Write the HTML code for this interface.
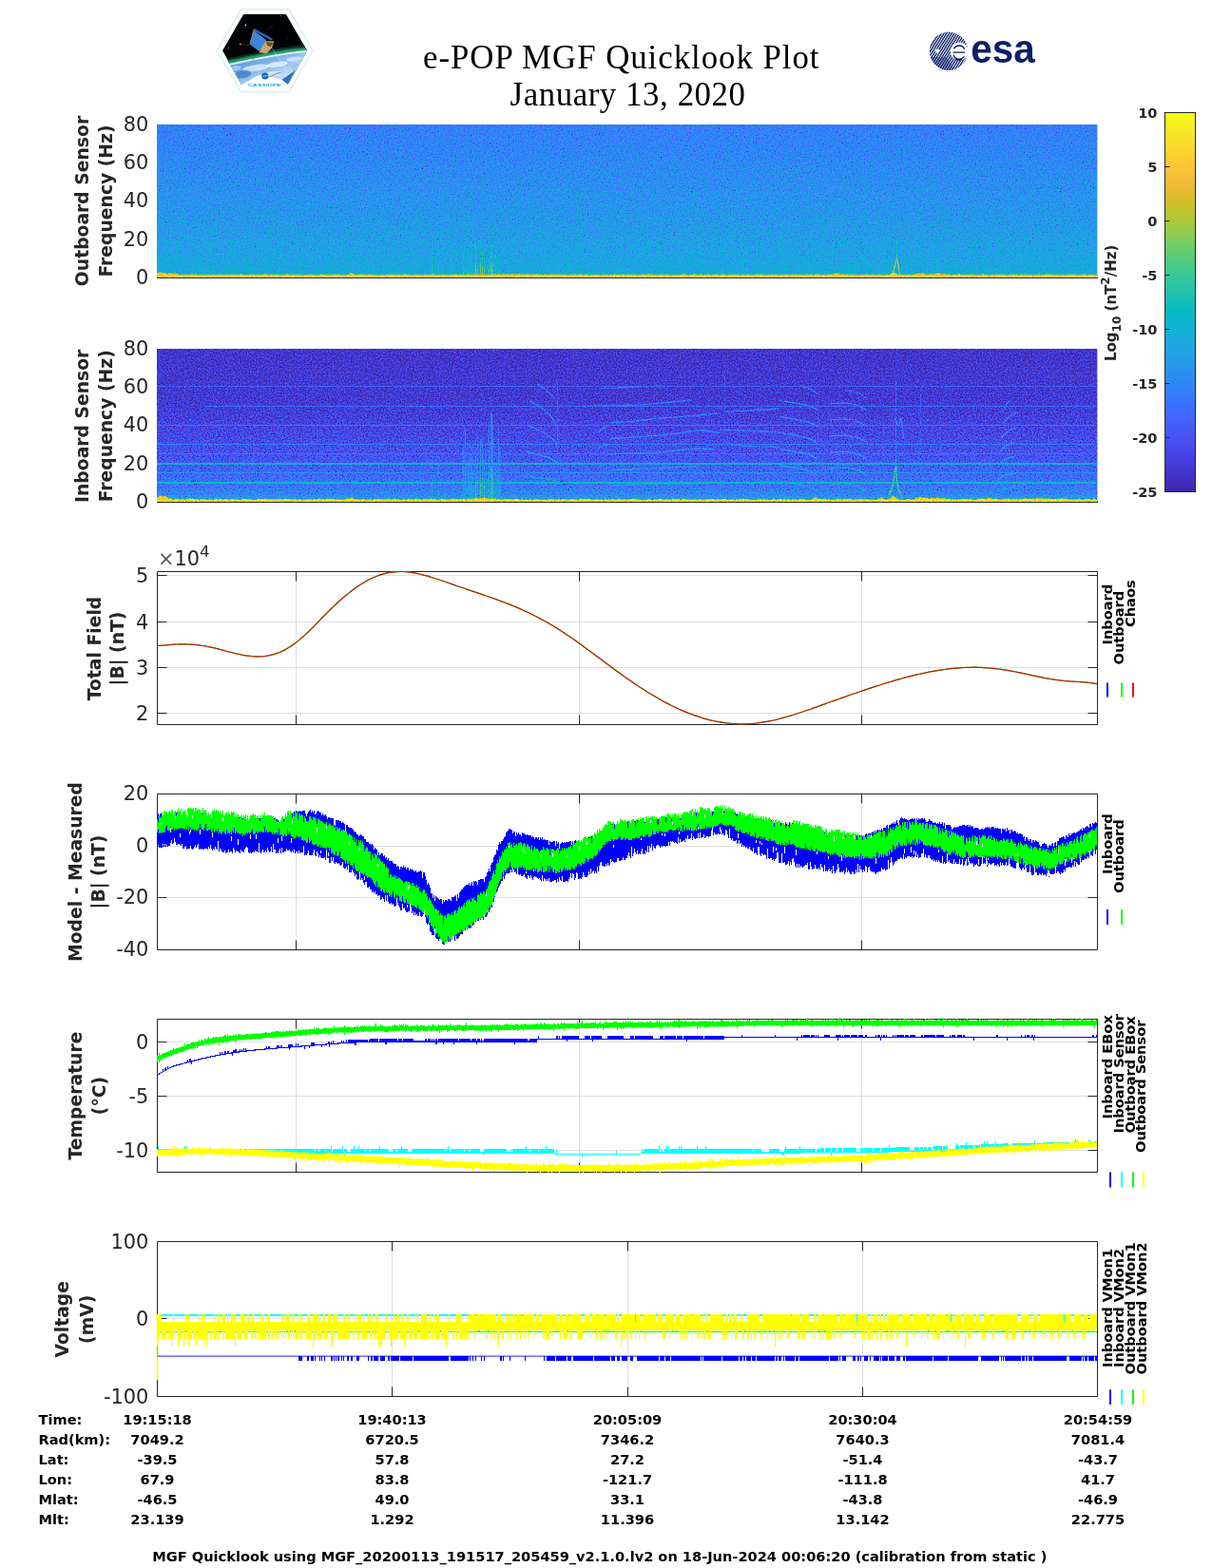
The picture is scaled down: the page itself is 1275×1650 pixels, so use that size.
<!DOCTYPE html>
<html lang="en"><head><meta charset="utf-8"><title>e-POP MGF Quicklook Plot</title>
<style>
html,body{margin:0;padding:0;background:#fff}
svg{display:block}
text{font-family:"DejaVu Sans","Liberation Sans",sans-serif;fill:#262626}
.tk{font-size:20.83px}
.yl{font-size:18.75px;font-weight:bold;text-anchor:middle}
.lg{font-size:14.58px;font-weight:bold;fill:#000}
.tb{font-size:14.58px;font-weight:bold;fill:#000}
.cb{font-size:14.58px;font-weight:bold;text-anchor:end}
.ttl{font-family:"Liberation Serif","DejaVu Serif",serif;font-size:34.8px;fill:#000}
</style></head><body>
<svg width="1275" height="1650" viewBox="0 0 1275 1650">
<defs>
<filter id="cm1" filterUnits="userSpaceOnUse" x="0" y="0" width="1275" height="1650" color-interpolation-filters="sRGB">
<feTurbulence type="fractalNoise" baseFrequency="0.66" numOctaves="3" seed="3" result="n"/>
<feColorMatrix in="n" type="matrix" values="1 0 0 0 0  1 0 0 0 0  1 0 0 0 0  0 0 0 0 1" result="ng"/>
<feComponentTransfer in="ng" result="nk"><feFuncR type="table" tableValues="0 0.28 0.47 0.6 0.69 0.76 0.815 0.86 0.895 0.92 0.94"/><feFuncG type="table" tableValues="0 0.28 0.47 0.6 0.69 0.76 0.815 0.86 0.895 0.92 0.94"/><feFuncB type="table" tableValues="0 0.28 0.47 0.6 0.69 0.76 0.815 0.86 0.895 0.92 0.94"/></feComponentTransfer>
<feComposite in="SourceGraphic" in2="nk" operator="arithmetic" k1="0" k2="1" k3="0.62" k4="-0.4712" result="v"/>
<feComposite in="v" in2="SourceGraphic" operator="in" result="vc"/>
<feComponentTransfer in="vc">
<feFuncR type="table" tableValues="0.2422 0.2504 0.2578 0.2647 0.2706 0.2751 0.2783 0.2803 0.2813 0.2810 0.2795 0.2760 0.2699 0.2602 0.2440 0.2206 0.1963 0.1834 0.1786 0.1764 0.1687 0.1540 0.1460 0.1380 0.1248 0.1113 0.0952 0.0689 0.0297 0.0036 0.0067 0.0433 0.0964 0.1408 0.1717 0.1938 0.2161 0.2470 0.2906 0.3406 0.3909 0.4456 0.5044 0.5616 0.6174 0.6720 0.7242 0.7738 0.8203 0.8634 0.9035 0.9393 0.9728 0.9956 0.9970 0.9952 0.9892 0.9786 0.9676 0.9610 0.9597 0.9628 0.9691 0.9769"/>
<feFuncG type="table" tableValues="0.1504 0.1650 0.1818 0.1978 0.2147 0.2342 0.2559 0.2782 0.3006 0.3228 0.3447 0.3667 0.3892 0.4123 0.4358 0.4603 0.4847 0.5074 0.5289 0.5499 0.5703 0.5902 0.6091 0.6276 0.6459 0.6635 0.6798 0.6948 0.7082 0.7203 0.7312 0.7411 0.7500 0.7584 0.7670 0.7758 0.7843 0.7918 0.7973 0.8008 0.8029 0.8024 0.7993 0.7942 0.7876 0.7793 0.7698 0.7598 0.7498 0.7406 0.7330 0.7288 0.7298 0.7434 0.7659 0.7893 0.8136 0.8386 0.8639 0.8890 0.9135 0.9373 0.9606 0.9839"/>
<feFuncB type="table" tableValues="0.6603 0.7076 0.7511 0.7952 0.8364 0.8710 0.8991 0.9221 0.9414 0.9579 0.9717 0.9829 0.9906 0.9952 0.9988 0.9973 0.9892 0.9798 0.9682 0.9520 0.9359 0.9218 0.9079 0.8973 0.8883 0.8763 0.8598 0.8394 0.8163 0.7917 0.7660 0.7394 0.7120 0.6842 0.6554 0.6251 0.5923 0.5567 0.5188 0.4789 0.4354 0.3909 0.3480 0.3045 0.2612 0.2227 0.1910 0.1646 0.1535 0.1596 0.1774 0.2100 0.2394 0.2371 0.2199 0.2028 0.1885 0.1766 0.1643 0.1537 0.1423 0.1265 0.1064 0.0805"/>
</feComponentTransfer>
</filter>
<filter id="cm2" filterUnits="userSpaceOnUse" x="0" y="0" width="1275" height="1650" color-interpolation-filters="sRGB">
<feTurbulence type="fractalNoise" baseFrequency="0.66" numOctaves="3" seed="8" result="n"/>
<feColorMatrix in="n" type="matrix" values="1 0 0 0 0  1 0 0 0 0  1 0 0 0 0  0 0 0 0 1" result="ng"/>
<feComponentTransfer in="ng" result="nk"><feFuncR type="table" tableValues="0 0.28 0.47 0.6 0.69 0.76 0.815 0.86 0.895 0.92 0.94"/><feFuncG type="table" tableValues="0 0.28 0.47 0.6 0.69 0.76 0.815 0.86 0.895 0.92 0.94"/><feFuncB type="table" tableValues="0 0.28 0.47 0.6 0.69 0.76 0.815 0.86 0.895 0.92 0.94"/></feComponentTransfer>
<feComposite in="SourceGraphic" in2="nk" operator="arithmetic" k1="0" k2="1" k3="0.82" k4="-0.6232" result="v"/>
<feComposite in="v" in2="SourceGraphic" operator="in" result="vc"/>
<feComponentTransfer in="vc">
<feFuncR type="table" tableValues="0.2422 0.2504 0.2578 0.2647 0.2706 0.2751 0.2783 0.2803 0.2813 0.2810 0.2795 0.2760 0.2699 0.2602 0.2440 0.2206 0.1963 0.1834 0.1786 0.1764 0.1687 0.1540 0.1460 0.1380 0.1248 0.1113 0.0952 0.0689 0.0297 0.0036 0.0067 0.0433 0.0964 0.1408 0.1717 0.1938 0.2161 0.2470 0.2906 0.3406 0.3909 0.4456 0.5044 0.5616 0.6174 0.6720 0.7242 0.7738 0.8203 0.8634 0.9035 0.9393 0.9728 0.9956 0.9970 0.9952 0.9892 0.9786 0.9676 0.9610 0.9597 0.9628 0.9691 0.9769"/>
<feFuncG type="table" tableValues="0.1504 0.1650 0.1818 0.1978 0.2147 0.2342 0.2559 0.2782 0.3006 0.3228 0.3447 0.3667 0.3892 0.4123 0.4358 0.4603 0.4847 0.5074 0.5289 0.5499 0.5703 0.5902 0.6091 0.6276 0.6459 0.6635 0.6798 0.6948 0.7082 0.7203 0.7312 0.7411 0.7500 0.7584 0.7670 0.7758 0.7843 0.7918 0.7973 0.8008 0.8029 0.8024 0.7993 0.7942 0.7876 0.7793 0.7698 0.7598 0.7498 0.7406 0.7330 0.7288 0.7298 0.7434 0.7659 0.7893 0.8136 0.8386 0.8639 0.8890 0.9135 0.9373 0.9606 0.9839"/>
<feFuncB type="table" tableValues="0.6603 0.7076 0.7511 0.7952 0.8364 0.8710 0.8991 0.9221 0.9414 0.9579 0.9717 0.9829 0.9906 0.9952 0.9988 0.9973 0.9892 0.9798 0.9682 0.9520 0.9359 0.9218 0.9079 0.8973 0.8883 0.8763 0.8598 0.8394 0.8163 0.7917 0.7660 0.7394 0.7120 0.6842 0.6554 0.6251 0.5923 0.5567 0.5188 0.4789 0.4354 0.3909 0.3480 0.3045 0.2612 0.2227 0.1910 0.1646 0.1535 0.1596 0.1774 0.2100 0.2394 0.2371 0.2199 0.2028 0.1885 0.1766 0.1643 0.1537 0.1423 0.1265 0.1064 0.0805"/>
</feComponentTransfer>
</filter>
<linearGradient id="g1" x1="0" y1="0" x2="0" y2="1"><stop offset="0" stop-color="#454545"/><stop offset="0.5" stop-color="#555555"/><stop offset="0.9" stop-color="#646464"/><stop offset="1" stop-color="#6e6e6e"/></linearGradient>
<linearGradient id="g2" x1="0" y1="0" x2="0" y2="1"><stop offset="0" stop-color="#0e0e0e"/><stop offset="0.35" stop-color="#131313"/><stop offset="0.7" stop-color="#262626"/><stop offset="0.93" stop-color="#454545"/><stop offset="1" stop-color="#575757"/></linearGradient>
<linearGradient id="cbg" x1="0" y1="0" x2="0" y2="1"><stop offset="0.0000" stop-color="#f9fb15"/><stop offset="0.0476" stop-color="#f5e924"/><stop offset="0.0952" stop-color="#fad62d"/><stop offset="0.1429" stop-color="#fec338"/><stop offset="0.1905" stop-color="#f0ba36"/><stop offset="0.2381" stop-color="#d1bf27"/><stop offset="0.2857" stop-color="#abc739"/><stop offset="0.3333" stop-color="#81cc59"/><stop offset="0.3810" stop-color="#57cc7a"/><stop offset="0.4286" stop-color="#37c897"/><stop offset="0.4762" stop-color="#24c1ae"/><stop offset="0.5238" stop-color="#02bac3"/><stop offset="0.5714" stop-color="#12b1d6"/><stop offset="0.6190" stop-color="#20a5e3"/><stop offset="0.6667" stop-color="#2797eb"/><stop offset="0.7143" stop-color="#2e87f7"/><stop offset="0.7619" stop-color="#3875fe"/><stop offset="0.8095" stop-color="#4563fd"/><stop offset="0.8571" stop-color="#4852f4"/><stop offset="0.9048" stop-color="#4741e5"/><stop offset="0.9524" stop-color="#4332cb"/><stop offset="1.0000" stop-color="#3e26a8"/></linearGradient>
</defs>
<rect x="0" y="0" width="1275" height="1650" fill="#fff"/>
<text class="ttl" x="445" y="71.5" textLength="416.5" lengthAdjust="spacing">e-POP MGF Quicklook Plot</text>
<text class="ttl" x="536.5" y="110.8" textLength="247.5" lengthAdjust="spacing">January 13, 2020</text>
<defs>
<clipPath id="hexc"><path d="M234.1 53.3L256.2 14.9L300.9 14.9L323.1 53.3L302.8 88.7L253.9 88.7Z"/></clipPath>
<linearGradient id="earth" x1="0" y1="0" x2="1" y2="1"><stop offset="0" stop-color="#2f74c9"/><stop offset="0.4" stop-color="#7fb2e8"/><stop offset="0.7" stop-color="#c4ddf6"/><stop offset="1" stop-color="#3f82d4"/></linearGradient>
<radialGradient id="sky" cx="0.5" cy="0.4" r="0.7"><stop offset="0" stop-color="#05070d"/><stop offset="1" stop-color="#000"/></radialGradient>
</defs>
<g id="cassiope">
<path d="M228.5 53.3L253.4 9.9L304.0 9.9L329.0 53.3L304.0 96.8L253.4 96.8Z" fill="none" stroke="#b4dfec" stroke-width="0.8"/>
<g clip-path="url(#hexc)">
<rect x="232" y="13" width="94" height="78" fill="#010204"/>
<path d="M233.2 62.4C235.7 61.9 242.6 60.5 248.2 59.4C253.9 58.2 260.8 56.7 267.1 55.4C273.3 54.2 279.6 53.0 285.9 51.9C292.2 50.8 298.4 49.7 304.7 48.8C311.0 48.0 320.4 47.1 323.5 46.8L323.5 94.1L233.2 94.1Z" fill="#072a20"/>
<path d="M233.2 64.6C235.7 64.1 242.6 62.7 248.2 61.6C253.9 60.4 260.8 58.9 267.1 57.6C273.3 56.3 279.6 55.1 285.9 54.0C292.2 52.9 298.4 51.9 304.7 51.0C311.0 50.2 320.4 49.3 323.5 48.9L323.5 94.1L233.2 94.1Z" fill="#17694a"/>
<path d="M233.2 66.1C235.7 65.6 242.6 64.2 248.2 63.1C253.9 61.9 260.8 60.4 267.1 59.1C273.3 57.9 279.6 56.6 285.9 55.5C292.2 54.4 298.4 53.4 304.7 52.5C311.0 51.7 320.4 50.8 323.5 50.4L323.5 94.1L233.2 94.1Z" fill="#2a9c6c"/>
<path d="M233.2 68.5C235.7 68.0 242.6 66.7 248.2 65.5C253.9 64.3 260.8 62.8 267.1 61.6C273.3 60.3 279.6 59.1 285.9 58.0C292.2 56.9 298.4 55.8 304.7 55.0C311.0 54.1 320.4 53.2 323.5 52.9L323.5 94.1L233.2 94.1Z" fill="#dfeefc"/>
<path d="M233.2 70.6C235.7 70.1 242.6 68.7 248.2 67.6C253.9 66.4 260.8 64.9 267.1 63.6C273.3 62.4 279.6 61.1 285.9 60.0C292.2 58.9 298.4 57.9 304.7 57.0C311.0 56.2 320.4 55.3 323.5 55.0L323.5 94.1L233.2 94.1Z" fill="url(#earth)"/>
<ellipse cx="268.9" cy="71.5" rx="14.1" ry="3.4" fill="#ffffff" opacity="0.6" transform="rotate(-8 268.9 71.5)"/>
<ellipse cx="291.5" cy="67.8" rx="11.3" ry="2.8" fill="#ffffff" opacity="0.65" transform="rotate(-8 291.5 67.8)"/>
<ellipse cx="309.4" cy="62.1" rx="8.5" ry="2.4" fill="#eaf4ff" opacity="0.6" transform="rotate(-8 309.4 62.1)"/>
<ellipse cx="255.8" cy="78.1" rx="8.5" ry="4.2" fill="#2a6cc0" opacity="0.6" transform="rotate(-8 255.8 78.1)"/>
<ellipse cx="285.9" cy="78.1" rx="10.4" ry="2.8" fill="#ffffff" opacity="0.5" transform="rotate(-8 285.9 78.1)"/>
<ellipse cx="312.2" cy="71.5" rx="5.6" ry="4.7" fill="#8dbcec" opacity="0.6" transform="rotate(-8 312.2 71.5)"/>
<ellipse cx="248.2" cy="71.5" rx="5.6" ry="2.4" fill="#dcecfb" opacity="0.5" transform="rotate(-8 248.2 71.5)"/>
<path d="M251.1 90.4C252.9 89.4 258.7 86.6 262.4 84.7C266.0 82.8 269.1 79.8 272.7 79.1C276.3 78.3 280.9 79.4 284.0 80.0C287.1 80.6 289.0 82.0 291.5 82.8C294.0 83.6 296.9 83.5 299.1 84.7C301.3 86.0 303.8 89.4 304.7 90.4" fill="#fff"/>
<path d="M296.7 83.8L310.8 73.9L302.8 88.9Z" fill="#2f6fc4"/>
<path d="M286.4 50.8L294.4 63.1L301.9 75.3" stroke="#e8f2ff" stroke-width="0.5" fill="none" opacity="0.9"/>
<path d="M252.5 46.6L262.8 47.5" stroke="#8a6a3a" stroke-width="0.45" fill="none"/>
<path d="M265.6 63.1L273.6 55.1" stroke="#8a6a3a" stroke-width="0.45" fill="none"/>
<path d="M280.2 32.0L287.8 25.4" stroke="#4a4030" stroke-width="0.35" fill="none"/>
<path d="M276.5 43.3L288.2 43.3L285.9 50.8L280.2 56.5L272.7 55.1Z" fill="#c9a568"/>
<path d="M280.2 44.2L287.3 44.7L284.9 48.9L281.2 48.0Z" fill="#6b4a25"/>
<path d="M266.8 30.3L268.9 31.1L264.2 47.1L262.4 46.1Z" fill="#b07a3a"/>
<path d="M268.5 30.6L287.3 40.9L284.9 42.4L267.1 32.5Z" fill="#2a66b8"/>
<path d="M267.5 32.5L280.2 41.9L272.7 54.1L262.8 46.6Z" fill="#3f86d8"/>
<circle cx="252.8" cy="46.6" r="0.9" fill="#f0b040"/>
<circle cx="265.9" cy="62.9" r="0.7" fill="#d09030"/>
<circle cx="258.4" cy="26.5" r="0.9" fill="#cfd4ff"/>
<circle cx="240.2" cy="50.4" r="0.7" fill="#9a90d0"/>
<circle cx="295.3" cy="16.5" r="0.6" fill="#a0a0b0"/>
<circle cx="302.8" cy="40.5" r="0.4" fill="#707080"/>
<circle cx="272.7" cy="21.6" r="0.4" fill="#606070"/>
<circle cx="309.4" cy="31.1" r="0.35" fill="#606070"/>
<circle cx="248.2" cy="40.5" r="0.35" fill="#505060"/>
</g>
<circle cx="278.8" cy="80.0" r="3.6" fill="#1d62b4"/>
<path d="M276.5 80.2L281.6 79.6" stroke="#fff" stroke-width="0.7" fill="none"/>
<path d="M281.6 80.9C282.4 80.8 284.2 80.6 285.9 80.0C287.5 79.4 290.0 77.7 291.5 77.2C293.1 76.6 294.7 76.8 295.3 76.7" stroke="#1d62b4" stroke-width="0.8" fill="none"/>
<text x="260.9" y="90.6" textLength="35" lengthAdjust="spacingAndGlyphs" style="font-family:'Liberation Sans',sans-serif;font-size:3.6px;font-weight:bold;fill:#2aa3dc">CASSIOPE</text>
</g>
<defs><pattern id="esastripe" width="2.3" height="2.3" patternUnits="userSpaceOnUse" patternTransform="rotate(-58 998 54)"><rect x="0" y="0" width="2.3" height="1.35" fill="#0c2066"/></pattern><clipPath id="esac"><circle cx="998" cy="53.8" r="20.2"/></clipPath></defs>
<g id="esa">
<circle cx="998" cy="53.8" r="20.2" fill="url(#esastripe)"/>
<g clip-path="url(#esac)"><path d="M978 60 A20 20 0 0 0 1004 73 L996 60 Z" fill="#0c2066" opacity="0.35"/></g>
<circle cx="1009.2" cy="54" r="9.6" fill="#fff"/>
<circle cx="986" cy="53.6" r="2.1" fill="#fff"/>
<path d="M1002.6 55.2 H1015.2 M1003.4 51.2 A6.3 6.3 0 0 1 1014.6 51.6 M1003 57.6 A6.4 6.4 0 0 0 1014.4 59.4 M1004.6 61.3 A6 6 0 0 0 1012 62.4" stroke="#0c2066" stroke-width="1.3" fill="none"/>
<text x="1021.3" y="65.7" textLength="67.5" lengthAdjust="spacingAndGlyphs" style="font-family:'Liberation Sans',sans-serif;font-size:43px;font-weight:bold;fill:#0c2066">esa</text>
</g>
<g filter="url(#cm1)"><rect x="165" y="131" width="989.5" height="161" fill="url(#g1)"/><path d="M454.5 263.5V280.7" stroke="#8f8f8f" stroke-width="1" fill="none" opacity="0.47"/><path d="M454.5 280.7V290" stroke="#a6a6a6" stroke-width="1" fill="none" opacity="0.56"/><path d="M461.5 264.9V281.2" stroke="#8f8f8f" stroke-width="1" fill="none" opacity="0.34"/><path d="M461.5 281.2V290" stroke="#a6a6a6" stroke-width="1" fill="none" opacity="0.40"/><path d="M487.5 266.4V281.7" stroke="#8f8f8f" stroke-width="1" fill="none" opacity="0.57"/><path d="M487.5 281.7V290" stroke="#a6a6a6" stroke-width="1" fill="none" opacity="0.67"/><path d="M489.5 270.4V283.1" stroke="#8f8f8f" stroke-width="1" fill="none" opacity="0.35"/><path d="M489.5 283.1V290" stroke="#a6a6a6" stroke-width="1" fill="none" opacity="0.41"/><path d="M492.5 260.1V279.5" stroke="#8f8f8f" stroke-width="1" fill="none" opacity="0.49"/><path d="M492.5 279.5V290" stroke="#a6a6a6" stroke-width="1" fill="none" opacity="0.58"/><path d="M494.5 274.7V284.6" stroke="#8f8f8f" stroke-width="1" fill="none" opacity="0.49"/><path d="M494.5 284.6V290" stroke="#a6a6a6" stroke-width="1" fill="none" opacity="0.58"/><path d="M496.5 259.4V279.3" stroke="#8f8f8f" stroke-width="1" fill="none" opacity="0.37"/><path d="M496.5 279.3V290" stroke="#a6a6a6" stroke-width="1" fill="none" opacity="0.44"/><path d="M500.5 255.1V277.8" stroke="#8f8f8f" stroke-width="1" fill="none" opacity="0.66"/><path d="M500.5 277.8V290" stroke="#bdbdbd" stroke-width="1" fill="none" opacity="0.78"/><path d="M502.5 270.3V283.1" stroke="#8f8f8f" stroke-width="1" fill="none" opacity="0.49"/><path d="M502.5 283.1V290" stroke="#bdbdbd" stroke-width="1" fill="none" opacity="0.57"/><path d="M505.5 252.7V276.9" stroke="#8f8f8f" stroke-width="1" fill="none" opacity="0.54"/><path d="M505.5 276.9V290" stroke="#bdbdbd" stroke-width="1" fill="none" opacity="0.64"/><path d="M507.5 265.0V281.3" stroke="#8f8f8f" stroke-width="1" fill="none" opacity="0.65"/><path d="M507.5 281.3V290" stroke="#bdbdbd" stroke-width="1" fill="none" opacity="0.76"/><path d="M509.5 265.0V281.3" stroke="#8f8f8f" stroke-width="1" fill="none" opacity="0.43"/><path d="M509.5 281.3V290" stroke="#bdbdbd" stroke-width="1" fill="none" opacity="0.50"/><path d="M514.5 269.4V282.8" stroke="#8f8f8f" stroke-width="1" fill="none" opacity="0.59"/><path d="M514.5 282.8V290" stroke="#bdbdbd" stroke-width="1" fill="none" opacity="0.69"/><path d="M516.5 257.3V278.6" stroke="#8f8f8f" stroke-width="1" fill="none" opacity="0.63"/><path d="M516.5 278.6V290" stroke="#bdbdbd" stroke-width="1" fill="none" opacity="0.74"/><path d="M517.5 265.3V281.3" stroke="#8f8f8f" stroke-width="1" fill="none" opacity="0.49"/><path d="M517.5 281.3V290" stroke="#bdbdbd" stroke-width="1" fill="none" opacity="0.58"/><path d="M518.5 256.8V278.4" stroke="#8f8f8f" stroke-width="1" fill="none" opacity="0.49"/><path d="M518.5 278.4V290" stroke="#bdbdbd" stroke-width="1" fill="none" opacity="0.57"/><path d="M521.5 264.6V281.1" stroke="#8f8f8f" stroke-width="1" fill="none" opacity="0.45"/><path d="M521.5 281.1V290" stroke="#a6a6a6" stroke-width="1" fill="none" opacity="0.52"/><path d="M524.5 267.9V282.3" stroke="#8f8f8f" stroke-width="1" fill="none" opacity="0.42"/><path d="M524.5 282.3V290" stroke="#a6a6a6" stroke-width="1" fill="none" opacity="0.49"/><path d="M525.5 274.6V284.6" stroke="#8f8f8f" stroke-width="1" fill="none" opacity="0.36"/><path d="M525.5 284.6V290" stroke="#a6a6a6" stroke-width="1" fill="none" opacity="0.43"/><path d="M938.0 290.0C938.4 288.8 939.6 286.0 940.5 283.0C941.4 280.0 942.7 272.0 943.5 272.0C944.3 272.0 944.9 280.0 945.5 283.0C946.1 286.0 946.8 288.8 947.0 290.0" stroke="#dbdbdb" stroke-width="1.1" fill="none" opacity="0.9"/><path d="M943.5 254V272" stroke="#9e9e9e" stroke-width="1" fill="none" opacity="0.6"/><rect x="165" y="287.5" width="989.5" height="2" fill="#808080" opacity="0.3"/><path d="M165 292L165 287.4L166.5 287.1L168 286.6L169.5 286.4L171 287.2L172.5 287L174 287.6L175.5 288L177 288.2L178.5 286.9L180 287.7L181.5 287.8L183 287.5L184.5 287.5L186 288.2L187.5 288.4L189 289L190.5 289L192 288.8L193.5 289.4L195 288.9L196.5 289.2L198 288.6L199.5 289.4L201 288.8L202.5 288.6L204 289.3L205.5 288.6L207 288.6L208.5 289.5L210 288.8L211.5 289.5L213 289L214.5 289.1L216 289.3L217.5 289.2L219 288.7L220.5 289.2L222 289.4L223.5 288.8L225 289.1L226.5 288.7L228 289.3L229.5 289.2L231 288.7L232.5 289L234 289L235.5 289.3L237 289.5L238.5 288.6L240 289.4L241.5 288.7L243 289.1L244.5 288.5L246 289.1L247.5 288.6L249 288.9L250.5 289.3L252 288.8L253.5 288.8L255 288.8L256.5 289L258 289.3L259.5 288.9L261 289.4L262.5 288.8L264 288.9L265.5 289.1L267 288.7L268.5 289.3L270 289.1L271.5 288.7L273 289.1L274.5 288.8L276 288.9L277.5 288.6L279 288.5L280.5 288.8L282 288.7L283.5 289.3L285 288.8L286.5 288.7L288 289.1L289.5 288.9L291 289L292.5 288.5L294 289.2L295.5 289.1L297 289.5L298.5 289.1L300 288.9L301.5 288.6L303 288.6L304.5 289.2L306 288.5L307.5 289.3L309 288.7L310.5 289.3L312 289.1L313.5 289.4L315 288.6L316.5 288.7L318 289.4L319.5 289L321 289.2L322.5 289L324 288.9L325.5 289.4L327 288.6L328.5 289.2L330 289.1L331.5 289.4L333 289.5L334.5 289.3L336 289.2L337.5 288.6L339 288.6L340.5 289L342 289L343.5 288.8L345 288.6L346.5 289.2L348 288.7L349.5 289.1L351 288.9L352.5 288.8L354 289L355.5 288.8L357 288.8L358.5 289.5L360 289.5L361.5 289.3L363 289.3L364.5 289.2L366 288.9L367.5 288.2L369 287.1L370.5 287.4L372 288.5L373.5 289L375 289.1L376.5 288.8L378 288.7L379.5 288.6L381 289.1L382.5 288.8L384 289.2L385.5 288.7L387 289.3L388.5 288.6L390 289L391.5 288.8L393 289L394.5 289.2L396 289L397.5 289.4L399 289.5L400.5 289L402 289L403.5 288.7L405 289.5L406.5 288.9L408 289L409.5 288.9L411 288.8L412.5 289L414 288.9L415.5 289L417 288.9L418.5 289.3L420 288.9L421.5 288.8L423 289.3L424.5 288.5L426 288.8L427.5 288.5L429 289.2L430.5 289.1L432 289.2L433.5 289.5L435 289.5L436.5 289.3L438 288.6L439.5 289.3L441 288.8L442.5 289.3L444 289.4L445.5 289.3L447 288.8L448.5 289L450 289L451.5 289L453 289.2L454.5 289L456 288.6L457.5 289.3L459 288.8L460.5 289.2L462 289.3L463.5 289.2L465 289.4L466.5 288.6L468 289.1L469.5 289.3L471 289.5L472.5 289.4L474 289.3L475.5 289.1L477 288.9L478.5 288.5L480 288.6L481.5 289.2L483 288.9L484.5 288.6L486 289.4L487.5 288.6L489 289.1L490.5 288.7L492 289.1L493.5 288.8L495 288.9L496.5 289.3L498 288.6L499.5 288.6L501 288.9L502.5 289L504 288.4L505.5 289L507 288.4L508.5 288.8L510 288.9L511.5 288.9L513 289.1L514.5 289L516 289L517.5 289.1L519 288.5L520.5 288.6L522 289L523.5 288.8L525 288.2L526.5 288.9L528 288.7L529.5 287.8L531 288.9L532.5 288.6L534 288.1L535.5 289L537 288.7L538.5 287.9L540 288.4L541.5 288.4L543 288.2L544.5 288.7L546 287.9L547.5 287.9L549 289L550.5 288.5L552 288.9L553.5 288.6L555 288.4L556.5 288.3L558 288.9L559.5 288.7L561 288.8L562.5 288.7L564 288.5L565.5 288.4L567 288.9L568.5 288.8L570 289.2L571.5 288.9L573 288.4L574.5 288.8L576 288.8L577.5 288.8L579 288.8L580.5 288.6L582 289.1L583.5 289.1L585 288.5L586.5 288.9L588 288.5L589.5 289.3L591 288.7L592.5 289L594 289L595.5 288.6L597 289.4L598.5 289L600 289.2L601.5 289.1L603 288.7L604.5 289.1L606 288.7L607.5 289.5L609 288.5L610.5 288.5L612 288.8L613.5 289.3L615 288.8L616.5 289.3L618 289.1L619.5 289.5L621 289.4L622.5 289.3L624 289.3L625.5 288.7L627 289.3L628.5 288.7L630 289.5L631.5 289.4L633 289.4L634.5 288.6L636 288.7L637.5 289.5L639 288.6L640.5 289.3L642 289.2L643.5 288.9L645 289.3L646.5 288.5L648 289.1L649.5 288.9L651 288.9L652.5 289.2L654 288.8L655.5 288.5L657 288.9L658.5 289.4L660 288.7L661.5 288.8L663 289L664.5 288.8L666 289.2L667.5 289.2L669 289L670.5 289.4L672 288.9L673.5 289.3L675 289.2L676.5 288.6L678 288.9L679.5 289.3L681 288.8L682.5 288.5L684 288.6L685.5 288.7L687 289.2L688.5 288.9L690 288.9L691.5 289.4L693 288.8L694.5 289L696 289L697.5 288.8L699 289.4L700.5 289.3L702 288.5L703.5 289.2L705 289.2L706.5 289.4L708 289.2L709.5 288.9L711 289.5L712.5 289.2L714 289.2L715.5 289.3L717 288.7L718.5 288.5L720 288.6L721.5 289.1L723 289.4L724.5 289.2L726 289L727.5 289.1L729 288.8L730.5 288.8L732 288.6L733.5 289L735 289.3L736.5 288.6L738 288.6L739.5 289.4L741 289.3L742.5 288.8L744 288.7L745.5 288.5L747 289.5L748.5 289.3L750 289.1L751.5 288.9L753 288.7L754.5 288.9L756 289L757.5 289.3L759 288.8L760.5 288.9L762 288.6L763.5 289.3L765 289.4L766.5 289.1L768 289.2L769.5 289L771 289.3L772.5 288.8L774 288.7L775.5 289.5L777 288.6L778.5 289.4L780 289.2L781.5 289L783 289.1L784.5 289.3L786 288.8L787.5 288.7L789 289.3L790.5 289.3L792 289L793.5 289.4L795 288.6L796.5 288.6L798 288.7L799.5 289.1L801 288.7L802.5 289.1L804 289L805.5 289.4L807 289.5L808.5 288.8L810 289.3L811.5 288.5L813 288.9L814.5 288.9L816 288.6L817.5 289.2L819 289.5L820.5 289.3L822 289L823.5 289.3L825 289.2L826.5 288.8L828 289.1L829.5 289.2L831 289.3L832.5 289L834 288.5L835.5 289.3L837 288.7L838.5 288.7L840 288.9L841.5 289L843 289L844.5 289.4L846 288.9L847.5 288.5L849 288.8L850.5 289L852 289.1L853.5 288.6L855 289.5L856.5 289.3L858 288.5L859.5 288.8L861 288.7L862.5 289L864 289.5L865.5 289L867 288.9L868.5 289.4L870 289L871.5 288.4L873 289.1L874.5 289L876 288.6L877.5 287.7L879 287.4L880.5 287.9L882 287.6L883.5 288.7L885 288.5L886.5 288.3L888 289.2L889.5 288.9L891 288.6L892.5 289.1L894 288.7L895.5 289L897 288.6L898.5 289.1L900 288.7L901.5 289.4L903 289.2L904.5 289.4L906 289.1L907.5 289.1L909 289.3L910.5 289.1L912 288.8L913.5 288.9L915 289.3L916.5 288.8L918 288.8L919.5 289.1L921 289L922.5 289.3L924 288.7L925.5 289.1L927 289.2L928.5 288.6L930 289.2L931.5 289.3L933 289.1L934.5 288.9L936 288.4L937.5 287.7L939 287.2L940.5 287L942 287.3L943.5 288.6L945 288.9L946.5 289L948 289.2L949.5 288.7L951 289L952.5 289.4L954 289.1L955.5 289L957 289.1L958.5 289.3L960 288.5L961.5 289.1L963 288L964.5 287.9L966 287.7L967.5 287.5L969 287.9L970.5 287.5L972 288.1L973.5 288.6L975 289L976.5 289.1L978 288.6L979.5 288.5L981 288.2L982.5 288.5L984 288.2L985.5 287.4L987 287.4L988.5 287.5L990 288.5L991.5 288.5L993 288.5L994.5 288.3L996 288.8L997.5 288.6L999 288.8L1000.5 289.4L1002 288.5L1003.5 288.9L1005 288.9L1006.5 289.2L1008 288.6L1009.5 288.5L1011 289.2L1012.5 289L1014 289.4L1015.5 288.7L1017 288.9L1018.5 289.3L1020 288.7L1021.5 289L1023 288.6L1024.5 288.7L1026 289.4L1027.5 289.3L1029 288.7L1030.5 289.5L1032 289.4L1033.5 288.6L1035 288.7L1036.5 289.2L1038 289.2L1039.5 289.5L1041 289.4L1042.5 289.5L1044 288.9L1045.5 288.9L1047 289.4L1048.5 288.7L1050 289L1051.5 288.9L1053 288.8L1054.5 289.3L1056 288.7L1057.5 289.1L1059 289L1060.5 289.4L1062 289.2L1063.5 289L1065 288.8L1066.5 289L1068 288.9L1069.5 288.7L1071 289.1L1072.5 289.5L1074 288.9L1075.5 288.6L1077 289.5L1078.5 289L1080 288.8L1081.5 289L1083 289.4L1084.5 289L1086 289.4L1087.5 289.4L1089 289.2L1090.5 289.3L1092 289L1093.5 288.6L1095 289.3L1096.5 288.5L1098 289.2L1099.5 288.7L1101 289L1102.5 288.7L1104 288.6L1105.5 288.7L1107 289.4L1108.5 288.6L1110 289.4L1111.5 288.8L1113 289.5L1114.5 289.2L1116 289.4L1117.5 288.9L1119 289.2L1120.5 288.9L1122 289.3L1123.5 289.1L1125 288.6L1126.5 288.9L1128 289L1129.5 288.8L1131 288.5L1132.5 289.2L1134 289.4L1135.5 289.3L1137 289.3L1138.5 289.1L1140 288.8L1141.5 288.7L1143 289.4L1144.5 289.3L1146 289.1L1147.5 288.7L1149 289L1150.5 289L1152 289.2L1153.5 289L1154.5 292Z" fill="#dbdbdb"/><rect x="165" y="290.6" width="989.5" height="1.4" fill="#e0e0e0"/></g>
<path d="M165 292.5H1155" stroke="#262626" stroke-width="1" fill="none"/>
<text class="tk" text-anchor="end" x="156.3" y="137.8">80</text>
<text class="tk" text-anchor="end" x="156.3" y="178.0">60</text>
<text class="tk" text-anchor="end" x="156.3" y="218.3">40</text>
<text class="tk" text-anchor="end" x="156.3" y="258.5">20</text>
<text class="tk" text-anchor="end" x="156.3" y="298.8">0</text>
<text class="yl" transform="translate(92.5,211.5) rotate(-90)">Outboard Sensor</text>
<text class="yl" transform="translate(118,211.5) rotate(-90)">Frequency (Hz)</text>
<g filter="url(#cm2)"><rect x="165" y="367" width="989.5" height="161" fill="url(#g2)"/><path d="M165 406.5H1154.5" stroke="#383838" stroke-width="1" fill="none" opacity="0.9"/><path d="M215 427.5H1154.5" stroke="#404040" stroke-width="1" fill="none" opacity="0.9"/><path d="M165 447.5H1154.5" stroke="#424242" stroke-width="1" fill="none" opacity="0.95"/><path d="M165 467.5H1154.5" stroke="#474747" stroke-width="1" fill="none" opacity="0.95"/><path d="M165 477.5H1154.5" stroke="#454545" stroke-width="1" fill="none" opacity="0.8"/><path d="M165 488H1154.5" stroke="#6b6b6b" stroke-width="2" fill="none" opacity="1"/><path d="M165 497.5H1154.5" stroke="#575757" stroke-width="1" fill="none" opacity="0.85"/><path d="M165 508H1154.5" stroke="#737373" stroke-width="2" fill="none" opacity="1"/><path d="M165 517.5H1154.5" stroke="#545454" stroke-width="1" fill="none" opacity="0.5"/><defs><linearGradient id="glow" x1="0" y1="0" x2="0" y2="1"><stop offset="0" stop-color="#fff" stop-opacity="0"/><stop offset="1" stop-color="#fff" stop-opacity="0.1"/></linearGradient></defs><rect x="486" y="460" width="41" height="65" fill="url(#glow)"/><path d="M454.5 475.5V507.4" stroke="#616161" stroke-width="1" fill="none" opacity="0.37"/><path d="M454.5 507.4V524.5" stroke="#7d7d7d" stroke-width="1" fill="none" opacity="0.43"/><path d="M461.5 489.6V512.3" stroke="#616161" stroke-width="1" fill="none" opacity="0.49"/><path d="M461.5 512.3V524.5" stroke="#7d7d7d" stroke-width="1" fill="none" opacity="0.57"/><path d="M487.5 470.8V505.7" stroke="#616161" stroke-width="1" fill="none" opacity="0.57"/><path d="M487.5 505.7V524.5" stroke="#7d7d7d" stroke-width="1" fill="none" opacity="0.67"/><path d="M489.5 450.9V498.7" stroke="#616161" stroke-width="1" fill="none" opacity="0.53"/><path d="M489.5 498.7V524.5" stroke="#7d7d7d" stroke-width="1" fill="none" opacity="0.63"/><path d="M492.5 491.5V512.9" stroke="#616161" stroke-width="1" fill="none" opacity="0.46"/><path d="M492.5 512.9V524.5" stroke="#7d7d7d" stroke-width="1" fill="none" opacity="0.54"/><path d="M494.5 463.3V503.1" stroke="#616161" stroke-width="1" fill="none" opacity="0.33"/><path d="M494.5 503.1V524.5" stroke="#7d7d7d" stroke-width="1" fill="none" opacity="0.39"/><path d="M496.5 469.9V505.4" stroke="#616161" stroke-width="1" fill="none" opacity="0.40"/><path d="M496.5 505.4V524.5" stroke="#7d7d7d" stroke-width="1" fill="none" opacity="0.47"/><path d="M500.5 472.8V506.4" stroke="#616161" stroke-width="1" fill="none" opacity="0.70"/><path d="M500.5 506.4V524.5" stroke="#999999" stroke-width="1" fill="none" opacity="0.82"/><path d="M502.5 459.8V501.9" stroke="#616161" stroke-width="1" fill="none" opacity="0.46"/><path d="M502.5 501.9V524.5" stroke="#999999" stroke-width="1" fill="none" opacity="0.54"/><path d="M505.5 463.1V503.0" stroke="#616161" stroke-width="1" fill="none" opacity="0.74"/><path d="M505.5 503.0V524.5" stroke="#999999" stroke-width="1" fill="none" opacity="0.87"/><path d="M507.5 461.8V502.5" stroke="#616161" stroke-width="1" fill="none" opacity="0.49"/><path d="M507.5 502.5V524.5" stroke="#999999" stroke-width="1" fill="none" opacity="0.57"/><path d="M509.5 482.2V509.7" stroke="#616161" stroke-width="1" fill="none" opacity="0.60"/><path d="M509.5 509.7V524.5" stroke="#999999" stroke-width="1" fill="none" opacity="0.70"/><path d="M514.5 444.2V496.4" stroke="#616161" stroke-width="1" fill="none" opacity="0.57"/><path d="M514.5 496.4V524.5" stroke="#999999" stroke-width="1" fill="none" opacity="0.67"/><path d="M516.5 432.7V492.4" stroke="#616161" stroke-width="1" fill="none" opacity="0.60"/><path d="M516.5 492.4V524.5" stroke="#999999" stroke-width="1" fill="none" opacity="0.71"/><path d="M517.5 435.9V493.5" stroke="#616161" stroke-width="1" fill="none" opacity="0.62"/><path d="M517.5 493.5V524.5" stroke="#999999" stroke-width="1" fill="none" opacity="0.73"/><path d="M518.5 449.0V498.1" stroke="#616161" stroke-width="1" fill="none" opacity="0.57"/><path d="M518.5 498.1V524.5" stroke="#999999" stroke-width="1" fill="none" opacity="0.66"/><path d="M521.5 488.5V511.9" stroke="#616161" stroke-width="1" fill="none" opacity="0.50"/><path d="M521.5 511.9V524.5" stroke="#7d7d7d" stroke-width="1" fill="none" opacity="0.59"/><path d="M524.5 450.6V498.6" stroke="#616161" stroke-width="1" fill="none" opacity="0.50"/><path d="M524.5 498.6V524.5" stroke="#7d7d7d" stroke-width="1" fill="none" opacity="0.59"/><path d="M525.5 472.8V506.4" stroke="#616161" stroke-width="1" fill="none" opacity="0.34"/><path d="M525.5 506.4V524.5" stroke="#7d7d7d" stroke-width="1" fill="none" opacity="0.40"/><path d="M586.5 400V524" stroke="#4c4c4c" stroke-width="1" fill="none" opacity="0.5"/><path d="M762.5 380V524" stroke="#333333" stroke-width="1" fill="none" opacity="0.5"/><path d="M929.5 440V524" stroke="#474747" stroke-width="1" fill="none" opacity="0.4"/><path d="M968.5 405V524" stroke="#404040" stroke-width="1" fill="none" opacity="0.4"/><path d="M988.5 440V524" stroke="#404040" stroke-width="1" fill="none" opacity="0.4"/><path d="M1000.5 470V524" stroke="#404040" stroke-width="1" fill="none" opacity="0.4"/><path d="M860.5 420V524" stroke="#404040" stroke-width="1" fill="none" opacity="0.4"/><path d="M557.3 421.9C559.6 423.2 566.9 427.1 570.7 429.9C574.4 432.7 577.6 435.6 580.0 438.7C582.4 441.7 584.4 446.4 585.3 448.0" stroke="#5e5e5e" stroke-width="1.15" fill="none" opacity="0.9"/><path d="M556.0 448.0C558.0 448.9 564.0 451.2 568.0 453.3C572.0 455.5 576.9 458.4 580.0 460.8C583.1 463.2 585.6 466.8 586.7 468.0" stroke="#636363" stroke-width="1.15" fill="none" opacity="0.9"/><path d="M553.3 475.2C555.8 475.8 563.6 477.7 568.0 478.9C572.4 480.2 576.9 481.2 580.0 482.7C583.1 484.1 585.6 486.7 586.7 487.5" stroke="#6e6e6e" stroke-width="1.15" fill="none" opacity="0.9"/><path d="M550.7 500.8C553.6 501.2 563.1 502.3 568.0 502.9C572.9 503.6 576.9 504.1 580.0 504.8C583.1 505.5 585.6 506.8 586.7 507.2" stroke="#6e6e6e" stroke-width="1.15" fill="none" opacity="0.9"/><path d="M565.3 404.0C566.9 405.1 571.6 408.0 574.7 410.7C577.8 413.3 582.4 418.4 584.0 420.0" stroke="#4f4f4f" stroke-width="1.15" fill="none" opacity="0.9"/><path d="M629.3 454.7C630.2 454.0 632.9 451.9 634.7 450.7C636.4 449.5 639.1 448.0 640.0 447.5" stroke="#5e5e5e" stroke-width="1.15" fill="none" opacity="0.9"/><path d="M629.3 472.0C630.2 471.5 632.9 469.5 634.7 468.8C636.4 468.1 639.1 468.1 640.0 468.0" stroke="#5e5e5e" stroke-width="1.15" fill="none" opacity="0.9"/><path d="M629.3 490.7C630.2 490.4 633.8 489.1 634.7 488.8" stroke="#5e5e5e" stroke-width="1.15" fill="none" opacity="0.9"/><path d="M641.3 444.8C645.6 444.5 658.0 444.0 666.7 443.2C675.3 442.4 682.2 441.0 693.3 440.0C704.4 439.0 723.1 438.2 733.3 437.3C743.6 436.4 751.1 435.1 754.7 434.7" stroke="#5e5e5e" stroke-width="1.15" fill="none" opacity="0.9"/><path d="M641.3 461.3C646.4 461.1 662.0 460.4 672.0 459.7C682.0 459.1 690.7 458.5 701.3 457.3C712.0 456.2 728.4 453.4 736.0 452.8C743.6 452.2 743.1 453.4 746.7 453.9C750.2 454.3 755.6 455.2 757.3 455.5" stroke="#616161" stroke-width="1.15" fill="none" opacity="0.9"/><path d="M641.3 477.9C646.4 477.7 662.0 477.2 672.0 476.8C682.0 476.4 690.7 476.0 701.3 475.2C712.0 474.4 727.6 472.4 736.0 472.0C744.4 471.6 749.3 472.9 752.0 473.1" stroke="#666666" stroke-width="1.15" fill="none" opacity="0.9"/><path d="M641.3 494.7C646.4 494.4 662.0 493.8 672.0 493.3C682.0 492.9 691.1 492.4 701.3 492.0C711.6 491.6 728.0 490.9 733.3 490.7" stroke="#6b6b6b" stroke-width="1.15" fill="none" opacity="0.9"/><path d="M613.3 427.2C619.6 427.1 639.1 427.0 650.7 426.7C662.2 426.4 669.8 426.3 682.7 425.3C695.6 424.4 720.4 421.6 728.0 420.8" stroke="#545454" stroke-width="1.15" fill="none" opacity="0.9"/><path d="M632.0 408.5C637.8 408.4 655.6 407.9 666.7 407.5C677.8 407.0 693.3 406.1 698.7 405.9" stroke="#454545" stroke-width="1.15" fill="none" opacity="0.9"/><path d="M762.7 433.3C766.7 433.1 777.1 432.6 786.7 432.0C796.2 431.4 814.4 430.2 820.0 429.9" stroke="#575757" stroke-width="1.15" fill="none" opacity="0.9"/><path d="M757.3 452.0C762.2 452.2 776.2 452.9 786.7 453.3C797.1 453.8 814.4 454.4 820.0 454.7" stroke="#595959" stroke-width="1.15" fill="none" opacity="0.9"/><path d="M762.7 466.7C766.7 467.1 777.1 468.7 786.7 469.3C796.2 470.0 814.4 470.4 820.0 470.7" stroke="#595959" stroke-width="1.15" fill="none" opacity="0.9"/><path d="M642.7 510.7C651.1 510.4 676.0 509.7 693.3 509.3C710.7 509.0 737.8 508.7 746.7 508.5" stroke="#696969" stroke-width="1.15" fill="none" opacity="0.9"/><path d="M820.0 421.3C822.7 421.8 831.1 423.1 836.0 424.0C840.9 424.9 845.3 425.4 849.3 426.7C853.3 427.9 858.2 430.7 860.0 431.5" stroke="#5e5e5e" stroke-width="1.15" fill="none" opacity="0.9"/><path d="M873.3 424.8C876.0 424.7 884.4 423.7 889.3 424.0C894.2 424.3 899.0 425.4 902.7 426.7C906.3 427.9 909.8 430.7 911.2 431.5" stroke="#5e5e5e" stroke-width="1.15" fill="none" opacity="0.9"/><path d="M820.0 438.4C822.7 438.8 831.1 440.2 836.0 441.1C840.9 442.0 845.3 442.5 849.3 443.7C853.3 445.0 858.2 447.7 860.0 448.5" stroke="#616161" stroke-width="1.15" fill="none" opacity="0.9"/><path d="M873.3 441.9C876.0 441.7 884.4 440.8 889.3 441.1C894.2 441.4 899.0 442.5 902.7 443.7C906.3 445.0 909.8 447.7 911.2 448.5" stroke="#616161" stroke-width="1.15" fill="none" opacity="0.9"/><path d="M820.0 455.5C822.7 455.9 831.1 457.2 836.0 458.1C840.9 459.0 845.3 459.6 849.3 460.8C853.3 462.0 858.2 464.8 860.0 465.6" stroke="#646464" stroke-width="1.15" fill="none" opacity="0.9"/><path d="M873.3 458.9C876.0 458.8 884.4 457.8 889.3 458.1C894.2 458.4 899.0 459.6 902.7 460.8C906.3 462.0 909.8 464.8 911.2 465.6" stroke="#646464" stroke-width="1.15" fill="none" opacity="0.9"/><path d="M820.0 472.5C822.7 473.0 831.1 474.3 836.0 475.2C840.9 476.1 845.3 476.6 849.3 477.9C853.3 479.1 858.2 481.9 860.0 482.7" stroke="#686868" stroke-width="1.15" fill="none" opacity="0.9"/><path d="M873.3 476.0C876.0 475.9 884.4 474.9 889.3 475.2C894.2 475.5 899.0 476.6 902.7 477.9C906.3 479.1 909.8 481.9 911.2 482.7" stroke="#686868" stroke-width="1.15" fill="none" opacity="0.9"/><path d="M820.0 489.6C822.7 490.0 831.1 491.4 836.0 492.3C840.9 493.2 845.3 493.7 849.3 494.9C853.3 496.2 858.2 498.9 860.0 499.7" stroke="#6b6b6b" stroke-width="1.15" fill="none" opacity="0.9"/><path d="M873.3 493.1C876.0 492.9 884.4 492.0 889.3 492.3C894.2 492.6 899.0 493.7 902.7 494.9C906.3 496.2 909.8 498.9 911.2 499.7" stroke="#6b6b6b" stroke-width="1.15" fill="none" opacity="0.9"/><path d="M820.0 506.7C822.7 507.1 831.1 508.4 836.0 509.3C840.9 510.2 845.3 510.8 849.3 512.0C853.3 513.2 858.2 516.0 860.0 516.8" stroke="#6e6e6e" stroke-width="1.15" fill="none" opacity="0.9"/><path d="M873.3 510.1C876.0 510.0 884.4 509.0 889.3 509.3C894.2 509.6 899.0 510.8 902.7 512.0C906.3 513.2 909.8 516.0 911.2 516.8" stroke="#6e6e6e" stroke-width="1.15" fill="none" opacity="0.9"/><path d="M841.3 405.3C843.1 406.0 848.9 407.8 852.0 409.3C855.1 410.9 858.7 413.8 860.0 414.7" stroke="#4a4a4a" stroke-width="1.15" fill="none" opacity="0.9"/><path d="M889.3 410.7C891.6 411.1 899.1 412.1 902.7 413.3C906.2 414.6 909.3 417.3 910.7 418.1" stroke="#4a4a4a" stroke-width="1.15" fill="none" opacity="0.9"/><path d="M1049.3 517.3C1051.1 516.7 1056.0 514.4 1060.0 513.3C1064.0 512.3 1071.1 511.6 1073.3 511.2" stroke="#6e6e6e" stroke-width="1.15" fill="none" opacity="0.9"/><path d="M1049.3 505.3C1050.7 504.4 1053.8 501.3 1057.3 500.0C1060.9 498.7 1068.4 497.8 1070.7 497.3" stroke="#6e6e6e" stroke-width="1.15" fill="none" opacity="0.9"/><path d="M1050.7 489.3C1051.8 488.4 1054.4 485.0 1057.3 483.5C1060.2 481.9 1066.2 480.6 1068.0 480.0" stroke="#696969" stroke-width="1.15" fill="none" opacity="0.9"/><path d="M1052.0 475.2C1053.1 474.1 1056.2 470.4 1058.7 468.8C1061.1 467.2 1065.3 465.9 1066.7 465.3" stroke="#636363" stroke-width="1.15" fill="none" opacity="0.9"/><path d="M1053.3 460.8C1054.4 459.6 1057.6 455.6 1060.0 453.9C1062.4 452.2 1066.7 451.2 1068.0 450.7" stroke="#5e5e5e" stroke-width="1.15" fill="none" opacity="0.9"/><path d="M1054.7 445.9C1055.8 444.7 1058.9 440.7 1061.3 438.7C1063.8 436.7 1068.0 434.7 1069.3 433.9" stroke="#595959" stroke-width="1.15" fill="none" opacity="0.9"/><path d="M1056.0 429.9C1056.7 428.9 1058.8 425.4 1060.0 424.0C1061.2 422.6 1062.7 421.8 1063.2 421.3" stroke="#525252" stroke-width="1.15" fill="none" opacity="0.9"/><path d="M941.3 440.0C942.0 441.3 944.2 448.0 945.3 448.0C946.4 448.0 947.1 437.8 948.0 440.0C948.9 442.2 950.2 457.8 950.7 461.3" stroke="#595959" stroke-width="1.15" fill="none" opacity="0.9"/><path d="M946.7 478.7C947.3 478.4 950.0 477.6 950.7 477.3" stroke="#6b6b6b" stroke-width="1.15" fill="none" opacity="0.9"/><path d="M934.0 524.0C934.8 522.0 937.6 517.5 939.0 512.0C940.4 506.5 941.7 491.3 942.5 491.0C943.3 490.7 942.9 504.5 944.0 510.0C945.1 515.5 948.2 521.7 949.0 524.0" stroke="#b8b8b8" stroke-width="1.3" fill="none" opacity="0.85"/><path d="M942.5 480V495" stroke="#999999" stroke-width="1" fill="none" opacity="0.6"/><path d="M942.5 400V480" stroke="#666666" stroke-width="1" fill="none" opacity="0.4"/><rect x="165" y="521" width="989.5" height="4" fill="#6b6b6b" opacity="0.35"/><path d="M165 528L165 522.6L166.5 523.5L168 521.8L169.5 521.4L171 522.4L172.5 521.9L174 522.2L175.5 522.8L177 524.6L178.5 523.9L180 524.5L181.5 525.6L183 525.9L184.5 524.7L186 524.5L187.5 524.8L189 525.6L190.5 525L192 525.6L193.5 524.9L195 525.7L196.5 524.8L198 524.5L199.5 524.5L201 524.7L202.5 524.6L204 525L205.5 525.2L207 524.6L208.5 526L210 525.5L211.5 525.1L213 525.3L214.5 524.8L216 525.8L217.5 526L219 525.9L220.5 524.6L222 525.9L223.5 525.7L225 525.5L226.5 525.1L228 524.8L229.5 526L231 524.6L232.5 524.9L234 525.6L235.5 525.8L237 525.1L238.5 525.1L240 525.7L241.5 525.8L243 524.9L244.5 525L246 524.8L247.5 525.7L249 524.9L250.5 526L252 526.1L253.5 525.8L255 524.8L256.5 525.2L258 525.1L259.5 525.2L261 525.1L262.5 525.6L264 524.9L265.5 526.1L267 525.5L268.5 526L270 525.9L271.5 524.7L273 525.1L274.5 524.8L276 525.1L277.5 525.2L279 524.8L280.5 525.1L282 525.3L283.5 525.2L285 525.2L286.5 525.6L288 525L289.5 525.4L291 525.1L292.5 525.3L294 524.9L295.5 525L297 526L298.5 524.8L300 524.7L301.5 525.6L303 524.9L304.5 524.7L306 525.3L307.5 525.9L309 524.9L310.5 524.8L312 525.6L313.5 525.8L315 524.9L316.5 525.3L318 526.1L319.5 525.8L321 525.8L322.5 525.2L324 525.2L325.5 525.3L327 525.6L328.5 525.5L330 525.3L331.5 525.2L333 525.2L334.5 525L336 524.5L337.5 524.9L339 525.3L340.5 524.5L342 525.9L343.5 524.6L345 525.3L346.5 525.3L348 524.7L349.5 525.1L351 524.8L352.5 525.5L354 525.2L355.5 525.1L357 525.7L358.5 524.9L360 525.8L361.5 525.8L363 525.5L364.5 524.2L366 524.2L367.5 524.7L369 523.8L370.5 523L372 524.9L373.5 525.1L375 525.6L376.5 524.9L378 525.9L379.5 525.5L381 525.4L382.5 524.7L384 525.5L385.5 525.9L387 525.4L388.5 525.5L390 525.2L391.5 525.9L393 525.4L394.5 525.1L396 525.4L397.5 524.6L399 525.5L400.5 524.7L402 525.6L403.5 525.5L405 525L406.5 525.2L408 524.6L409.5 524.7L411 525.6L412.5 525.6L414 525.1L415.5 524.8L417 525.9L418.5 524.7L420 525.5L421.5 525.9L423 525.7L424.5 524.8L426 525.7L427.5 525.9L429 525.1L430.5 524.6L432 525.6L433.5 525.3L435 525.5L436.5 524.6L438 524.7L439.5 525.3L441 524.5L442.5 525.7L444 525.4L445.5 525.2L447 524.9L448.5 525L450 525.4L451.5 524.6L453 524.5L454.5 524.7L456 525.4L457.5 524.8L459 525.7L460.5 525.8L462 526L463.5 524.8L465 524.5L466.5 525.6L468 524.9L469.5 525.7L471 524.9L472.5 525.8L474 525.3L475.5 524.8L477 524.5L478.5 525L480 524.9L481.5 525.3L483 525.7L484.5 524.6L486 525.7L487.5 524.6L489 525.2L490.5 525.6L492 525.5L493.5 524.5L495 524.9L496.5 524.8L498 524.7L499.5 523.9L501 523.8L502.5 524.4L504 524.5L505.5 523.4L507 524.2L508.5 523.7L510 523.7L511.5 524.3L513 524.2L514.5 524.7L516 524.3L517.5 524.4L519 525L520.5 524.3L522 525.5L523.5 525.2L525 524.8L526.5 525.8L528 524.5L529.5 526L531 524.6L532.5 525.6L534 524.7L535.5 525.6L537 524.8L538.5 525.2L540 525.4L541.5 525.2L543 524.5L544.5 524.7L546 525.6L547.5 525.7L549 524.6L550.5 525.9L552 526L553.5 525L555 525.8L556.5 526.1L558 525.1L559.5 525.9L561 525.7L562.5 524.9L564 524.6L565.5 525.4L567 525.3L568.5 526L570 525.3L571.5 525.8L573 525.2L574.5 525.9L576 525.6L577.5 524.7L579 525.6L580.5 524.8L582 525L583.5 525.9L585 525.4L586.5 525.3L588 525.3L589.5 525.8L591 525.6L592.5 524.9L594 525.2L595.5 525.4L597 525.4L598.5 525.4L600 525.3L601.5 525.2L603 524.7L604.5 526.1L606 525.1L607.5 526L609 526L610.5 524.6L612 525.1L613.5 525.3L615 524.8L616.5 525.3L618 524.7L619.5 524.7L621 524.5L622.5 526L624 525.5L625.5 525.8L627 525L628.5 525.1L630 525.5L631.5 525.9L633 525.3L634.5 525.9L636 524.9L637.5 525.3L639 526L640.5 524.9L642 525.7L643.5 525.3L645 525L646.5 525.5L648 525.8L649.5 525.2L651 524.9L652.5 524.7L654 525.8L655.5 525.4L657 525L658.5 525.9L660 526.1L661.5 524.7L663 525.5L664.5 524.7L666 524.8L667.5 525L669 524.5L670.5 525.8L672 525.4L673.5 525.7L675 525.8L676.5 525.7L678 525.6L679.5 525.8L681 525.2L682.5 524.7L684 525.3L685.5 525.9L687 525.9L688.5 524.9L690 525.6L691.5 526L693 524.8L694.5 524.6L696 525.1L697.5 526L699 525.7L700.5 525L702 524.9L703.5 526L705 524.5L706.5 525.9L708 524.5L709.5 525.1L711 525.3L712.5 524.8L714 524.8L715.5 525.9L717 525.8L718.5 524.6L720 524.6L721.5 524.8L723 526.1L724.5 525.2L726 525.6L727.5 525.2L729 525.9L730.5 524.9L732 525.9L733.5 525.7L735 525.7L736.5 524.7L738 525.6L739.5 525.7L741 525.6L742.5 525.4L744 525.2L745.5 525.1L747 525.5L748.5 525L750 525L751.5 525.3L753 525.7L754.5 524.8L756 525.4L757.5 525.4L759 525.4L760.5 524.7L762 524.9L763.5 524.6L765 526L766.5 525.6L768 525.4L769.5 525.6L771 524.7L772.5 526L774 525.8L775.5 524.7L777 525.9L778.5 524.5L780 525.3L781.5 524.6L783 524.9L784.5 525.1L786 525.6L787.5 524.9L789 525.7L790.5 526L792 525.6L793.5 525.4L795 526L796.5 525.4L798 525.3L799.5 525L801 525.1L802.5 526L804 524.8L805.5 526L807 525.3L808.5 526L810 525.4L811.5 525.9L813 524.7L814.5 524.7L816 525.7L817.5 525.9L819 525.2L820.5 525.1L822 525L823.5 525.7L825 524.7L826.5 526L828 525.6L829.5 524.6L831 525.8L832.5 525.7L834 524.9L835.5 525.7L837 524.9L838.5 526L840 525.6L841.5 524.8L843 525.1L844.5 525.2L846 524.8L847.5 525.9L849 525.8L850.5 525.7L852 525.9L853.5 525.7L855 524.8L856.5 523.8L858 522.8L859.5 524.1L861 525.1L862.5 524.8L864 525.5L865.5 525L867 525L868.5 524.9L870 526L871.5 524.8L873 525.7L874.5 526L876 525.9L877.5 525L879 525.8L880.5 525L882 525.1L883.5 525.6L885 524.6L886.5 525.9L888 524.8L889.5 525.3L891 525.2L892.5 524.8L894 525.3L895.5 524.8L897 525.9L898.5 525.5L900 524.7L901.5 525.8L903 524.7L904.5 525L906 525.5L907.5 524.9L909 525.5L910.5 525.6L912 525.1L913.5 525.3L915 525.8L916.5 525.5L918 525.4L919.5 525.7L921 525.7L922.5 525.7L924 524.5L925.5 524.7L927 522.7L928.5 524.2L930 524.6L931.5 525.8L933 525.9L934.5 524.6L936 524.4L937.5 523.8L939 521.7L940.5 521.9L942 523.5L943.5 524.2L945 525.8L946.5 525.5L948 525.4L949.5 525.5L951 526L952.5 526.1L954 525.2L955.5 525L957 525.3L958.5 525.4L960 525.7L961.5 525.3L963 524.5L964.5 523.5L966 524L967.5 522.9L969 523.4L970.5 523.5L972 523.6L973.5 523.7L975 523.2L976.5 524.4L978 524.5L979.5 523.4L981 523.7L982.5 523.9L984 524.7L985.5 523.5L987 523.8L988.5 524L990 524.4L991.5 524.4L993 524.1L994.5 524.5L996 525.5L997.5 524.4L999 525.2L1000.5 525.6L1002 524.8L1003.5 526.1L1005 525L1006.5 525.7L1008 525.6L1009.5 524.9L1011 525.4L1012.5 524.6L1014 524.9L1015.5 524.7L1017 524.7L1018.5 525.3L1020 525L1021.5 525.3L1023 525.3L1024.5 525.6L1026 526L1027.5 525.4L1029 524.4L1030.5 524.9L1032 524.5L1033.5 524.4L1035 524.4L1036.5 524.9L1038 524.7L1039.5 523.9L1041 524L1042.5 523.9L1044 524.9L1045.5 525.2L1047 524L1048.5 524.7L1050 525.1L1051.5 525.7L1053 525.7L1054.5 525.6L1056 524.7L1057.5 524.8L1059 525.2L1060.5 524.5L1062 524.5L1063.5 525.7L1065 524.5L1066.5 525.2L1068 524.5L1069.5 524.8L1071 525.7L1072.5 525.3L1074 524.1L1075.5 525.5L1077 524.7L1078.5 524.4L1080 524.1L1081.5 525.3L1083 524.5L1084.5 525L1086 524.7L1087.5 523.9L1089 525.1L1090.5 524L1092 523.8L1093.5 524.4L1095 524.4L1096.5 524L1098 524.8L1099.5 523.6L1101 524.7L1102.5 524.4L1104 524.5L1105.5 524.8L1107 525L1108.5 525L1110 524.7L1111.5 524.8L1113 525.2L1114.5 524.3L1116 524.8L1117.5 524L1119 524.9L1120.5 525L1122 524.7L1123.5 525.7L1125 525L1126.5 525.5L1128 525.6L1129.5 525.7L1131 525.3L1132.5 525.6L1134 525.2L1135.5 524.5L1137 525.6L1138.5 525.7L1140 525.3L1141.5 525.1L1143 524.7L1144.5 525.2L1146 524.6L1147.5 525.9L1149 526L1150.5 524.6L1152 525.1L1153.5 525.6L1154.5 528Z" fill="#dbdbdb"/><rect x="165" y="526" width="989.5" height="2" fill="#ebebeb"/></g>
<path d="M165 406.5H1154.5" stroke="#4367fd" stroke-width="1" fill="none" opacity="0.35"/>
<path d="M215 427.5H1154.5" stroke="#3b72ff" stroke-width="1" fill="none" opacity="0.4"/>
<path d="M165 447.5H1154.5" stroke="#347afd" stroke-width="1" fill="none" opacity="0.5"/>
<path d="M165 467.5H1154.5" stroke="#2f81fa" stroke-width="1" fill="none" opacity="0.5"/>
<path d="M165 477.5H1154.5" stroke="#2f81fa" stroke-width="1" fill="none" opacity="0.3"/>
<path d="M165 488H1154.5" stroke="#11b1d6" stroke-width="2" fill="none" opacity="0.55"/>
<path d="M165 497.5H1154.5" stroke="#2895ec" stroke-width="1" fill="none" opacity="0.4"/>
<path d="M165 508H1154.5" stroke="#05b6ce" stroke-width="2" fill="none" opacity="0.55"/>
<path d="M165 528.5H1155" stroke="#262626" stroke-width="1" fill="none"/>
<text class="tk" text-anchor="end" x="156.3" y="373.8">80</text>
<text class="tk" text-anchor="end" x="156.3" y="414.0">60</text>
<text class="tk" text-anchor="end" x="156.3" y="454.3">40</text>
<text class="tk" text-anchor="end" x="156.3" y="494.6">20</text>
<text class="tk" text-anchor="end" x="156.3" y="535.0">0</text>
<text class="yl" transform="translate(92.5,448.3) rotate(-90)">Inboard Sensor</text>
<text class="yl" transform="translate(118,448.3) rotate(-90)">Frequency (Hz)</text>
<rect x="1225.5" y="118.5" width="32" height="399" fill="url(#cbg)" stroke="#262626" stroke-width="1"/>
<path d="M1226 175.5h4.5M1226 232.5h4.5M1226 289.5h4.5M1226 346.5h4.5M1226 403.5h4.5M1226 460.5h4.5" stroke="#262626" stroke-width="1" fill="none"/>
<text class="cb" x="1217.5" y="123.5">10</text>
<text class="cb" x="1217.5" y="180.5">5</text>
<text class="cb" x="1217.5" y="237.5">0</text>
<text class="cb" x="1217.5" y="294.5">-5</text>
<text class="cb" x="1217.5" y="351.5">-10</text>
<text class="cb" x="1217.5" y="408.5">-15</text>
<text class="cb" x="1217.5" y="465.5">-20</text>
<text class="cb" x="1217.5" y="522.5">-25</text>
<text class="lg" style="fill:#262626;font-size:15px" transform="translate(1174.3,380) rotate(-90)">Log<tspan dy="5" font-size="12px">10</tspan><tspan dy="-5"> (nT</tspan><tspan dy="-7" font-size="12px">2</tspan><tspan dy="7">/Hz)</tspan></text>
<path d="M165.5 605.5H1154.5M165.5 654.5H1154.5M165.5 702.5H1154.5M165.5 750.5H1154.5" stroke="#262626" stroke-opacity="0.15" stroke-width="1" fill="none"/>
<path d="M311.5 601.5V762.5M609.5 601.5V762.5M906.5 601.5V762.5" stroke="#262626" stroke-opacity="0.15" stroke-width="1" fill="none"/>
<path d="M165.5 601.5H1154.5V762.5H165.5ZM165.5 605.5h10M1154.5 605.5h-10M165.5 654.5h10M1154.5 654.5h-10M165.5 702.5h10M1154.5 702.5h-10M165.5 750.5h10M1154.5 750.5h-10M311.5 601.5v10M311.5 762.5v-10M609.5 601.5v10M609.5 762.5v-10M906.5 601.5v10M906.5 762.5v-10" stroke="#262626" stroke-width="1" fill="none"/>
<g><path d="M165.5 679.5L168.5 679.3L171.5 679L174.5 678.8L177.5 678.6L180.5 678.4L183.5 678.2L186.5 678L189.5 677.9L192.5 677.9L195.5 677.9L198.5 678L201.5 678.2L204.5 678.4L207.5 678.7L210.5 679.1L213.5 679.5L216.5 680L219.5 680.6L222.5 681.2L225.5 681.9L228.5 682.6L231.5 683.4L234.5 684.2L237.5 685L240.5 685.8L243.5 686.5L246.5 687.3L249.5 688L252.5 688.7L255.5 689.3L258.5 689.8L261.5 690.2L264.5 690.5L267.5 690.8L270.5 690.8L273.5 690.8L276.5 690.6L279.5 690.3L282.5 689.8L285.5 689.2L288.5 688.4L291.5 687.4L294.5 686.2L297.5 684.9L300.5 683.4L303.5 681.6L306.5 679.7L309.5 677.6L312.5 675.4L315.5 672.9L318.5 670.3L321.5 667.6L324.5 664.8L327.5 661.8L330.5 658.8L333.5 655.7L336.5 652.6L339.5 649.5L342.5 646.5L345.5 643.4L348.5 640.5L351.5 637.6L354.5 634.7L357.5 632L360.5 629.4L363.5 626.8L366.5 624.4L369.5 622L372.5 619.8L375.5 617.6L378.5 615.6L381.5 613.7L384.5 612L387.5 610.3L390.5 608.8L393.5 607.5L396.5 606.2L399.5 605.1L402.5 604.2L405.5 603.4L408.5 602.7L411.5 602.2L414.5 601.8L417.5 601.6L420.5 601.5L423.5 601.5L426.5 601.7L429.5 601.9L432.5 602.3L435.5 602.8L438.5 603.4L441.5 604L444.5 604.8L447.5 605.6L450.5 606.4L453.5 607.4L456.5 608.3L459.5 609.3L462.5 610.3L465.5 611.3L468.5 612.3L471.5 613.3L474.5 614.4L477.5 615.4L480.5 616.5L483.5 617.5L486.5 618.5L489.5 619.5L492.5 620.6L495.5 621.6L498.5 622.6L501.5 623.6L504.5 624.6L507.5 625.6L510.5 626.7L513.5 627.7L516.5 628.7L519.5 629.8L522.5 630.9L525.5 632L528.5 633.1L531.5 634.3L534.5 635.4L537.5 636.6L540.5 637.9L543.5 639.1L546.5 640.4L549.5 641.8L552.5 643.1L555.5 644.5L558.5 646L561.5 647.5L564.5 649L567.5 650.6L570.5 652.2L573.5 653.8L576.5 655.5L579.5 657.3L582.5 659.1L585.5 660.9L588.5 662.8L591.5 664.7L594.5 666.7L597.5 668.7L600.5 670.8L603.5 672.8L606.5 675L609.5 677.1L612.5 679.3L615.5 681.5L618.5 683.7L621.5 685.9L624.5 688.1L627.5 690.4L630.5 692.6L633.5 694.8L636.5 697.1L639.5 699.3L642.5 701.5L645.5 703.7L648.5 705.9L651.5 708.1L654.5 710.3L657.5 712.4L660.5 714.5L663.5 716.6L666.5 718.7L669.5 720.7L672.5 722.7L675.5 724.6L678.5 726.6L681.5 728.4L684.5 730.3L687.5 732.1L690.5 733.8L693.5 735.6L696.5 737.2L699.5 738.9L702.5 740.4L705.5 742L708.5 743.5L711.5 744.9L714.5 746.3L717.5 747.6L720.5 748.9L723.5 750.1L726.5 751.3L729.5 752.4L732.5 753.4L735.5 754.4L738.5 755.4L741.5 756.3L744.5 757.1L747.5 757.8L750.5 758.5L753.5 759.2L756.5 759.7L759.5 760.2L762.5 760.7L765.5 761L768.5 761.3L771.5 761.6L774.5 761.7L777.5 761.8L780.5 761.9L783.5 761.8L786.5 761.7L789.5 761.5L792.5 761.3L795.5 761L798.5 760.6L801.5 760.2L804.5 759.7L807.5 759.2L810.5 758.6L813.5 758L816.5 757.3L819.5 756.5L822.5 755.7L825.5 754.9L828.5 754L831.5 753.1L834.5 752.2L837.5 751.2L840.5 750.3L843.5 749.3L846.5 748.2L849.5 747.2L852.5 746.2L855.5 745.1L858.5 744.1L861.5 743L864.5 741.9L867.5 740.9L870.5 739.8L873.5 738.7L876.5 737.6L879.5 736.6L882.5 735.5L885.5 734.4L888.5 733.4L891.5 732.3L894.5 731.3L897.5 730.2L900.5 729.2L903.5 728.2L906.5 727.1L909.5 726.1L912.5 725.1L915.5 724.1L918.5 723.1L921.5 722.1L924.5 721.2L927.5 720.2L930.5 719.3L933.5 718.4L936.5 717.5L939.5 716.6L942.5 715.7L945.5 714.9L948.5 714L951.5 713.2L954.5 712.4L957.5 711.6L960.5 710.9L963.5 710.2L966.5 709.5L969.5 708.8L972.5 708.2L975.5 707.5L978.5 706.9L981.5 706.4L984.5 705.9L987.5 705.4L990.5 704.9L993.5 704.5L996.5 704.1L999.5 703.7L1002.5 703.4L1005.5 703.1L1008.5 702.8L1011.5 702.6L1014.5 702.5L1017.5 702.4L1020.5 702.3L1023.5 702.2L1026.5 702.2L1029.5 702.3L1032.5 702.4L1035.5 702.6L1038.5 702.8L1041.5 703L1044.5 703.3L1047.5 703.6L1050.5 704L1053.5 704.4L1056.5 704.8L1059.5 705.3L1062.5 705.9L1065.5 706.4L1068.5 707L1071.5 707.6L1074.5 708.2L1077.5 708.8L1080.5 709.5L1083.5 710.1L1086.5 710.8L1089.5 711.4L1092.5 712.1L1095.5 712.7L1098.5 713.3L1101.5 713.8L1104.5 714.4L1107.5 714.9L1110.5 715.3L1113.5 715.7L1116.5 716.1L1119.5 716.4L1122.5 716.6L1125.5 716.9L1128.5 717.1L1131.5 717.3L1134.5 717.5L1137.5 717.7L1140.5 717.9L1143.5 718.2L1146.5 718.5L1149.5 718.9L1152.5 719.4L1154 719.7" stroke="#00b400" stroke-width="1.2" fill="none"/><path d="M165.5 679.5L168.5 679.3L171.5 679L174.5 678.8L177.5 678.6L180.5 678.4L183.5 678.2L186.5 678L189.5 677.9L192.5 677.9L195.5 677.9L198.5 678L201.5 678.2L204.5 678.4L207.5 678.7L210.5 679.1L213.5 679.5L216.5 680L219.5 680.6L222.5 681.2L225.5 681.9L228.5 682.6L231.5 683.4L234.5 684.2L237.5 685L240.5 685.8L243.5 686.5L246.5 687.3L249.5 688L252.5 688.7L255.5 689.3L258.5 689.8L261.5 690.2L264.5 690.5L267.5 690.8L270.5 690.8L273.5 690.8L276.5 690.6L279.5 690.3L282.5 689.8L285.5 689.2L288.5 688.4L291.5 687.4L294.5 686.2L297.5 684.9L300.5 683.4L303.5 681.6L306.5 679.7L309.5 677.6L312.5 675.4L315.5 672.9L318.5 670.3L321.5 667.6L324.5 664.8L327.5 661.8L330.5 658.8L333.5 655.7L336.5 652.6L339.5 649.5L342.5 646.5L345.5 643.4L348.5 640.5L351.5 637.6L354.5 634.7L357.5 632L360.5 629.4L363.5 626.8L366.5 624.4L369.5 622L372.5 619.8L375.5 617.6L378.5 615.6L381.5 613.7L384.5 612L387.5 610.3L390.5 608.8L393.5 607.5L396.5 606.2L399.5 605.1L402.5 604.2L405.5 603.4L408.5 602.7L411.5 602.2L414.5 601.8L417.5 601.6L420.5 601.5L423.5 601.5L426.5 601.7L429.5 601.9L432.5 602.3L435.5 602.8L438.5 603.4L441.5 604L444.5 604.8L447.5 605.6L450.5 606.4L453.5 607.4L456.5 608.3L459.5 609.3L462.5 610.3L465.5 611.3L468.5 612.3L471.5 613.3L474.5 614.4L477.5 615.4L480.5 616.5L483.5 617.5L486.5 618.5L489.5 619.5L492.5 620.6L495.5 621.6L498.5 622.6L501.5 623.6L504.5 624.6L507.5 625.6L510.5 626.7L513.5 627.7L516.5 628.7L519.5 629.8L522.5 630.9L525.5 632L528.5 633.1L531.5 634.3L534.5 635.4L537.5 636.6L540.5 637.9L543.5 639.1L546.5 640.4L549.5 641.8L552.5 643.1L555.5 644.5L558.5 646L561.5 647.5L564.5 649L567.5 650.6L570.5 652.2L573.5 653.8L576.5 655.5L579.5 657.3L582.5 659.1L585.5 660.9L588.5 662.8L591.5 664.7L594.5 666.7L597.5 668.7L600.5 670.8L603.5 672.8L606.5 675L609.5 677.1L612.5 679.3L615.5 681.5L618.5 683.7L621.5 685.9L624.5 688.1L627.5 690.4L630.5 692.6L633.5 694.8L636.5 697.1L639.5 699.3L642.5 701.5L645.5 703.7L648.5 705.9L651.5 708.1L654.5 710.3L657.5 712.4L660.5 714.5L663.5 716.6L666.5 718.7L669.5 720.7L672.5 722.7L675.5 724.6L678.5 726.6L681.5 728.4L684.5 730.3L687.5 732.1L690.5 733.8L693.5 735.6L696.5 737.2L699.5 738.9L702.5 740.4L705.5 742L708.5 743.5L711.5 744.9L714.5 746.3L717.5 747.6L720.5 748.9L723.5 750.1L726.5 751.3L729.5 752.4L732.5 753.4L735.5 754.4L738.5 755.4L741.5 756.3L744.5 757.1L747.5 757.8L750.5 758.5L753.5 759.2L756.5 759.7L759.5 760.2L762.5 760.7L765.5 761L768.5 761.3L771.5 761.6L774.5 761.7L777.5 761.8L780.5 761.9L783.5 761.8L786.5 761.7L789.5 761.5L792.5 761.3L795.5 761L798.5 760.6L801.5 760.2L804.5 759.7L807.5 759.2L810.5 758.6L813.5 758L816.5 757.3L819.5 756.5L822.5 755.7L825.5 754.9L828.5 754L831.5 753.1L834.5 752.2L837.5 751.2L840.5 750.3L843.5 749.3L846.5 748.2L849.5 747.2L852.5 746.2L855.5 745.1L858.5 744.1L861.5 743L864.5 741.9L867.5 740.9L870.5 739.8L873.5 738.7L876.5 737.6L879.5 736.6L882.5 735.5L885.5 734.4L888.5 733.4L891.5 732.3L894.5 731.3L897.5 730.2L900.5 729.2L903.5 728.2L906.5 727.1L909.5 726.1L912.5 725.1L915.5 724.1L918.5 723.1L921.5 722.1L924.5 721.2L927.5 720.2L930.5 719.3L933.5 718.4L936.5 717.5L939.5 716.6L942.5 715.7L945.5 714.9L948.5 714L951.5 713.2L954.5 712.4L957.5 711.6L960.5 710.9L963.5 710.2L966.5 709.5L969.5 708.8L972.5 708.2L975.5 707.5L978.5 706.9L981.5 706.4L984.5 705.9L987.5 705.4L990.5 704.9L993.5 704.5L996.5 704.1L999.5 703.7L1002.5 703.4L1005.5 703.1L1008.5 702.8L1011.5 702.6L1014.5 702.5L1017.5 702.4L1020.5 702.3L1023.5 702.2L1026.5 702.2L1029.5 702.3L1032.5 702.4L1035.5 702.6L1038.5 702.8L1041.5 703L1044.5 703.3L1047.5 703.6L1050.5 704L1053.5 704.4L1056.5 704.8L1059.5 705.3L1062.5 705.9L1065.5 706.4L1068.5 707L1071.5 707.6L1074.5 708.2L1077.5 708.8L1080.5 709.5L1083.5 710.1L1086.5 710.8L1089.5 711.4L1092.5 712.1L1095.5 712.7L1098.5 713.3L1101.5 713.8L1104.5 714.4L1107.5 714.9L1110.5 715.3L1113.5 715.7L1116.5 716.1L1119.5 716.4L1122.5 716.6L1125.5 716.9L1128.5 717.1L1131.5 717.3L1134.5 717.5L1137.5 717.7L1140.5 717.9L1143.5 718.2L1146.5 718.5L1149.5 718.9L1152.5 719.4L1154 719.7" stroke="#f00000" stroke-width="1.2" fill="none" opacity="0.8"/></g>
<path d="M165.5 890.5H1154.5M165.5 944.5H1154.5" stroke="#262626" stroke-opacity="0.15" stroke-width="1" fill="none"/>
<path d="M311.5 835.5V999.5M609.5 835.5V999.5M906.5 835.5V999.5" stroke="#262626" stroke-opacity="0.15" stroke-width="1" fill="none"/>
<path d="M165.5 835.5H1154.5V999.5H165.5ZM165.5 890.5h10M1154.5 890.5h-10M165.5 944.5h10M1154.5 944.5h-10M311.5 835.5v10M311.5 999.5v-10M609.5 835.5v10M609.5 999.5v-10M906.5 835.5v10M906.5 999.5v-10" stroke="#262626" stroke-width="1" fill="none"/>
<g><path d="M165 855h1V856h1V863h1V856h1V856h1V858h1V858h1V856h1V859h1V858h1V856h1V861h1V858h1V856h1V859h1V857h1V859h1V857h1V856h1V855h1V855h1V857h1V856h1V856h1V857h1V857h1V857h1V857h1V857h1V857h1V859h1V860h1V862h1V859h1V859h1V858h1V860h1V857h1V856h1V857h1V860h1V857h1V861h1V857h1V857h1V857h1V857h1V856h1V858h1V857h1V857h1V858h1V856h1V858h1V858h1V857h1V858h1V863h1V860h1V858h1V857h1V859h1V859h1V859h1V858h1V860h1V859h1V858h1V858h1V860h1V859h1V861h1V860h1V859h1V866h1V860h1V860h1V861h1V861h1V861h1V860h1V860h1V861h1V860h1V860h1V860h1V860h1V861h1V861h1V860h1V861h1V863h1V865h1V861h1V862h1V861h1V867h1V861h1V861h1V861h1V862h1V861h1V862h1V862h1V864h1V863h1V862h1V861h1V861h1V861h1V863h1V864h1V862h1V860h1V863h1V860h1V862h1V863h1V862h1V862h1V861h1V862h1V863h1V861h1V863h1V862h1V862h1V863h1V867h1V865h1V863h1V865h1V861h1V862h1V861h1V860h1V860h1V859h1V861h1V857h1V856h1V858h1V856h1V855h1V854h1V854h1V853h1V854h1V854h1V854h1V853h1V854h1V854h1V853h1V853h1V853h1V856h1V859h1V856h1V854h1V853h1V852h1V855h1V853h1V855h1V853h1V857h1V856h1V854h1V853h1V854h1V855h1V855h1V858h1V856h1V858h1V858h1V857h1V859h1V862h1V860h1V860h1V861h1V861h1V861h1V861h1V868h1V869h1V863h1V863h1V863h1V863h1V864h1V864h1V866h1V865h1V866h1V867h1V875h1V868h1V868h1V870h1V871h1V871h1V871h1V872h1V873h1V875h1V875h1V876h1V878h1V878h1V880h1V879h1V878h1V879h1V880h1V880h1V883h1V883h1V886h1V886h1V886h1V888h1V888h1V889h1V888h1V890h1V894h1V892h1V893h1V894h1V900h1V897h1V900h1V899h1V898h1V898h1V901h1V900h1V903h1V902h1V905h1V903h1V906h1V906h1V906h1V906h1V908h1V909h1V909h1V909h1V912h1V911h1V912h1V915h1V912h1V912h1V913h1V911h1V913h1V912h1V915h1V913h1V913h1V916h1V914h1V915h1V915h1V915h1V917h1V917h1V916h1V918h1V918h1V917h1V917h1V916h1V917h1V924h1V918h1V918h1V922h1V926h1V931h1V929h1V931h1V934h1V940h1V940h1V945h1V942h1V948h1V943h1V944h1V945h1V946h1V947h1V946h1V946h1V951h1V947h1V949h1V947h1V947h1V948h1V946h1V946h1V947h1V948h1V944h1V944h1V944h1V943h1V942h1V948h1V941h1V945h1V939h1V938h1V936h1V936h1V934h1V933h1V932h1V931h1V931h1V931h1V929h1V932h1V930h1V928h1V932h1V927h1V928h1V927h1V928h1V931h1V926h1V926h1V925h1V925h1V925h1V925h1V928h1V923h1V922h1V918h1V917h1V914h1V917h1V910h1V908h1V907h1V902h1V900h1V899h1V894h1V895h1V889h1V886h1V888h1V885h1V885h1V883h1V881h1V880h1V876h1V875h1V874h1V872h1V872h1V873h1V873h1V877h1V875h1V875h1V880h1V876h1V878h1V876h1V878h1V878h1V880h1V876h1V877h1V877h1V878h1V879h1V878h1V879h1V879h1V879h1V879h1V881h1V880h1V881h1V883h1V881h1V881h1V882h1V881h1V884h1V881h1V883h1V881h1V884h1V883h1V884h1V884h1V884h1V884h1V889h1V885h1V886h1V886h1V886h1V885h1V885h1V890h1V885h1V888h1V886h1V893h1V888h1V887h1V886h1V887h1V886h1V887h1V886h1V886h1V886h1V886h1V885h1V885h1V889h1V885h1V888h1V885h1V884h1V885h1V885h1V887h1V884h1V891h1V885h1V886h1V885h1V883h1V887h1V882h1V883h1V884h1V881h1V881h1V881h1V880h1V881h1V882h1V881h1V880h1V878h1V879h1V878h1V876h1V875h1V875h1V876h1V873h1V874h1V872h1V872h1V870h1V871h1V868h1V870h1V867h1V867h1V867h1V867h1V867h1V868h1V867h1V866h1V867h1V869h1V869h1V866h1V866h1V868h1V866h1V869h1V866h1V866h1V864h1V865h1V867h1V869h1V864h1V865h1V865h1V864h1V864h1V864h1V863h1V863h1V866h1V865h1V866h1V866h1V867h1V865h1V865h1V864h1V864h1V864h1V864h1V864h1V863h1V864h1V863h1V863h1V862h1V864h1V866h1V862h1V862h1V864h1V863h1V862h1V862h1V863h1V862h1V861h1V860h1V861h1V859h1V860h1V858h1V862h1V861h1V859h1V860h1V860h1V859h1V860h1V859h1V859h1V859h1V861h1V858h1V860h1V861h1V859h1V858h1V860h1V857h1V857h1V858h1V858h1V857h1V856h1V858h1V857h1V856h1V856h1V855h1V855h1V857h1V857h1V854h1V853h1V855h1V854h1V853h1V853h1V853h1V854h1V852h1V855h1V851h1V856h1V855h1V854h1V854h1V853h1V852h1V852h1V855h1V853h1V854h1V852h1V852h1V851h1V853h1V853h1V852h1V853h1V852h1V858h1V852h1V853h1V853h1V854h1V854h1V857h1V858h1V855h1V857h1V856h1V857h1V861h1V857h1V858h1V858h1V858h1V859h1V860h1V859h1V859h1V860h1V860h1V860h1V860h1V867h1V861h1V861h1V861h1V862h1V862h1V862h1V868h1V863h1V864h1V863h1V864h1V864h1V866h1V863h1V865h1V866h1V864h1V863h1V864h1V865h1V863h1V864h1V864h1V866h1V865h1V864h1V866h1V866h1V866h1V865h1V866h1V866h1V866h1V866h1V868h1V865h1V867h1V868h1V868h1V865h1V869h1V867h1V866h1V866h1V867h1V870h1V868h1V868h1V871h1V869h1V870h1V869h1V870h1V869h1V872h1V870h1V870h1V870h1V872h1V874h1V873h1V870h1V871h1V872h1V871h1V872h1V875h1V873h1V873h1V873h1V873h1V873h1V875h1V873h1V873h1V877h1V876h1V875h1V875h1V879h1V878h1V878h1V877h1V877h1V877h1V879h1V877h1V877h1V878h1V878h1V878h1V880h1V878h1V882h1V880h1V879h1V879h1V881h1V879h1V881h1V883h1V879h1V881h1V880h1V879h1V880h1V882h1V879h1V880h1V880h1V879h1V879h1V880h1V879h1V883h1V879h1V880h1V883h1V881h1V878h1V877h1V878h1V877h1V877h1V877h1V876h1V876h1V875h1V876h1V874h1V878h1V874h1V873h1V874h1V873h1V874h1V872h1V874h1V871h1V871h1V871h1V869h1V868h1V872h1V868h1V868h1V867h1V866h1V867h1V865h1V867h1V865h1V863h1V866h1V868h1V863h1V861h1V860h1V861h1V862h1V861h1V862h1V862h1V863h1V863h1V863h1V862h1V862h1V861h1V862h1V862h1V861h1V864h1V861h1V863h1V861h1V862h1V862h1V861h1V861h1V862h1V861h1V863h1V865h1V865h1V864h1V862h1V863h1V864h1V864h1V866h1V866h1V865h1V866h1V867h1V866h1V867h1V865h1V867h1V867h1V865h1V869h1V866h1V872h1V868h1V868h1V868h1V868h1V868h1V870h1V873h1V872h1V871h1V870h1V871h1V870h1V870h1V870h1V869h1V869h1V869h1V868h1V868h1V868h1V869h1V869h1V868h1V868h1V870h1V868h1V870h1V869h1V870h1V872h1V871h1V871h1V871h1V871h1V872h1V873h1V873h1V872h1V872h1V873h1V872h1V871h1V871h1V870h1V871h1V870h1V872h1V871h1V870h1V870h1V870h1V872h1V871h1V872h1V871h1V872h1V872h1V872h1V877h1V872h1V872h1V873h1V872h1V875h1V871h1V874h1V873h1V877h1V873h1V873h1V875h1V875h1V874h1V875h1V877h1V876h1V878h1V877h1V877h1V878h1V878h1V881h1V880h1V885h1V881h1V881h1V883h1V885h1V883h1V883h1V887h1V884h1V884h1V886h1V884h1V885h1V886h1V886h1V889h1V891h1V890h1V888h1V888h1V887h1V888h1V888h1V890h1V892h1V890h1V889h1V890h1V888h1V887h1V891h1V887h1V886h1V890h1V885h1V885h1V882h1V882h1V881h1V881h1V880h1V881h1V883h1V879h1V879h1V881h1V877h1V879h1V879h1V877h1V877h1V876h1V876h1V877h1V876h1V875h1V875h1V874h1V873h1V872h1V874h1V871h1V872h1V871h1V870h1V869h1V870h1V871h1V867h1V867h1V870h1V866h1V867h1V866h1V865h1V866h1V894h-1V899h-1V892h-1V896h-1V901h-1V900h-1V900h-1V892h-1V903h-1V901h-1V903h-1V904h-1V903h-1V905h-1V905h-1V905h-1V907h-1V902h-1V910h-1V910h-1V909h-1V907h-1V912h-1V906h-1V912h-1V910h-1V913h-1V913h-1V912h-1V912h-1V913h-1V913h-1V913h-1V917h-1V915h-1V918h-1V919h-1V918h-1V920h-1V919h-1V917h-1V917h-1V919h-1V910h-1V919h-1V920h-1V920h-1V920h-1V920h-1V919h-1V923h-1V916h-1V919h-1V922h-1V920h-1V921h-1V921h-1V919h-1V921h-1V920h-1V919h-1V921h-1V921h-1V918h-1V918h-1V911h-1V920h-1V921h-1V921h-1V918h-1V911h-1V917h-1V918h-1V918h-1V913h-1V908h-1V915h-1V913h-1V914h-1V916h-1V914h-1V913h-1V908h-1V906h-1V908h-1V914h-1V914h-1V913h-1V913h-1V912h-1V912h-1V909h-1V902h-1V910h-1V911h-1V907h-1V910h-1V911h-1V910h-1V908h-1V911h-1V907h-1V912h-1V910h-1V909h-1V911h-1V910h-1V911h-1V908h-1V908h-1V909h-1V910h-1V909h-1V908h-1V910h-1V912h-1V901h-1V909h-1V908h-1V909h-1V901h-1V909h-1V911h-1V912h-1V911h-1V911h-1V909h-1V910h-1V910h-1V912h-1V909h-1V908h-1V909h-1V908h-1V906h-1V910h-1V911h-1V904h-1V906h-1V910h-1V911h-1V904h-1V909h-1V910h-1V904h-1V909h-1V909h-1V909h-1V907h-1V909h-1V904h-1V909h-1V909h-1V908h-1V908h-1V905h-1V907h-1V898h-1V908h-1V909h-1V907h-1V909h-1V901h-1V908h-1V908h-1V907h-1V905h-1V907h-1V905h-1V907h-1V905h-1V906h-1V904h-1V905h-1V904h-1V903h-1V900h-1V900h-1V903h-1V902h-1V899h-1V902h-1V893h-1V898h-1V898h-1V902h-1V902h-1V903h-1V899h-1V902h-1V896h-1V901h-1V902h-1V903h-1V901h-1V902h-1V902h-1V901h-1V901h-1V901h-1V903h-1V902h-1V904h-1V899h-1V904h-1V903h-1V902h-1V904h-1V904h-1V904h-1V906h-1V906h-1V907h-1V909h-1V911h-1V907h-1V902h-1V908h-1V914h-1V905h-1V915h-1V915h-1V916h-1V914h-1V915h-1V915h-1V913h-1V917h-1V917h-1V917h-1V918h-1V918h-1V920h-1V919h-1V917h-1V918h-1V917h-1V917h-1V916h-1V912h-1V913h-1V918h-1V912h-1V911h-1V917h-1V915h-1V918h-1V915h-1V915h-1V911h-1V918h-1V909h-1V918h-1V915h-1V919h-1V920h-1V918h-1V917h-1V920h-1V920h-1V918h-1V916h-1V918h-1V913h-1V918h-1V920h-1V916h-1V918h-1V917h-1V918h-1V918h-1V913h-1V909h-1V915h-1V917h-1V919h-1V917h-1V911h-1V919h-1V915h-1V917h-1V914h-1V915h-1V917h-1V916h-1V917h-1V910h-1V917h-1V913h-1V912h-1V909h-1V915h-1V913h-1V915h-1V914h-1V914h-1V910h-1V914h-1V914h-1V915h-1V912h-1V907h-1V915h-1V915h-1V908h-1V910h-1V910h-1V911h-1V912h-1V913h-1V912h-1V911h-1V913h-1V909h-1V913h-1V909h-1V913h-1V911h-1V907h-1V903h-1V904h-1V910h-1V907h-1V911h-1V906h-1V909h-1V910h-1V910h-1V907h-1V908h-1V908h-1V898h-1V908h-1V908h-1V908h-1V897h-1V897h-1V903h-1V904h-1V906h-1V904h-1V905h-1V903h-1V903h-1V904h-1V903h-1V893h-1V904h-1V900h-1V899h-1V900h-1V899h-1V898h-1V901h-1V899h-1V891h-1V891h-1V900h-1V898h-1V897h-1V898h-1V892h-1V896h-1V895h-1V894h-1V891h-1V893h-1V893h-1V891h-1V892h-1V890h-1V891h-1V889h-1V891h-1V887h-1V888h-1V884h-1V887h-1V888h-1V884h-1V885h-1V885h-1V885h-1V882h-1V884h-1V882h-1V872h-1V882h-1V878h-1V874h-1V873h-1V879h-1V879h-1V877h-1V878h-1V873h-1V878h-1V878h-1V877h-1V878h-1V878h-1V878h-1V876h-1V879h-1V869h-1V874h-1V880h-1V880h-1V881h-1V880h-1V880h-1V881h-1V882h-1V878h-1V881h-1V881h-1V882h-1V876h-1V882h-1V877h-1V882h-1V882h-1V883h-1V882h-1V880h-1V884h-1V877h-1V882h-1V883h-1V883h-1V879h-1V883h-1V882h-1V886h-1V884h-1V885h-1V886h-1V886h-1V883h-1V887h-1V881h-1V888h-1V887h-1V886h-1V887h-1V886h-1V885h-1V886h-1V885h-1V890h-1V886h-1V890h-1V890h-1V891h-1V890h-1V890h-1V890h-1V891h-1V890h-1V892h-1V890h-1V889h-1V889h-1V890h-1V893h-1V892h-1V890h-1V895h-1V888h-1V892h-1V890h-1V897h-1V890h-1V897h-1V895h-1V899h-1V898h-1V899h-1V893h-1V896h-1V899h-1V898h-1V899h-1V895h-1V899h-1V897h-1V893h-1V898h-1V901h-1V891h-1V903h-1V901h-1V897h-1V900h-1V903h-1V903h-1V905h-1V905h-1V902h-1V905h-1V905h-1V906h-1V906h-1V903h-1V903h-1V907h-1V907h-1V908h-1V907h-1V906h-1V907h-1V904h-1V910h-1V911h-1V908h-1V911h-1V909h-1V912h-1V912h-1V911h-1V911h-1V907h-1V908h-1V911h-1V917h-1V912h-1V919h-1V917h-1V919h-1V916h-1V917h-1V919h-1V914h-1V920h-1V917h-1V921h-1V923h-1V923h-1V923h-1V921h-1V918h-1V923h-1V925h-1V924h-1V925h-1V925h-1V919h-1V918h-1V924h-1V926h-1V920h-1V919h-1V924h-1V919h-1V923h-1V925h-1V928h-1V927h-1V927h-1V928h-1V928h-1V928h-1V922h-1V927h-1V926h-1V923h-1V928h-1V925h-1V929h-1V926h-1V926h-1V927h-1V927h-1V928h-1V928h-1V928h-1V924h-1V927h-1V925h-1V927h-1V925h-1V924h-1V927h-1V921h-1V927h-1V926h-1V924h-1V925h-1V924h-1V923h-1V923h-1V922h-1V923h-1V926h-1V924h-1V921h-1V924h-1V922h-1V921h-1V925h-1V924h-1V923h-1V920h-1V921h-1V922h-1V922h-1V920h-1V921h-1V920h-1V913h-1V920h-1V917h-1V918h-1V915h-1V910h-1V918h-1V915h-1V918h-1V919h-1V919h-1V919h-1V919h-1V921h-1V925h-1V922h-1V927h-1V927h-1V930h-1V932h-1V934h-1V937h-1V939h-1V941h-1V944h-1V949h-1V948h-1V955h-1V954h-1V957h-1V960h-1V954h-1V963h-1V965h-1V965h-1V959h-1V968h-1V965h-1V964h-1V968h-1V967h-1V969h-1V969h-1V968h-1V970h-1V970h-1V973h-1V974h-1V971h-1V976h-1V977h-1V977h-1V976h-1V978h-1V976h-1V979h-1V976h-1V978h-1V983h-1V983h-1V983h-1V985h-1V987h-1V988h-1V988h-1V985h-1V990h-1V980h-1V985h-1V986h-1V989h-1V991h-1V991h-1V991h-1V989h-1V987h-1V991h-1V994h-1V994h-1V993h-1V987h-1V988h-1V988h-1V990h-1V988h-1V988h-1V987h-1V977h-1V984h-1V984h-1V984h-1V981h-1V980h-1V973h-1V972h-1V973h-1V971h-1V965h-1V956h-1V962h-1V964h-1V965h-1V964h-1V960h-1V964h-1V964h-1V962h-1V963h-1V960h-1V963h-1V959h-1V961h-1V954h-1V951h-1V959h-1V959h-1V960h-1V960h-1V958h-1V955h-1V956h-1V951h-1V958h-1V958h-1V955h-1V953h-1V950h-1V945h-1V953h-1V954h-1V953h-1V951h-1V952h-1V950h-1V951h-1V951h-1V949h-1V942h-1V948h-1V942h-1V949h-1V946h-1V944h-1V946h-1V947h-1V942h-1V942h-1V943h-1V941h-1V941h-1V938h-1V940h-1V938h-1V939h-1V936h-1V936h-1V933h-1V934h-1V934h-1V928h-1V928h-1V931h-1V929h-1V926h-1V924h-1V926h-1V917h-1V925h-1V926h-1V925h-1V920h-1V922h-1V919h-1V917h-1V915h-1V918h-1V918h-1V918h-1V910h-1V915h-1V912h-1V914h-1V914h-1V913h-1V907h-1V910h-1V911h-1V910h-1V908h-1V909h-1V908h-1V907h-1V909h-1V908h-1V902h-1V906h-1V902h-1V908h-1V908h-1V903h-1V903h-1V895h-1V905h-1V902h-1V903h-1V903h-1V903h-1V902h-1V900h-1V902h-1V898h-1V896h-1V901h-1V900h-1V894h-1V897h-1V900h-1V900h-1V900h-1V900h-1V895h-1V898h-1V900h-1V899h-1V900h-1V890h-1V897h-1V897h-1V897h-1V898h-1V895h-1V898h-1V896h-1V896h-1V898h-1V894h-1V897h-1V895h-1V897h-1V896h-1V894h-1V895h-1V895h-1V893h-1V896h-1V896h-1V897h-1V897h-1V892h-1V898h-1V893h-1V895h-1V898h-1V897h-1V898h-1V894h-1V894h-1V888h-1V897h-1V891h-1V896h-1V897h-1V895h-1V892h-1V897h-1V895h-1V897h-1V897h-1V894h-1V896h-1V898h-1V897h-1V887h-1V897h-1V896h-1V896h-1V895h-1V897h-1V896h-1V897h-1V898h-1V897h-1V898h-1V897h-1V892h-1V891h-1V892h-1V894h-1V897h-1V896h-1V896h-1V894h-1V898h-1V897h-1V896h-1V896h-1V895h-1V897h-1V894h-1V892h-1V898h-1V896h-1V896h-1V897h-1V894h-1V897h-1V897h-1V898h-1V895h-1V897h-1V897h-1V896h-1V894h-1V893h-1V896h-1V885h-1V894h-1V893h-1V891h-1V894h-1V893h-1V895h-1V893h-1V889h-1V893h-1V891h-1V894h-1V893h-1V893h-1V893h-1V894h-1V894h-1V893h-1V894h-1V893h-1V894h-1V888h-1V890h-1V892h-1V889h-1V891h-1V893h-1V894h-1V893h-1V890h-1V893h-1V893h-1V893h-1V894h-1V890h-1V891h-1V893h-1V893h-1V888h-1V890h-1V889h-1V888h-1V888h-1V889h-1V889h-1V886h-1V882h-1V887h-1V888h-1V884h-1V887h-1V890h-1V890h-1V891h-1V889h-1V891h-1V888h-1V891h-1V888h-1V892h-1V892h-1V892h-1V892h-1V889h-1V890h-1Z" fill="#0000ff" shape-rendering="crispEdges"/><path d="M179 871h1v5h-1ZM189 877h1v4h-1ZM199 875h1v3h-1ZM200 873h1v3h-1ZM210 873h1v5h-1ZM223 876h1v5h-1ZM243 880h1v5h-1ZM250 883h1v6h-1ZM263 878h1v5h-1ZM269 878h1v5h-1ZM292 882h1v5h-1ZM296 880h1v5h-1ZM306 882h1v5h-1ZM337 895h1v3h-1ZM345 897h1v4h-1ZM383 922h1v4h-1ZM428 952h1v3h-1ZM553 917h1v2h-1ZM561 915h1v2h-1ZM645 889h1v3h-1ZM674 882h1v2h-1ZM696 877h1v2h-1ZM699 877h1v3h-1ZM714 875h1v3h-1ZM734 870h1v3h-1ZM757 870h1v5h-1ZM776 877h1v5h-1ZM795 884h1v3h-1ZM799 885h1v3h-1ZM801 887h1v2h-1ZM813 891h1v6h-1ZM816 892h1v3h-1ZM825 891h1v7h-1ZM837 894h1v6h-1ZM859 896h1v3h-1ZM871 901h1v3h-1ZM885 900h1v6h-1ZM921 903h1v6h-1ZM951 893h1v5h-1ZM958 891h1v6h-1ZM961 895h1v4h-1ZM987 894h1v3h-1ZM1018 902h1v5h-1ZM1029 904h1v6h-1ZM1038 906h1v4h-1ZM1039 903h1v2h-1ZM1103 916h1v6h-1ZM1120 904h1v7h-1ZM1127 902h1v6h-1Z" fill="#fff" shape-rendering="crispEdges"/><path d="M165 862h1V865h1V858h1V860h1V860h1V854h1V858h1V854h1V853h1V854h1V854h1V856h1V854h1V853h1V855h1V852h1V852h1V857h1V854h1V853h1V858h1V853h1V851h1V854h1V853h1V851h1V857h1V852h1V854h1V852h1V855h1V857h1V851h1V850h1V851h1V850h1V851h1V851h1V850h1V854h1V850h1V850h1V853h1V851h1V852h1V852h1V854h1V857h1V850h1V853h1V853h1V852h1V855h1V858h1V855h1V857h1V857h1V860h1V853h1V853h1V851h1V854h1V852h1V853h1V853h1V855h1V853h1V856h1V856h1V853h1V859h1V857h1V855h1V855h1V857h1V854h1V856h1V858h1V854h1V855h1V854h1V855h1V860h1V856h1V859h1V857h1V861h1V859h1V859h1V857h1V862h1V858h1V859h1V857h1V862h1V858h1V863h1V861h1V858h1V858h1V857h1V856h1V858h1V857h1V861h1V859h1V858h1V862h1V864h1V858h1V860h1V856h1V858h1V855h1V858h1V859h1V857h1V858h1V858h1V858h1V858h1V859h1V859h1V862h1V860h1V864h1V863h1V865h1V864h1V865h1V863h1V860h1V859h1V865h1V860h1V856h1V859h1V854h1V853h1V857h1V853h1V855h1V860h1V855h1V859h1V854h1V855h1V855h1V862h1V856h1V856h1V858h1V857h1V858h1V865h1V859h1V861h1V864h1V865h1V864h1V859h1V859h1V861h1V863h1V860h1V860h1V860h1V862h1V867h1V861h1V862h1V863h1V864h1V864h1V865h1V866h1V867h1V867h1V865h1V869h1V868h1V866h1V867h1V869h1V869h1V868h1V871h1V870h1V874h1V870h1V872h1V872h1V871h1V875h1V873h1V874h1V873h1V874h1V875h1V875h1V878h1V879h1V877h1V878h1V879h1V880h1V884h1V881h1V886h1V883h1V890h1V890h1V884h1V886h1V884h1V887h1V885h1V889h1V896h1V893h1V891h1V892h1V896h1V896h1V896h1V905h1V899h1V899h1V903h1V898h1V899h1V900h1V904h1V902h1V904h1V906h1V907h1V907h1V909h1V909h1V913h1V912h1V913h1V914h1V924h1V920h1V920h1V922h1V923h1V921h1V923h1V921h1V925h1V923h1V924h1V924h1V925h1V926h1V927h1V930h1V928h1V928h1V927h1V928h1V928h1V928h1V930h1V932h1V929h1V929h1V932h1V932h1V933h1V931h1V934h1V933h1V938h1V938h1V940h1V938h1V936h1V936h1V940h1V940h1V943h1V947h1V945h1V947h1V948h1V951h1V952h1V954h1V957h1V956h1V957h1V958h1V958h1V963h1V961h1V963h1V963h1V972h1V964h1V963h1V966h1V962h1V961h1V962h1V962h1V963h1V960h1V963h1V959h1V958h1V958h1V961h1V958h1V955h1V954h1V956h1V954h1V954h1V952h1V950h1V954h1V949h1V947h1V948h1V946h1V947h1V949h1V945h1V946h1V944h1V947h1V948h1V949h1V942h1V941h1V942h1V939h1V940h1V941h1V938h1V938h1V941h1V936h1V935h1V932h1V928h1V927h1V926h1V922h1V919h1V916h1V920h1V915h1V909h1V905h1V908h1V901h1V903h1V901h1V896h1V897h1V894h1V894h1V891h1V893h1V887h1V887h1V886h1V889h1V888h1V892h1V887h1V890h1V889h1V888h1V890h1V887h1V887h1V886h1V887h1V890h1V888h1V887h1V888h1V891h1V888h1V889h1V891h1V891h1V894h1V890h1V895h1V893h1V891h1V893h1V893h1V893h1V895h1V897h1V895h1V894h1V894h1V891h1V893h1V895h1V893h1V892h1V893h1V894h1V900h1V893h1V894h1V893h1V894h1V895h1V895h1V894h1V892h1V893h1V898h1V895h1V895h1V892h1V895h1V892h1V893h1V893h1V893h1V892h1V891h1V891h1V890h1V893h1V889h1V888h1V888h1V887h1V885h1V885h1V884h1V884h1V886h1V884h1V885h1V882h1V881h1V881h1V880h1V882h1V880h1V882h1V882h1V879h1V887h1V879h1V882h1V876h1V877h1V878h1V873h1V876h1V872h1V874h1V874h1V873h1V871h1V869h1V868h1V867h1V868h1V864h1V864h1V864h1V865h1V868h1V865h1V865h1V872h1V868h1V867h1V864h1V867h1V866h1V862h1V862h1V863h1V864h1V864h1V862h1V864h1V865h1V871h1V863h1V864h1V866h1V863h1V862h1V862h1V865h1V870h1V862h1V866h1V861h1V863h1V862h1V860h1V861h1V861h1V860h1V866h1V860h1V859h1V863h1V859h1V861h1V860h1V859h1V859h1V862h1V859h1V862h1V860h1V868h1V867h1V860h1V861h1V859h1V859h1V858h1V859h1V858h1V865h1V857h1V856h1V856h1V858h1V857h1V865h1V857h1V859h1V856h1V856h1V857h1V859h1V856h1V858h1V863h1V857h1V857h1V855h1V855h1V854h1V855h1V854h1V855h1V856h1V853h1V853h1V852h1V851h1V854h1V854h1V851h1V859h1V853h1V855h1V854h1V849h1V849h1V850h1V850h1V852h1V851h1V851h1V853h1V850h1V850h1V851h1V855h1V853h1V858h1V856h1V850h1V849h1V848h1V848h1V848h1V850h1V847h1V849h1V851h1V847h1V856h1V848h1V850h1V851h1V851h1V849h1V852h1V850h1V856h1V851h1V851h1V853h1V857h1V859h1V858h1V857h1V854h1V854h1V854h1V858h1V855h1V856h1V856h1V859h1V858h1V857h1V857h1V856h1V856h1V860h1V856h1V858h1V860h1V863h1V858h1V861h1V859h1V861h1V859h1V860h1V859h1V862h1V859h1V863h1V860h1V860h1V863h1V861h1V860h1V862h1V864h1V864h1V862h1V870h1V863h1V862h1V865h1V863h1V864h1V864h1V869h1V864h1V866h1V866h1V868h1V872h1V869h1V866h1V869h1V871h1V866h1V867h1V867h1V863h1V863h1V867h1V863h1V864h1V867h1V865h1V864h1V868h1V868h1V866h1V866h1V867h1V867h1V867h1V867h1V867h1V870h1V869h1V868h1V871h1V869h1V871h1V868h1V868h1V870h1V869h1V869h1V869h1V870h1V870h1V873h1V874h1V877h1V873h1V872h1V881h1V876h1V875h1V876h1V873h1V874h1V873h1V875h1V873h1V873h1V873h1V873h1V873h1V873h1V876h1V875h1V876h1V877h1V874h1V881h1V877h1V876h1V876h1V877h1V876h1V880h1V876h1V877h1V876h1V878h1V876h1V884h1V877h1V879h1V881h1V879h1V880h1V884h1V879h1V879h1V881h1V883h1V878h1V879h1V878h1V879h1V876h1V880h1V880h1V876h1V878h1V876h1V877h1V876h1V875h1V874h1V875h1V881h1V875h1V874h1V874h1V882h1V879h1V880h1V873h1V876h1V871h1V872h1V873h1V870h1V874h1V872h1V869h1V868h1V870h1V868h1V868h1V868h1V874h1V865h1V869h1V865h1V865h1V871h1V865h1V873h1V864h1V866h1V868h1V865h1V865h1V868h1V864h1V864h1V864h1V868h1V867h1V866h1V866h1V868h1V866h1V866h1V872h1V867h1V866h1V866h1V872h1V867h1V868h1V867h1V868h1V872h1V868h1V868h1V868h1V870h1V870h1V877h1V871h1V874h1V878h1V872h1V875h1V876h1V873h1V873h1V874h1V881h1V874h1V879h1V874h1V876h1V875h1V877h1V877h1V876h1V879h1V878h1V879h1V881h1V880h1V879h1V880h1V879h1V888h1V889h1V881h1V883h1V885h1V881h1V882h1V885h1V881h1V879h1V886h1V879h1V880h1V881h1V881h1V888h1V879h1V882h1V881h1V879h1V879h1V879h1V880h1V883h1V882h1V881h1V879h1V883h1V879h1V884h1V884h1V881h1V882h1V886h1V883h1V885h1V886h1V885h1V884h1V884h1V885h1V882h1V883h1V885h1V884h1V883h1V883h1V887h1V886h1V883h1V883h1V886h1V888h1V886h1V888h1V891h1V889h1V887h1V893h1V886h1V888h1V889h1V890h1V888h1V889h1V888h1V889h1V891h1V892h1V893h1V890h1V891h1V894h1V892h1V891h1V891h1V892h1V894h1V894h1V892h1V892h1V896h1V895h1V893h1V895h1V894h1V894h1V893h1V897h1V894h1V898h1V896h1V898h1V893h1V895h1V892h1V894h1V891h1V898h1V889h1V890h1V889h1V891h1V887h1V887h1V890h1V888h1V891h1V886h1V889h1V887h1V885h1V885h1V885h1V888h1V885h1V883h1V887h1V882h1V880h1V885h1V887h1V880h1V878h1V885h1V879h1V877h1V877h1V877h1V878h1V876h1V876h1V875h1V874h1V873h1V873h1V874h1V874h1V872h1V870h1V890h-1V890h-1V895h-1V896h-1V893h-1V896h-1V896h-1V895h-1V897h-1V898h-1V896h-1V898h-1V900h-1V900h-1V898h-1V899h-1V902h-1V903h-1V903h-1V898h-1V899h-1V904h-1V902h-1V904h-1V904h-1V905h-1V899h-1V904h-1V904h-1V906h-1V902h-1V907h-1V907h-1V902h-1V905h-1V907h-1V909h-1V909h-1V910h-1V909h-1V907h-1V910h-1V912h-1V912h-1V913h-1V913h-1V914h-1V913h-1V915h-1V915h-1V914h-1V916h-1V913h-1V914h-1V911h-1V915h-1V914h-1V911h-1V912h-1V908h-1V913h-1V912h-1V914h-1V914h-1V911h-1V911h-1V913h-1V911h-1V910h-1V909h-1V912h-1V909h-1V910h-1V910h-1V911h-1V910h-1V908h-1V910h-1V903h-1V904h-1V909h-1V901h-1V908h-1V907h-1V907h-1V906h-1V906h-1V904h-1V901h-1V905h-1V903h-1V905h-1V904h-1V900h-1V901h-1V904h-1V904h-1V904h-1V900h-1V904h-1V903h-1V902h-1V902h-1V901h-1V904h-1V902h-1V900h-1V902h-1V902h-1V901h-1V903h-1V901h-1V902h-1V901h-1V902h-1V901h-1V903h-1V900h-1V903h-1V902h-1V900h-1V902h-1V902h-1V902h-1V902h-1V901h-1V900h-1V901h-1V899h-1V902h-1V901h-1V900h-1V902h-1V903h-1V902h-1V900h-1V897h-1V896h-1V902h-1V902h-1V903h-1V903h-1V900h-1V902h-1V901h-1V899h-1V901h-1V899h-1V900h-1V895h-1V898h-1V896h-1V896h-1V898h-1V900h-1V899h-1V899h-1V897h-1V895h-1V896h-1V897h-1V896h-1V894h-1V894h-1V891h-1V890h-1V891h-1V893h-1V891h-1V892h-1V891h-1V892h-1V890h-1V889h-1V890h-1V891h-1V890h-1V889h-1V890h-1V890h-1V890h-1V889h-1V889h-1V886h-1V886h-1V884h-1V888h-1V883h-1V889h-1V887h-1V890h-1V883h-1V889h-1V884h-1V888h-1V887h-1V889h-1V886h-1V888h-1V883h-1V890h-1V890h-1V890h-1V887h-1V890h-1V890h-1V890h-1V888h-1V886h-1V892h-1V890h-1V893h-1V894h-1V891h-1V889h-1V897h-1V896h-1V894h-1V900h-1V896h-1V901h-1V901h-1V900h-1V899h-1V902h-1V899h-1V902h-1V899h-1V902h-1V903h-1V897h-1V897h-1V901h-1V903h-1V901h-1V904h-1V902h-1V904h-1V903h-1V903h-1V903h-1V901h-1V903h-1V901h-1V903h-1V904h-1V901h-1V904h-1V898h-1V905h-1V902h-1V901h-1V903h-1V901h-1V903h-1V903h-1V901h-1V902h-1V902h-1V902h-1V902h-1V901h-1V902h-1V902h-1V903h-1V900h-1V903h-1V899h-1V898h-1V901h-1V902h-1V901h-1V900h-1V900h-1V898h-1V897h-1V899h-1V899h-1V899h-1V898h-1V900h-1V898h-1V899h-1V898h-1V896h-1V896h-1V897h-1V897h-1V897h-1V896h-1V896h-1V896h-1V895h-1V896h-1V894h-1V893h-1V896h-1V896h-1V895h-1V894h-1V891h-1V895h-1V894h-1V894h-1V892h-1V894h-1V888h-1V893h-1V893h-1V893h-1V892h-1V893h-1V893h-1V891h-1V892h-1V891h-1V892h-1V890h-1V889h-1V888h-1V888h-1V889h-1V888h-1V884h-1V889h-1V887h-1V890h-1V886h-1V890h-1V889h-1V889h-1V887h-1V889h-1V889h-1V888h-1V889h-1V888h-1V888h-1V886h-1V884h-1V885h-1V885h-1V885h-1V883h-1V882h-1V885h-1V885h-1V884h-1V884h-1V881h-1V882h-1V883h-1V881h-1V883h-1V880h-1V881h-1V882h-1V882h-1V882h-1V876h-1V881h-1V880h-1V880h-1V880h-1V880h-1V875h-1V878h-1V877h-1V876h-1V876h-1V877h-1V877h-1V877h-1V876h-1V875h-1V873h-1V875h-1V875h-1V874h-1V874h-1V873h-1V869h-1V870h-1V870h-1V868h-1V868h-1V867h-1V869h-1V868h-1V870h-1V868h-1V869h-1V868h-1V868h-1V867h-1V866h-1V866h-1V867h-1V869h-1V869h-1V869h-1V870h-1V869h-1V871h-1V871h-1V870h-1V871h-1V870h-1V871h-1V870h-1V872h-1V869h-1V872h-1V872h-1V872h-1V872h-1V873h-1V873h-1V872h-1V867h-1V869h-1V874h-1V873h-1V874h-1V874h-1V874h-1V874h-1V871h-1V874h-1V873h-1V873h-1V874h-1V871h-1V873h-1V874h-1V868h-1V875h-1V874h-1V874h-1V870h-1V874h-1V871h-1V873h-1V874h-1V874h-1V874h-1V874h-1V873h-1V873h-1V873h-1V874h-1V876h-1V875h-1V876h-1V876h-1V876h-1V876h-1V875h-1V874h-1V875h-1V874h-1V877h-1V876h-1V875h-1V878h-1V878h-1V878h-1V874h-1V879h-1V880h-1V881h-1V881h-1V878h-1V878h-1V879h-1V881h-1V880h-1V881h-1V879h-1V880h-1V880h-1V882h-1V882h-1V882h-1V881h-1V881h-1V883h-1V882h-1V882h-1V884h-1V884h-1V884h-1V884h-1V883h-1V882h-1V883h-1V884h-1V881h-1V883h-1V884h-1V884h-1V881h-1V880h-1V882h-1V883h-1V884h-1V883h-1V884h-1V885h-1V883h-1V883h-1V885h-1V885h-1V885h-1V885h-1V887h-1V886h-1V889h-1V889h-1V889h-1V892h-1V893h-1V895h-1V896h-1V894h-1V899h-1V900h-1V901h-1V900h-1V902h-1V904h-1V903h-1V903h-1V904h-1V905h-1V907h-1V904h-1V903h-1V907h-1V909h-1V909h-1V908h-1V911h-1V911h-1V909h-1V908h-1V909h-1V912h-1V912h-1V915h-1V914h-1V914h-1V912h-1V915h-1V916h-1V915h-1V916h-1V916h-1V914h-1V916h-1V912h-1V915h-1V917h-1V918h-1V914h-1V918h-1V918h-1V917h-1V919h-1V919h-1V915h-1V918h-1V917h-1V913h-1V915h-1V911h-1V918h-1V911h-1V916h-1V917h-1V917h-1V918h-1V918h-1V912h-1V917h-1V916h-1V917h-1V918h-1V918h-1V914h-1V917h-1V915h-1V913h-1V915h-1V914h-1V916h-1V915h-1V916h-1V915h-1V916h-1V916h-1V913h-1V915h-1V913h-1V911h-1V913h-1V913h-1V912h-1V914h-1V914h-1V913h-1V914h-1V914h-1V913h-1V914h-1V914h-1V912h-1V907h-1V912h-1V914h-1V913h-1V916h-1V918h-1V916h-1V921h-1V918h-1V925h-1V925h-1V927h-1V930h-1V933h-1V936h-1V941h-1V943h-1V945h-1V950h-1V952h-1V954h-1V953h-1V956h-1V958h-1V960h-1V961h-1V963h-1V962h-1V965h-1V966h-1V966h-1V967h-1V967h-1V966h-1V968h-1V968h-1V969h-1V970h-1V971h-1V971h-1V973h-1V974h-1V974h-1V973h-1V975h-1V977h-1V977h-1V977h-1V978h-1V980h-1V980h-1V978h-1V981h-1V981h-1V982h-1V981h-1V983h-1V984h-1V985h-1V985h-1V985h-1V989h-1V989h-1V988h-1V991h-1V985h-1V990h-1V992h-1V990h-1V993h-1V991h-1V991h-1V990h-1V988h-1V985h-1V986h-1V982h-1V983h-1V982h-1V975h-1V980h-1V977h-1V975h-1V974h-1V971h-1V972h-1V963h-1V966h-1V964h-1V963h-1V958h-1V961h-1V960h-1V958h-1V958h-1V957h-1V956h-1V952h-1V956h-1V955h-1V954h-1V954h-1V953h-1V953h-1V953h-1V951h-1V951h-1V951h-1V951h-1V946h-1V950h-1V950h-1V949h-1V943h-1V949h-1V948h-1V948h-1V943h-1V942h-1V945h-1V941h-1V946h-1V944h-1V938h-1V941h-1V944h-1V942h-1V943h-1V939h-1V940h-1V939h-1V935h-1V940h-1V939h-1V936h-1V938h-1V937h-1V934h-1V933h-1V934h-1V927h-1V933h-1V931h-1V930h-1V928h-1V926h-1V924h-1V924h-1V923h-1V923h-1V924h-1V922h-1V921h-1V919h-1V921h-1V920h-1V919h-1V918h-1V916h-1V917h-1V916h-1V917h-1V916h-1V914h-1V908h-1V914h-1V911h-1V911h-1V910h-1V906h-1V909h-1V909h-1V905h-1V909h-1V906h-1V905h-1V904h-1V903h-1V903h-1V896h-1V900h-1V901h-1V901h-1V896h-1V900h-1V900h-1V899h-1V897h-1V898h-1V892h-1V895h-1V892h-1V891h-1V895h-1V892h-1V892h-1V892h-1V892h-1V890h-1V892h-1V889h-1V891h-1V891h-1V890h-1V888h-1V889h-1V889h-1V889h-1V888h-1V884h-1V886h-1V887h-1V881h-1V887h-1V887h-1V885h-1V884h-1V885h-1V884h-1V884h-1V880h-1V881h-1V881h-1V881h-1V879h-1V881h-1V882h-1V883h-1V881h-1V881h-1V880h-1V878h-1V875h-1V878h-1V873h-1V880h-1V880h-1V878h-1V880h-1V880h-1V879h-1V878h-1V879h-1V872h-1V876h-1V878h-1V876h-1V877h-1V878h-1V876h-1V878h-1V876h-1V875h-1V875h-1V876h-1V876h-1V874h-1V876h-1V870h-1V876h-1V876h-1V875h-1V875h-1V876h-1V875h-1V877h-1V876h-1V875h-1V877h-1V878h-1V878h-1V873h-1V875h-1V876h-1V877h-1V876h-1V877h-1V876h-1V877h-1V879h-1V878h-1V880h-1V877h-1V877h-1V878h-1V877h-1V877h-1V876h-1V875h-1V877h-1V871h-1V876h-1V874h-1V878h-1V876h-1V878h-1V876h-1V877h-1V873h-1V878h-1V877h-1V875h-1V875h-1V877h-1V878h-1V876h-1V877h-1V872h-1V875h-1V874h-1V874h-1V876h-1V871h-1V875h-1V875h-1V872h-1V874h-1V873h-1V874h-1V874h-1V867h-1V871h-1V874h-1V873h-1V873h-1V871h-1V867h-1V871h-1V874h-1V873h-1V874h-1V873h-1V874h-1V872h-1V873h-1V873h-1V871h-1V870h-1V874h-1V869h-1V873h-1V870h-1V873h-1V872h-1V872h-1V872h-1V871h-1V872h-1V872h-1V872h-1V872h-1V873h-1V872h-1V874h-1V871h-1V873h-1V873h-1V870h-1V874h-1V874h-1V874h-1V869h-1V871h-1V876h-1V876h-1V876h-1V876h-1V877h-1V876h-1V877h-1V873h-1V876h-1Z" fill="#00ff00" shape-rendering="crispEdges"/><path d="M169 866h1v2h-1ZM184 859h1v3h-1ZM197 855h1v5h-1ZM202 858h1v3h-1ZM234 860h1v4h-1ZM264 866h1v5h-1ZM307 863h1v3h-1ZM333 871h1v5h-1ZM343 869h1v3h-1ZM367 885h1v4h-1ZM378 892h1v3h-1ZM397 909h1v3h-1ZM429 933h1v3h-1ZM430 931h1v3h-1ZM511 939h1v4h-1ZM535 890h1v2h-1ZM550 892h1v4h-1ZM552 896h1v2h-1ZM569 899h1v3h-1ZM581 898h1v4h-1ZM596 900h1v2h-1ZM609 890h1v5h-1ZM617 885h1v4h-1ZM684 863h1v3h-1ZM707 865h1v3h-1ZM728 854h1v4h-1ZM741 857h1v4h-1ZM760 853h1v4h-1ZM877 880h1v5h-1ZM886 880h1v3h-1ZM898 879h1v4h-1ZM916 879h1v3h-1ZM1027 885h1v4h-1ZM1033 887h1v4h-1ZM1070 898h1v3h-1ZM1113 893h1v5h-1ZM1146 878h1v4h-1Z" fill="#fff" shape-rendering="crispEdges"/></g>
<path d="M165.5 1096.5H1154.5M165.5 1153.5H1154.5M165.5 1210.5H1154.5" stroke="#262626" stroke-opacity="0.15" stroke-width="1" fill="none"/>
<path d="M311.5 1072.5V1233.5M609.5 1072.5V1233.5M906.5 1072.5V1233.5" stroke="#262626" stroke-opacity="0.15" stroke-width="1" fill="none"/>
<path d="M165.5 1072.5H1154.5V1233.5H165.5ZM165.5 1096.5h10M1154.5 1096.5h-10M165.5 1153.5h10M1154.5 1153.5h-10M165.5 1210.5h10M1154.5 1210.5h-10M311.5 1072.5v10M311.5 1233.5v-10M609.5 1072.5v10M609.5 1233.5v-10M906.5 1072.5v10M906.5 1233.5v-10" stroke="#262626" stroke-width="1" fill="none"/>
<g><path d="M165 1131h1V1130h1V1129h1V1129h1V1128h1V1128h1V1125h1V1127h1V1124h1V1123h1V1125h1V1122h1V1124h1V1123h1V1123h1V1122h1V1122h1V1121h1V1121h1V1121h1V1120h1V1120h1V1120h1V1120h1V1119h1V1119h1V1119h1V1119h1V1118h1V1118h1V1118h1V1117h1V1115h1V1117h1V1114h1V1114h1V1116h1V1116h1V1116h1V1115h1V1115h1V1115h1V1115h1V1114h1V1114h1V1114h1V1114h1V1113h1V1113h1V1113h1V1113h1V1113h1V1112h1V1112h1V1112h1V1112h1V1111h1V1111h1V1111h1V1111h1V1111h1V1110h1V1110h1V1110h1V1110h1V1110h1V1107h1V1109h1V1107h1V1109h1V1109h1V1106h1V1106h1V1108h1V1106h1V1106h1V1108h1V1108h1V1107h1V1107h1V1105h1V1105h1V1104h1V1104h1V1107h1V1106h1V1106h1V1104h1V1106h1V1104h1V1106h1V1103h1V1106h1V1103h1V1105h1V1105h1V1105h1V1105h1V1105h1V1105h1V1105h1V1105h1V1104h1V1104h1V1104h1V1104h1V1104h1V1104h1V1104h1V1104h1V1104h1V1104h1V1104h1V1103h1V1103h1V1101h1V1103h1V1101h1V1101h1V1103h1V1103h1V1103h1V1103h1V1103h1V1103h1V1102h1V1100h1V1100h1V1100h1V1102h1V1100h1V1100h1V1102h1V1102h1V1102h1V1102h1V1102h1V1102h1V1099h1V1099h1V1099h1V1099h1V1099h1V1101h1V1101h1V1101h1V1098h1V1101h1V1098h1V1101h1V1101h1V1100h1V1100h1V1100h1V1100h1V1100h1V1100h1V1100h1V1100h1V1100h1V1100h1V1100h1V1097h1V1097h1V1097h1V1097h1V1099h1V1099h1V1099h1V1099h1V1099h1V1099h1V1099h1V1099h1V1099h1V1099h1V1099h1V1098h1V1098h1V1098h1V1096h1V1096h1V1098h1V1096h1V1098h1V1095h1V1098h1V1098h1V1098h1V1098h1V1097h1V1097h1V1097h1V1097h1V1095h1V1097h1V1095h1V1097h1V1097h1V1094h1V1097h1V1094h1V1094h1V1094h1V1094h1V1094h1V1094h1V1094h1V1094h1V1094h1V1094h1V1094h1V1094h1V1094h1V1094h1V1094h1V1094h1V1094h1V1094h1V1094h1V1094h1V1094h1V1096h1V1094h1V1093h1V1093h1V1093h1V1093h1V1093h1V1093h1V1093h1V1093h1V1093h1V1096h1V1093h1V1093h1V1093h1V1093h1V1093h1V1093h1V1093h1V1093h1V1093h1V1093h1V1093h1V1093h1V1093h1V1093h1V1093h1V1093h1V1093h1V1093h1V1093h1V1095h1V1093h1V1093h1V1093h1V1093h1V1095h1V1093h1V1093h1V1093h1V1093h1V1093h1V1093h1V1093h1V1093h1V1093h1V1093h1V1093h1V1095h1V1095h1V1095h1V1095h1V1095h1V1095h1V1095h1V1095h1V1095h1V1095h1V1095h1V1095h1V1093h1V1093h1V1095h1V1093h1V1093h1V1093h1V1095h1V1093h1V1095h1V1093h1V1095h1V1093h1V1093h1V1095h1V1093h1V1093h1V1093h1V1093h1V1093h1V1093h1V1093h1V1093h1V1093h1V1093h1V1093h1V1093h1V1093h1V1093h1V1093h1V1093h1V1093h1V1093h1V1093h1V1093h1V1093h1V1095h1V1093h1V1093h1V1093h1V1093h1V1093h1V1093h1V1093h1V1093h1V1093h1V1093h1V1093h1V1093h1V1095h1V1093h1V1093h1V1093h1V1093h1V1093h1V1095h1V1093h1V1093h1V1093h1V1095h1V1093h1V1095h1V1095h1V1093h1V1093h1V1093h1V1093h1V1093h1V1093h1V1093h1V1093h1V1093h1V1093h1V1093h1V1093h1V1093h1V1093h1V1093h1V1093h1V1093h1V1093h1V1093h1V1093h1V1093h1V1093h1V1093h1V1093h1V1093h1V1093h1V1093h1V1093h1V1093h1V1093h1V1093h1V1093h1V1093h1V1093h1V1093h1V1093h1V1093h1V1093h1V1093h1V1093h1V1093h1V1093h1V1093h1V1093h1V1093h1V1093h1V1095h1V1095h1V1093h1V1093h1V1093h1V1093h1V1093h1V1093h1V1093h1V1093h1V1093h1V1090h1V1093h1V1093h1V1093h1V1093h1V1093h1V1093h1V1093h1V1093h1V1093h1V1093h1V1093h1V1093h1V1093h1V1093h1V1093h1V1093h1V1093h1V1093h1V1090h1V1090h1V1093h1V1090h1V1093h1V1093h1V1090h1V1090h1V1090h1V1090h1V1090h1V1090h1V1090h1V1090h1V1090h1V1090h1V1090h1V1090h1V1090h1V1090h1V1090h1V1090h1V1090h1V1090h1V1093h1V1093h1V1093h1V1093h1V1093h1V1093h1V1090h1V1090h1V1090h1V1090h1V1090h1V1090h1V1093h1V1090h1V1090h1V1090h1V1090h1V1090h1V1090h1V1090h1V1090h1V1090h1V1090h1V1090h1V1093h1V1093h1V1093h1V1093h1V1093h1V1093h1V1090h1V1090h1V1090h1V1090h1V1090h1V1090h1V1090h1V1090h1V1090h1V1090h1V1090h1V1090h1V1090h1V1090h1V1090h1V1090h1V1090h1V1093h1V1093h1V1093h1V1093h1V1093h1V1093h1V1093h1V1090h1V1090h1V1090h1V1090h1V1093h1V1090h1V1090h1V1090h1V1090h1V1090h1V1090h1V1090h1V1090h1V1090h1V1090h1V1090h1V1090h1V1090h1V1090h1V1090h1V1090h1V1090h1V1090h1V1090h1V1093h1V1093h1V1093h1V1093h1V1093h1V1093h1V1093h1V1090h1V1090h1V1090h1V1090h1V1093h1V1090h1V1090h1V1090h1V1090h1V1090h1V1090h1V1090h1V1090h1V1090h1V1090h1V1090h1V1090h1V1093h1V1090h1V1090h1V1090h1V1090h1V1090h1V1090h1V1093h1V1090h1V1090h1V1090h1V1090h1V1090h1V1090h1V1090h1V1090h1V1090h1V1090h1V1090h1V1090h1V1090h1V1090h1V1090h1V1090h1V1090h1V1090h1V1090h1V1090h1V1090h1V1093h1V1090h1V1090h1V1090h1V1090h1V1090h1V1090h1V1090h1V1090h1V1090h1V1090h1V1090h1V1090h1V1090h1V1090h1V1090h1V1090h1V1090h1V1090h1V1090h1V1090h1V1090h1V1091h1V1091h1V1091h1V1091h1V1091h1V1091h1V1091h1V1091h1V1091h1V1091h1V1091h1V1091h1V1091h1V1091h1V1091h1V1091h1V1091h1V1091h1V1089h1V1091h1V1091h1V1091h1V1091h1V1091h1V1091h1V1091h1V1091h1V1091h1V1091h1V1091h1V1091h1V1091h1V1091h1V1091h1V1091h1V1091h1V1091h1V1091h1V1091h1V1091h1V1091h1V1091h1V1091h1V1091h1V1091h1V1091h1V1091h1V1091h1V1091h1V1091h1V1091h1V1091h1V1091h1V1089h1V1091h1V1091h1V1091h1V1091h1V1091h1V1091h1V1091h1V1091h1V1091h1V1091h1V1091h1V1091h1V1091h1V1091h1V1091h1V1091h1V1091h1V1091h1V1091h1V1091h1V1091h1V1091h1V1091h1V1091h1V1091h1V1091h1V1091h1V1089h1V1091h1V1089h1V1089h1V1089h1V1089h1V1089h1V1089h1V1089h1V1091h1V1089h1V1089h1V1089h1V1089h1V1091h1V1089h1V1091h1V1089h1V1091h1V1091h1V1091h1V1091h1V1091h1V1091h1V1089h1V1089h1V1089h1V1089h1V1089h1V1089h1V1091h1V1091h1V1091h1V1091h1V1091h1V1091h1V1089h1V1089h1V1089h1V1089h1V1089h1V1089h1V1091h1V1089h1V1091h1V1089h1V1089h1V1089h1V1089h1V1089h1V1089h1V1091h1V1089h1V1089h1V1089h1V1089h1V1089h1V1089h1V1089h1V1091h1V1089h1V1089h1V1089h1V1089h1V1089h1V1091h1V1091h1V1089h1V1089h1V1091h1V1091h1V1091h1V1091h1V1091h1V1091h1V1091h1V1091h1V1091h1V1089h1V1091h1V1089h1V1089h1V1089h1V1091h1V1089h1V1091h1V1089h1V1089h1V1091h1V1089h1V1091h1V1091h1V1091h1V1091h1V1091h1V1091h1V1089h1V1091h1V1089h1V1091h1V1089h1V1089h1V1089h1V1089h1V1089h1V1089h1V1089h1V1089h1V1091h1V1089h1V1089h1V1089h1V1089h1V1091h1V1089h1V1089h1V1089h1V1089h1V1089h1V1089h1V1091h1V1091h1V1091h1V1091h1V1091h1V1091h1V1089h1V1089h1V1091h1V1089h1V1089h1V1089h1V1089h1V1089h1V1089h1V1089h1V1089h1V1089h1V1089h1V1089h1V1089h1V1091h1V1089h1V1089h1V1089h1V1089h1V1089h1V1089h1V1089h1V1089h1V1091h1V1091h1V1091h1V1091h1V1091h1V1091h1V1089h1V1091h1V1089h1V1089h1V1089h1V1089h1V1091h1V1091h1V1089h1V1089h1V1089h1V1089h1V1089h1V1091h1V1089h1V1089h1V1091h1V1091h1V1091h1V1091h1V1091h1V1091h1V1091h1V1091h1V1091h1V1091h1V1091h1V1091h1V1091h1V1091h1V1091h1V1091h1V1091h1V1091h1V1091h1V1091h1V1091h1V1091h1V1091h1V1091h1V1091h1V1091h1V1091h1V1091h1V1091h1V1091h1V1091h1V1091h1V1091h1V1089h1V1089h1V1091h1V1091h1V1091h1V1091h1V1091h1V1091h1V1091h1V1091h1V1091h1V1091h1V1091h1V1091h1V1091h1V1091h1V1091h1V1091h1V1091h1V1091h1V1091h1V1091h1V1091h1V1091h1V1091h1V1091h1V1089h1V1091h1V1091h1V1091h1V1089h1V1091h1V1089h1V1089h1V1089h1V1091h1V1091h1V1089h1V1089h1V1091h1V1089h1V1091h1V1091h1V1091h1V1091h1V1091h1V1091h1V1091h1V1091h1V1091h1V1091h1V1091h1V1091h1V1091h1V1091h1V1091h1V1091h1V1091h1V1091h1V1091h1V1091h1V1091h1V1091h1V1091h1V1091h1V1091h1V1091h1V1091h1V1091h1V1091h1V1091h1V1091h1V1091h1V1091h1V1091h1V1091h1V1091h1V1091h1V1091h1V1091h1V1091h1V1091h1V1091h1V1091h1V1091h1V1091h1V1091h1V1091h1V1091h1V1091h1V1091h1V1091h1V1091h1V1091h1V1091h1V1091h1V1091h1V1091h1V1091h1V1091h1V1091h1V1089h1V1089h1V1091h1V1091h1V1089h1V1092h-1V1092h-1V1092h-1V1092h-1V1092h-1V1092h-1V1092h-1V1092h-1V1092h-1V1092h-1V1092h-1V1092h-1V1092h-1V1092h-1V1092h-1V1092h-1V1092h-1V1092h-1V1092h-1V1092h-1V1092h-1V1092h-1V1092h-1V1092h-1V1092h-1V1092h-1V1092h-1V1092h-1V1092h-1V1092h-1V1092h-1V1092h-1V1092h-1V1092h-1V1092h-1V1092h-1V1092h-1V1092h-1V1092h-1V1092h-1V1092h-1V1092h-1V1092h-1V1092h-1V1092h-1V1092h-1V1092h-1V1092h-1V1092h-1V1092h-1V1092h-1V1092h-1V1092h-1V1092h-1V1092h-1V1092h-1V1092h-1V1092h-1V1092h-1V1092h-1V1092h-1V1092h-1V1092h-1V1092h-1V1092h-1V1092h-1V1095h-1V1092h-1V1092h-1V1092h-1V1092h-1V1092h-1V1092h-1V1092h-1V1092h-1V1092h-1V1092h-1V1092h-1V1092h-1V1092h-1V1092h-1V1092h-1V1092h-1V1092h-1V1092h-1V1092h-1V1092h-1V1092h-1V1092h-1V1092h-1V1092h-1V1092h-1V1092h-1V1092h-1V1095h-1V1092h-1V1092h-1V1092h-1V1092h-1V1092h-1V1092h-1V1092h-1V1092h-1V1092h-1V1092h-1V1092h-1V1092h-1V1092h-1V1092h-1V1092h-1V1092h-1V1092h-1V1092h-1V1092h-1V1092h-1V1092h-1V1092h-1V1092h-1V1092h-1V1092h-1V1092h-1V1092h-1V1092h-1V1092h-1V1092h-1V1092h-1V1092h-1V1092h-1V1092h-1V1095h-1V1092h-1V1092h-1V1092h-1V1092h-1V1092h-1V1092h-1V1092h-1V1092h-1V1092h-1V1092h-1V1092h-1V1092h-1V1092h-1V1092h-1V1092h-1V1092h-1V1092h-1V1092h-1V1092h-1V1092h-1V1092h-1V1092h-1V1092h-1V1092h-1V1092h-1V1092h-1V1092h-1V1092h-1V1092h-1V1092h-1V1092h-1V1092h-1V1092h-1V1092h-1V1092h-1V1092h-1V1092h-1V1092h-1V1092h-1V1092h-1V1092h-1V1092h-1V1092h-1V1092h-1V1092h-1V1092h-1V1092h-1V1092h-1V1092h-1V1092h-1V1092h-1V1092h-1V1092h-1V1092h-1V1092h-1V1092h-1V1092h-1V1092h-1V1092h-1V1092h-1V1092h-1V1092h-1V1092h-1V1092h-1V1092h-1V1092h-1V1092h-1V1092h-1V1092h-1V1092h-1V1092h-1V1092h-1V1092h-1V1092h-1V1092h-1V1092h-1V1092h-1V1092h-1V1092h-1V1092h-1V1092h-1V1092h-1V1092h-1V1092h-1V1092h-1V1092h-1V1092h-1V1092h-1V1092h-1V1092h-1V1092h-1V1092h-1V1092h-1V1092h-1V1092h-1V1092h-1V1092h-1V1095h-1V1092h-1V1092h-1V1092h-1V1092h-1V1092h-1V1092h-1V1092h-1V1092h-1V1092h-1V1092h-1V1092h-1V1092h-1V1092h-1V1092h-1V1092h-1V1092h-1V1092h-1V1092h-1V1092h-1V1092h-1V1092h-1V1092h-1V1092h-1V1092h-1V1092h-1V1092h-1V1092h-1V1092h-1V1092h-1V1092h-1V1092h-1V1092h-1V1092h-1V1092h-1V1092h-1V1092h-1V1092h-1V1092h-1V1092h-1V1092h-1V1092h-1V1092h-1V1092h-1V1092h-1V1095h-1V1092h-1V1092h-1V1092h-1V1092h-1V1092h-1V1092h-1V1092h-1V1092h-1V1092h-1V1092h-1V1092h-1V1092h-1V1092h-1V1092h-1V1092h-1V1092h-1V1092h-1V1092h-1V1092h-1V1092h-1V1092h-1V1092h-1V1092h-1V1092h-1V1092h-1V1092h-1V1092h-1V1092h-1V1092h-1V1092h-1V1092h-1V1092h-1V1092h-1V1092h-1V1092h-1V1092h-1V1092h-1V1092h-1V1092h-1V1092h-1V1092h-1V1092h-1V1095h-1V1092h-1V1092h-1V1092h-1V1092h-1V1092h-1V1092h-1V1092h-1V1092h-1V1092h-1V1092h-1V1092h-1V1092h-1V1092h-1V1092h-1V1092h-1V1092h-1V1092h-1V1092h-1V1092h-1V1092h-1V1092h-1V1092h-1V1092h-1V1092h-1V1092h-1V1092h-1V1092h-1V1092h-1V1092h-1V1092h-1V1092h-1V1092h-1V1092h-1V1092h-1V1092h-1V1092h-1V1092h-1V1092h-1V1092h-1V1092h-1V1092h-1V1092h-1V1092h-1V1092h-1V1092h-1V1092h-1V1092h-1V1092h-1V1092h-1V1092h-1V1092h-1V1092h-1V1092h-1V1092h-1V1092h-1V1092h-1V1092h-1V1092h-1V1092h-1V1092h-1V1092h-1V1092h-1V1092h-1V1092h-1V1092h-1V1092h-1V1092h-1V1092h-1V1092h-1V1092h-1V1092h-1V1092h-1V1092h-1V1092h-1V1092h-1V1092h-1V1094h-1V1094h-1V1094h-1V1094h-1V1094h-1V1094h-1V1094h-1V1094h-1V1094h-1V1094h-1V1094h-1V1094h-1V1094h-1V1094h-1V1094h-1V1094h-1V1094h-1V1094h-1V1094h-1V1094h-1V1094h-1V1094h-1V1094h-1V1094h-1V1094h-1V1094h-1V1094h-1V1094h-1V1094h-1V1094h-1V1094h-1V1094h-1V1094h-1V1094h-1V1094h-1V1094h-1V1094h-1V1094h-1V1094h-1V1096h-1V1094h-1V1094h-1V1094h-1V1094h-1V1094h-1V1094h-1V1094h-1V1094h-1V1094h-1V1094h-1V1094h-1V1094h-1V1094h-1V1094h-1V1094h-1V1094h-1V1094h-1V1094h-1V1094h-1V1094h-1V1094h-1V1094h-1V1094h-1V1094h-1V1094h-1V1094h-1V1094h-1V1094h-1V1094h-1V1094h-1V1094h-1V1094h-1V1094h-1V1094h-1V1094h-1V1094h-1V1094h-1V1094h-1V1094h-1V1094h-1V1094h-1V1094h-1V1094h-1V1094h-1V1094h-1V1094h-1V1094h-1V1094h-1V1094h-1V1094h-1V1094h-1V1094h-1V1094h-1V1094h-1V1094h-1V1094h-1V1094h-1V1094h-1V1094h-1V1094h-1V1094h-1V1094h-1V1094h-1V1094h-1V1094h-1V1094h-1V1094h-1V1094h-1V1094h-1V1094h-1V1094h-1V1094h-1V1094h-1V1094h-1V1094h-1V1094h-1V1094h-1V1094h-1V1094h-1V1094h-1V1094h-1V1094h-1V1094h-1V1094h-1V1094h-1V1094h-1V1094h-1V1094h-1V1094h-1V1094h-1V1094h-1V1094h-1V1094h-1V1094h-1V1094h-1V1094h-1V1094h-1V1094h-1V1096h-1V1094h-1V1094h-1V1094h-1V1094h-1V1094h-1V1094h-1V1094h-1V1094h-1V1094h-1V1094h-1V1094h-1V1094h-1V1094h-1V1094h-1V1094h-1V1094h-1V1094h-1V1094h-1V1094h-1V1094h-1V1094h-1V1094h-1V1094h-1V1094h-1V1094h-1V1094h-1V1096h-1V1094h-1V1094h-1V1094h-1V1094h-1V1094h-1V1094h-1V1094h-1V1094h-1V1094h-1V1094h-1V1094h-1V1094h-1V1094h-1V1094h-1V1094h-1V1094h-1V1094h-1V1094h-1V1094h-1V1094h-1V1094h-1V1094h-1V1094h-1V1094h-1V1094h-1V1094h-1V1094h-1V1094h-1V1094h-1V1094h-1V1094h-1V1097h-1V1097h-1V1097h-1V1097h-1V1097h-1V1097h-1V1097h-1V1097h-1V1097h-1V1097h-1V1097h-1V1097h-1V1097h-1V1097h-1V1097h-1V1097h-1V1097h-1V1097h-1V1097h-1V1097h-1V1097h-1V1097h-1V1097h-1V1099h-1V1097h-1V1097h-1V1097h-1V1097h-1V1097h-1V1097h-1V1097h-1V1097h-1V1097h-1V1097h-1V1097h-1V1097h-1V1097h-1V1097h-1V1097h-1V1097h-1V1097h-1V1097h-1V1097h-1V1097h-1V1097h-1V1097h-1V1097h-1V1097h-1V1097h-1V1097h-1V1097h-1V1097h-1V1097h-1V1097h-1V1097h-1V1097h-1V1097h-1V1097h-1V1097h-1V1097h-1V1097h-1V1097h-1V1097h-1V1099h-1V1097h-1V1097h-1V1097h-1V1097h-1V1097h-1V1097h-1V1097h-1V1097h-1V1097h-1V1097h-1V1097h-1V1097h-1V1097h-1V1097h-1V1097h-1V1097h-1V1097h-1V1097h-1V1097h-1V1097h-1V1097h-1V1097h-1V1097h-1V1099h-1V1097h-1V1097h-1V1097h-1V1097h-1V1097h-1V1097h-1V1097h-1V1097h-1V1097h-1V1097h-1V1099h-1V1097h-1V1097h-1V1097h-1V1097h-1V1097h-1V1097h-1V1099h-1V1099h-1V1097h-1V1097h-1V1097h-1V1097h-1V1097h-1V1097h-1V1097h-1V1097h-1V1097h-1V1097h-1V1097h-1V1097h-1V1097h-1V1097h-1V1097h-1V1097h-1V1097h-1V1097h-1V1097h-1V1097h-1V1097h-1V1097h-1V1097h-1V1097h-1V1097h-1V1097h-1V1097h-1V1097h-1V1097h-1V1097h-1V1097h-1V1097h-1V1097h-1V1097h-1V1097h-1V1097h-1V1097h-1V1097h-1V1097h-1V1097h-1V1097h-1V1097h-1V1097h-1V1097h-1V1097h-1V1097h-1V1097h-1V1097h-1V1097h-1V1097h-1V1097h-1V1099h-1V1099h-1V1097h-1V1097h-1V1097h-1V1097h-1V1097h-1V1097h-1V1097h-1V1097h-1V1097h-1V1097h-1V1097h-1V1097h-1V1097h-1V1097h-1V1097h-1V1097h-1V1097h-1V1097h-1V1097h-1V1097h-1V1097h-1V1097h-1V1097h-1V1097h-1V1097h-1V1097h-1V1097h-1V1097h-1V1097h-1V1097h-1V1100h-1V1100h-1V1098h-1V1098h-1V1098h-1V1098h-1V1098h-1V1098h-1V1098h-1V1098h-1V1098h-1V1098h-1V1098h-1V1098h-1V1098h-1V1098h-1V1098h-1V1098h-1V1099h-1V1099h-1V1099h-1V1099h-1V1099h-1V1099h-1V1099h-1V1099h-1V1099h-1V1099h-1V1102h-1V1099h-1V1099h-1V1100h-1V1100h-1V1100h-1V1100h-1V1100h-1V1102h-1V1100h-1V1100h-1V1100h-1V1100h-1V1100h-1V1100h-1V1100h-1V1101h-1V1101h-1V1101h-1V1101h-1V1101h-1V1103h-1V1101h-1V1101h-1V1101h-1V1101h-1V1104h-1V1101h-1V1101h-1V1102h-1V1102h-1V1102h-1V1102h-1V1102h-1V1102h-1V1102h-1V1102h-1V1102h-1V1102h-1V1102h-1V1102h-1V1103h-1V1105h-1V1103h-1V1103h-1V1103h-1V1103h-1V1103h-1V1103h-1V1103h-1V1103h-1V1103h-1V1103h-1V1103h-1V1103h-1V1104h-1V1104h-1V1104h-1V1104h-1V1104h-1V1104h-1V1104h-1V1104h-1V1104h-1V1104h-1V1104h-1V1104h-1V1105h-1V1105h-1V1105h-1V1105h-1V1105h-1V1105h-1V1105h-1V1105h-1V1105h-1V1105h-1V1105h-1V1106h-1V1106h-1V1106h-1V1106h-1V1106h-1V1106h-1V1106h-1V1106h-1V1106h-1V1107h-1V1107h-1V1107h-1V1107h-1V1107h-1V1107h-1V1107h-1V1107h-1V1108h-1V1108h-1V1108h-1V1108h-1V1108h-1V1108h-1V1108h-1V1111h-1V1109h-1V1109h-1V1109h-1V1109h-1V1109h-1V1109h-1V1110h-1V1110h-1V1110h-1V1110h-1V1110h-1V1110h-1V1111h-1V1111h-1V1111h-1V1111h-1V1111h-1V1112h-1V1112h-1V1112h-1V1112h-1V1112h-1V1113h-1V1113h-1V1113h-1V1113h-1V1114h-1V1114h-1V1114h-1V1114h-1V1114h-1V1115h-1V1115h-1V1115h-1V1115h-1V1116h-1V1116h-1V1116h-1V1116h-1V1117h-1V1117h-1V1117h-1V1120h-1V1118h-1V1118h-1V1118h-1V1118h-1V1119h-1V1119h-1V1119h-1V1119h-1V1120h-1V1120h-1V1120h-1V1121h-1V1121h-1V1121h-1V1121h-1V1122h-1V1122h-1V1122h-1V1123h-1V1123h-1V1123h-1V1124h-1V1124h-1V1125h-1V1125h-1V1126h-1V1127h-1V1127h-1V1128h-1V1128h-1V1129h-1V1129h-1V1130h-1V1131h-1V1131h-1V1132h-1Z" fill="#0000ff" shape-rendering="crispEdges"/><path d="M165 1209h1V1206h1V1209h1V1209h1V1209h1V1209h1V1209h1V1209h1V1209h1V1209h1V1209h1V1209h1V1212h1V1209h1V1209h1V1209h1V1209h1V1209h1V1209h1V1209h1V1212h1V1212h1V1212h1V1212h1V1209h1V1209h1V1209h1V1209h1V1209h1V1206h1V1209h1V1206h1V1209h1V1209h1V1209h1V1209h1V1209h1V1209h1V1209h1V1209h1V1209h1V1209h1V1209h1V1209h1V1209h1V1209h1V1209h1V1209h1V1209h1V1209h1V1209h1V1209h1V1209h1V1209h1V1209h1V1209h1V1209h1V1212h1V1209h1V1209h1V1209h1V1209h1V1212h1V1209h1V1209h1V1209h1V1209h1V1209h1V1209h1V1209h1V1209h1V1212h1V1209h1V1209h1V1209h1V1209h1V1209h1V1209h1V1209h1V1209h1V1212h1V1212h1V1212h1V1212h1V1209h1V1209h1V1209h1V1209h1V1212h1V1209h1V1209h1V1212h1V1209h1V1209h1V1209h1V1209h1V1212h1V1209h1V1209h1V1209h1V1209h1V1209h1V1209h1V1209h1V1209h1V1209h1V1209h1V1209h1V1209h1V1209h1V1209h1V1209h1V1209h1V1209h1V1209h1V1209h1V1209h1V1209h1V1209h1V1209h1V1209h1V1209h1V1212h1V1209h1V1209h1V1209h1V1209h1V1209h1V1209h1V1209h1V1209h1V1209h1V1209h1V1209h1V1209h1V1209h1V1209h1V1209h1V1209h1V1209h1V1209h1V1209h1V1209h1V1209h1V1209h1V1209h1V1209h1V1209h1V1209h1V1209h1V1209h1V1209h1V1209h1V1209h1V1209h1V1209h1V1209h1V1209h1V1209h1V1209h1V1209h1V1209h1V1209h1V1209h1V1209h1V1209h1V1212h1V1209h1V1209h1V1209h1V1212h1V1209h1V1209h1V1209h1V1209h1V1209h1V1209h1V1212h1V1209h1V1209h1V1209h1V1209h1V1209h1V1206h1V1212h1V1209h1V1209h1V1209h1V1209h1V1209h1V1209h1V1209h1V1209h1V1209h1V1209h1V1206h1V1212h1V1209h1V1209h1V1209h1V1212h1V1212h1V1212h1V1212h1V1209h1V1209h1V1209h1V1206h1V1209h1V1209h1V1209h1V1209h1V1206h1V1209h1V1209h1V1209h1V1209h1V1209h1V1209h1V1212h1V1209h1V1209h1V1209h1V1209h1V1212h1V1209h1V1209h1V1209h1V1209h1V1209h1V1209h1V1209h1V1209h1V1209h1V1206h1V1209h1V1209h1V1209h1V1209h1V1209h1V1209h1V1209h1V1209h1V1209h1V1212h1V1212h1V1212h1V1212h1V1209h1V1209h1V1209h1V1209h1V1212h1V1209h1V1209h1V1209h1V1209h1V1206h1V1209h1V1209h1V1209h1V1209h1V1209h1V1209h1V1212h1V1212h1V1212h1V1212h1V1209h1V1209h1V1209h1V1209h1V1209h1V1209h1V1209h1V1209h1V1209h1V1209h1V1209h1V1209h1V1209h1V1209h1V1209h1V1209h1V1209h1V1209h1V1209h1V1209h1V1209h1V1209h1V1209h1V1209h1V1209h1V1209h1V1209h1V1209h1V1209h1V1209h1V1209h1V1209h1V1209h1V1209h1V1209h1V1212h1V1209h1V1209h1V1206h1V1209h1V1212h1V1209h1V1209h1V1209h1V1209h1V1209h1V1209h1V1209h1V1209h1V1209h1V1209h1V1209h1V1209h1V1209h1V1209h1V1212h1V1209h1V1209h1V1209h1V1209h1V1209h1V1212h1V1209h1V1209h1V1209h1V1209h1V1209h1V1209h1V1209h1V1209h1V1209h1V1209h1V1212h1V1212h1V1212h1V1212h1V1209h1V1209h1V1209h1V1209h1V1209h1V1209h1V1209h1V1209h1V1209h1V1209h1V1209h1V1209h1V1209h1V1209h1V1209h1V1209h1V1209h1V1209h1V1209h1V1209h1V1209h1V1209h1V1209h1V1209h1V1212h1V1212h1V1212h1V1212h1V1209h1V1212h1V1209h1V1209h1V1209h1V1209h1V1209h1V1209h1V1209h1V1209h1V1209h1V1209h1V1209h1V1209h1V1209h1V1209h1V1206h1V1209h1V1209h1V1209h1V1212h1V1209h1V1209h1V1209h1V1209h1V1209h1V1209h1V1209h1V1209h1V1212h1V1209h1V1209h1V1209h1V1209h1V1209h1V1209h1V1209h1V1206h1V1209h1V1209h1V1209h1V1209h1V1209h1V1209h1V1209h1V1209h1V1213h1V1213h1V1210h1V1214h1V1214h1V1214h1V1214h1V1214h1V1214h1V1214h1V1214h1V1214h1V1214h1V1214h1V1214h1V1214h1V1214h1V1214h1V1214h1V1214h1V1214h1V1214h1V1214h1V1214h1V1214h1V1214h1V1214h1V1214h1V1214h1V1214h1V1214h1V1214h1V1214h1V1214h1V1214h1V1214h1V1214h1V1214h1V1214h1V1214h1V1214h1V1214h1V1214h1V1214h1V1214h1V1214h1V1214h1V1214h1V1214h1V1214h1V1214h1V1214h1V1214h1V1214h1V1214h1V1214h1V1214h1V1214h1V1214h1V1214h1V1214h1V1214h1V1214h1V1214h1V1214h1V1211h1V1214h1V1214h1V1214h1V1214h1V1214h1V1214h1V1214h1V1214h1V1214h1V1214h1V1214h1V1214h1V1214h1V1214h1V1214h1V1214h1V1214h1V1214h1V1214h1V1214h1V1214h1V1214h1V1214h1V1214h1V1214h1V1213h1V1209h1V1212h1V1209h1V1209h1V1209h1V1209h1V1209h1V1209h1V1209h1V1209h1V1209h1V1209h1V1209h1V1209h1V1209h1V1209h1V1209h1V1209h1V1206h1V1212h1V1209h1V1209h1V1212h1V1212h1V1209h1V1209h1V1206h1V1209h1V1206h1V1212h1V1209h1V1209h1V1209h1V1209h1V1209h1V1209h1V1209h1V1209h1V1209h1V1206h1V1209h1V1206h1V1209h1V1209h1V1209h1V1209h1V1209h1V1209h1V1209h1V1209h1V1209h1V1209h1V1209h1V1209h1V1209h1V1209h1V1209h1V1209h1V1206h1V1209h1V1209h1V1209h1V1209h1V1209h1V1209h1V1209h1V1209h1V1206h1V1209h1V1209h1V1209h1V1209h1V1209h1V1209h1V1209h1V1209h1V1209h1V1209h1V1209h1V1209h1V1209h1V1209h1V1209h1V1209h1V1209h1V1209h1V1209h1V1209h1V1209h1V1209h1V1209h1V1209h1V1209h1V1209h1V1209h1V1209h1V1209h1V1209h1V1209h1V1209h1V1209h1V1209h1V1209h1V1209h1V1209h1V1209h1V1209h1V1209h1V1209h1V1209h1V1209h1V1209h1V1209h1V1209h1V1209h1V1209h1V1209h1V1212h1V1209h1V1209h1V1209h1V1209h1V1209h1V1209h1V1209h1V1209h1V1212h1V1212h1V1212h1V1212h1V1212h1V1212h1V1212h1V1212h1V1209h1V1209h1V1209h1V1209h1V1209h1V1209h1V1209h1V1209h1V1209h1V1209h1V1209h1V1212h1V1212h1V1212h1V1212h1V1212h1V1209h1V1206h1V1209h1V1209h1V1209h1V1209h1V1209h1V1209h1V1209h1V1209h1V1209h1V1209h1V1209h1V1209h1V1209h1V1209h1V1206h1V1209h1V1209h1V1209h1V1209h1V1209h1V1209h1V1209h1V1209h1V1209h1V1209h1V1209h1V1209h1V1209h1V1209h1V1209h1V1209h1V1212h1V1209h1V1209h1V1209h1V1209h1V1208h1V1208h1V1208h1V1208h1V1212h1V1208h1V1208h1V1208h1V1208h1V1208h1V1208h1V1212h1V1208h1V1208h1V1208h1V1208h1V1208h1V1212h1V1208h1V1208h1V1208h1V1208h1V1208h1V1212h1V1208h1V1208h1V1208h1V1208h1V1208h1V1208h1V1208h1V1208h1V1208h1V1208h1V1208h1V1208h1V1208h1V1208h1V1212h1V1212h1V1212h1V1212h1V1208h1V1208h1V1208h1V1212h1V1208h1V1212h1V1208h1V1208h1V1208h1V1208h1V1208h1V1208h1V1208h1V1212h1V1208h1V1208h1V1208h1V1208h1V1208h1V1208h1V1208h1V1212h1V1208h1V1208h1V1208h1V1208h1V1208h1V1208h1V1208h1V1208h1V1205h1V1208h1V1208h1V1208h1V1208h1V1208h1V1208h1V1208h1V1207h1V1207h1V1207h1V1207h1V1207h1V1207h1V1207h1V1207h1V1207h1V1207h1V1207h1V1207h1V1207h1V1207h1V1211h1V1211h1V1211h1V1211h1V1211h1V1207h1V1207h1V1207h1V1207h1V1207h1V1211h1V1207h1V1207h1V1207h1V1210h1V1207h1V1207h1V1207h1V1210h1V1207h1V1207h1V1207h1V1207h1V1210h1V1207h1V1206h1V1206h1V1206h1V1206h1V1206h1V1206h1V1206h1V1206h1V1206h1V1210h1V1206h1V1206h1V1206h1V1206h1V1206h1V1209h1V1209h1V1209h1V1209h1V1209h1V1209h1V1209h1V1209h1V1206h1V1203h1V1205h1V1205h1V1209h1V1205h1V1205h1V1205h1V1205h1V1205h1V1205h1V1202h1V1205h1V1205h1V1205h1V1205h1V1205h1V1205h1V1205h1V1208h1V1205h1V1205h1V1205h1V1205h1V1205h1V1205h1V1208h1V1204h1V1204h1V1204h1V1201h1V1201h1V1204h1V1201h1V1204h1V1204h1V1204h1V1204h1V1204h1V1204h1V1204h1V1204h1V1201h1V1204h1V1204h1V1204h1V1204h1V1204h1V1204h1V1204h1V1203h1V1203h1V1203h1V1203h1V1203h1V1203h1V1207h1V1207h1V1207h1V1207h1V1203h1V1203h1V1203h1V1203h1V1203h1V1203h1V1203h1V1203h1V1203h1V1203h1V1203h1V1203h1V1203h1V1203h1V1203h1V1203h1V1203h1V1203h1V1203h1V1203h1V1203h1V1203h1V1203h1V1200h1V1203h1V1206h1V1203h1V1203h1V1203h1V1203h1V1203h1V1203h1V1203h1V1202h1V1206h1V1202h1V1202h1V1202h1V1202h1V1202h1V1202h1V1202h1V1202h1V1202h1V1202h1V1202h1V1202h1V1202h1V1202h1V1202h1V1202h1V1202h1V1202h1V1202h1V1202h1V1202h1V1202h1V1202h1V1202h1V1202h1V1206h1V1206h1V1202h1V1202h1V1202h1V1202h1V1199h1V1202h1V1202h1V1202h1V1202h1V1202h1V1205h1V1202h1V1202h1V1202h1V1202h1V1202h1V1202h1V1202h1V1199h1V1201h1V1201h1V1201h1V1201h1V1201h1V1201h1V1201h1V1201h1V1206h-1V1206h-1V1206h-1V1206h-1V1206h-1V1206h-1V1206h-1V1206h-1V1206h-1V1206h-1V1206h-1V1206h-1V1206h-1V1206h-1V1206h-1V1206h-1V1206h-1V1206h-1V1207h-1V1207h-1V1207h-1V1207h-1V1207h-1V1207h-1V1207h-1V1207h-1V1207h-1V1207h-1V1207h-1V1207h-1V1207h-1V1207h-1V1207h-1V1207h-1V1207h-1V1207h-1V1207h-1V1207h-1V1207h-1V1207h-1V1207h-1V1207h-1V1207h-1V1207h-1V1207h-1V1207h-1V1207h-1V1207h-1V1207h-1V1207h-1V1207h-1V1207h-1V1207h-1V1207h-1V1207h-1V1207h-1V1207h-1V1207h-1V1207h-1V1207h-1V1207h-1V1207h-1V1207h-1V1207h-1V1207h-1V1208h-1V1208h-1V1208h-1V1208h-1V1208h-1V1208h-1V1208h-1V1208h-1V1208h-1V1208h-1V1208h-1V1208h-1V1208h-1V1208h-1V1208h-1V1208h-1V1208h-1V1208h-1V1208h-1V1208h-1V1208h-1V1208h-1V1208h-1V1208h-1V1208h-1V1208h-1V1208h-1V1208h-1V1208h-1V1208h-1V1208h-1V1208h-1V1208h-1V1208h-1V1208h-1V1208h-1V1208h-1V1208h-1V1208h-1V1209h-1V1209h-1V1209h-1V1209h-1V1209h-1V1209h-1V1209h-1V1209h-1V1209h-1V1209h-1V1209h-1V1209h-1V1209h-1V1209h-1V1209h-1V1209h-1V1209h-1V1209h-1V1209h-1V1209h-1V1209h-1V1209h-1V1209h-1V1209h-1V1210h-1V1210h-1V1210h-1V1210h-1V1210h-1V1210h-1V1210h-1V1210h-1V1210h-1V1210h-1V1210h-1V1210h-1V1210h-1V1210h-1V1210h-1V1210h-1V1210h-1V1210h-1V1210h-1V1210h-1V1210h-1V1210h-1V1210h-1V1210h-1V1211h-1V1211h-1V1211h-1V1211h-1V1211h-1V1211h-1V1211h-1V1211h-1V1211h-1V1211h-1V1211h-1V1211h-1V1211h-1V1211h-1V1211h-1V1211h-1V1211h-1V1211h-1V1211h-1V1211h-1V1211h-1V1211h-1V1211h-1V1211h-1V1211h-1V1211h-1V1212h-1V1212h-1V1212h-1V1212h-1V1212h-1V1212h-1V1212h-1V1212h-1V1212h-1V1212h-1V1212h-1V1212h-1V1212h-1V1212h-1V1212h-1V1212h-1V1212h-1V1212h-1V1212h-1V1212h-1V1212h-1V1212h-1V1212h-1V1212h-1V1212h-1V1212h-1V1212h-1V1212h-1V1212h-1V1212h-1V1212h-1V1212h-1V1212h-1V1212h-1V1212h-1V1212h-1V1212h-1V1212h-1V1212h-1V1212h-1V1212h-1V1213h-1V1213h-1V1213h-1V1213h-1V1213h-1V1213h-1V1213h-1V1213h-1V1213h-1V1213h-1V1213h-1V1213h-1V1213h-1V1213h-1V1213h-1V1213h-1V1213h-1V1213h-1V1213h-1V1213h-1V1213h-1V1213h-1V1213h-1V1213h-1V1213h-1V1213h-1V1213h-1V1213h-1V1213h-1V1213h-1V1213h-1V1213h-1V1213h-1V1213h-1V1213h-1V1213h-1V1213h-1V1213h-1V1213h-1V1213h-1V1213h-1V1213h-1V1213h-1V1213h-1V1213h-1V1213h-1V1213h-1V1213h-1V1213h-1V1213h-1V1213h-1V1213h-1V1213h-1V1213h-1V1213h-1V1213h-1V1213h-1V1213h-1V1213h-1V1213h-1V1216h-1V1213h-1V1213h-1V1213h-1V1213h-1V1213h-1V1213h-1V1213h-1V1213h-1V1213h-1V1213h-1V1213h-1V1213h-1V1213h-1V1213h-1V1213h-1V1213h-1V1213h-1V1213h-1V1213h-1V1213h-1V1213h-1V1213h-1V1213h-1V1213h-1V1213h-1V1213h-1V1213h-1V1213h-1V1213h-1V1213h-1V1213h-1V1213h-1V1213h-1V1214h-1V1214h-1V1214h-1V1214h-1V1214h-1V1214h-1V1214h-1V1214h-1V1214h-1V1214h-1V1214h-1V1214h-1V1214h-1V1214h-1V1214h-1V1214h-1V1216h-1V1216h-1V1214h-1V1214h-1V1214h-1V1214h-1V1214h-1V1214h-1V1214h-1V1214h-1V1214h-1V1214h-1V1214h-1V1214h-1V1214h-1V1214h-1V1214h-1V1214h-1V1214h-1V1214h-1V1214h-1V1214h-1V1214h-1V1214h-1V1214h-1V1214h-1V1214h-1V1214h-1V1214h-1V1214h-1V1214h-1V1214h-1V1214h-1V1214h-1V1214h-1V1214h-1V1214h-1V1214h-1V1214h-1V1214h-1V1214h-1V1214h-1V1214h-1V1214h-1V1214h-1V1214h-1V1214h-1V1214h-1V1214h-1V1214h-1V1214h-1V1214h-1V1214h-1V1214h-1V1214h-1V1214h-1V1214h-1V1214h-1V1214h-1V1214h-1V1214h-1V1214h-1V1214h-1V1214h-1V1214h-1V1214h-1V1214h-1V1214h-1V1214h-1V1214h-1V1214h-1V1214h-1V1214h-1V1214h-1V1214h-1V1214h-1V1214h-1V1214h-1V1214h-1V1214h-1V1214h-1V1214h-1V1214h-1V1214h-1V1214h-1V1214h-1V1214h-1V1214h-1V1214h-1V1214h-1V1214h-1V1214h-1V1214h-1V1214h-1V1214h-1V1214h-1V1214h-1V1214h-1V1214h-1V1214h-1V1214h-1V1214h-1V1214h-1V1214h-1V1214h-1V1214h-1V1214h-1V1214h-1V1214h-1V1214h-1V1214h-1V1214h-1V1214h-1V1214h-1V1214h-1V1214h-1V1214h-1V1214h-1V1214h-1V1214h-1V1214h-1V1214h-1V1214h-1V1214h-1V1214h-1V1214h-1V1214h-1V1214h-1V1214h-1V1214h-1V1214h-1V1214h-1V1214h-1V1214h-1V1214h-1V1214h-1V1214h-1V1214h-1V1214h-1V1214h-1V1214h-1V1214h-1V1214h-1V1214h-1V1214h-1V1214h-1V1214h-1V1214h-1V1214h-1V1214h-1V1214h-1V1215h-1V1215h-1V1215h-1V1215h-1V1215h-1V1215h-1V1215h-1V1215h-1V1215h-1V1215h-1V1215h-1V1215h-1V1215h-1V1215h-1V1215h-1V1215h-1V1215h-1V1215h-1V1215h-1V1215h-1V1215h-1V1215h-1V1215h-1V1215h-1V1215h-1V1215h-1V1215h-1V1215h-1V1215h-1V1215h-1V1215h-1V1215h-1V1215h-1V1215h-1V1215h-1V1215h-1V1215h-1V1215h-1V1215h-1V1215h-1V1215h-1V1215h-1V1215h-1V1215h-1V1215h-1V1215h-1V1215h-1V1215h-1V1215h-1V1215h-1V1215h-1V1215h-1V1215h-1V1215h-1V1215h-1V1215h-1V1215h-1V1215h-1V1215h-1V1215h-1V1215h-1V1218h-1V1215h-1V1215h-1V1215h-1V1215h-1V1215h-1V1215h-1V1215h-1V1215h-1V1215h-1V1215h-1V1215h-1V1215h-1V1215h-1V1215h-1V1215h-1V1215h-1V1215h-1V1215h-1V1215h-1V1215h-1V1215h-1V1215h-1V1215h-1V1215h-1V1215h-1V1215h-1V1215h-1V1215h-1V1214h-1V1214h-1V1214h-1V1214h-1V1214h-1V1214h-1V1214h-1V1214h-1V1214h-1V1214h-1V1214h-1V1214h-1V1214h-1V1214h-1V1214h-1V1214h-1V1214h-1V1214h-1V1214h-1V1214h-1V1214h-1V1214h-1V1214h-1V1214h-1V1214h-1V1214h-1V1214h-1V1214h-1V1214h-1V1214h-1V1214h-1V1214h-1V1214h-1V1214h-1V1214h-1V1214h-1V1214h-1V1214h-1V1214h-1V1214h-1V1214h-1V1214h-1V1214h-1V1214h-1V1214h-1V1214h-1V1214h-1V1214h-1V1214h-1V1214h-1V1214h-1V1214h-1V1214h-1V1214h-1V1214h-1V1214h-1V1214h-1V1214h-1V1214h-1V1214h-1V1214h-1V1214h-1V1214h-1V1214h-1V1214h-1V1214h-1V1214h-1V1214h-1V1214h-1V1214h-1V1214h-1V1214h-1V1214h-1V1214h-1V1214h-1V1216h-1V1214h-1V1214h-1V1214h-1V1214h-1V1214h-1V1214h-1V1214h-1V1214h-1V1214h-1V1214h-1V1214h-1V1214h-1V1214h-1V1214h-1V1214h-1V1214h-1V1214h-1V1214h-1V1214h-1V1214h-1V1214h-1V1214h-1V1214h-1V1214h-1V1214h-1V1214h-1V1214h-1V1214h-1V1214h-1V1214h-1V1214h-1V1214h-1V1214h-1V1214h-1V1214h-1V1214h-1V1214h-1V1214h-1V1214h-1V1214h-1V1214h-1V1214h-1V1214h-1V1214h-1V1214h-1V1214h-1V1214h-1V1214h-1V1214h-1V1214h-1V1214h-1V1214h-1V1214h-1V1214h-1V1214h-1V1214h-1V1214h-1V1214h-1V1214h-1V1214h-1V1214h-1V1214h-1V1214h-1V1214h-1V1214h-1V1214h-1V1214h-1V1214h-1V1214h-1V1214h-1V1214h-1V1214h-1V1214h-1V1214h-1V1214h-1V1214h-1V1214h-1V1214h-1V1214h-1V1214h-1V1214h-1V1214h-1V1214h-1V1214h-1V1214h-1V1214h-1V1214h-1V1214h-1V1214h-1V1214h-1V1214h-1V1214h-1V1214h-1V1214h-1V1214h-1V1214h-1V1214h-1V1214h-1V1214h-1V1214h-1V1214h-1V1214h-1V1214h-1V1214h-1V1214h-1V1214h-1V1214h-1V1214h-1V1214h-1V1214h-1V1214h-1V1214h-1V1214h-1V1214h-1V1214h-1V1214h-1V1214h-1V1214h-1V1214h-1V1214h-1V1214h-1V1214h-1V1214h-1V1214h-1V1214h-1V1214h-1V1214h-1V1214h-1V1214h-1V1214h-1V1214h-1V1214h-1V1214h-1V1214h-1V1214h-1V1214h-1V1214h-1V1214h-1V1214h-1V1214h-1V1214h-1V1214h-1V1214h-1V1214h-1V1214h-1V1214h-1V1214h-1V1214h-1V1214h-1V1214h-1V1214h-1V1214h-1V1214h-1V1214h-1V1214h-1V1214h-1V1214h-1V1214h-1V1214h-1V1214h-1V1214h-1V1214h-1V1214h-1V1214h-1V1214h-1V1214h-1V1214h-1V1214h-1V1214h-1V1214h-1V1214h-1V1214h-1V1214h-1V1214h-1V1214h-1V1214h-1V1214h-1V1214h-1V1214h-1V1214h-1V1214h-1V1214h-1V1214h-1V1214h-1V1214h-1V1214h-1V1214h-1V1214h-1V1214h-1V1214h-1V1214h-1V1214h-1V1214h-1V1214h-1V1214h-1V1214h-1V1214h-1V1214h-1V1214h-1V1214h-1V1214h-1V1214h-1V1214h-1V1214h-1V1214h-1V1214h-1V1214h-1V1214h-1V1214h-1V1214h-1V1214h-1V1214h-1V1214h-1V1214h-1V1214h-1V1214h-1V1214h-1V1214h-1V1214h-1V1214h-1V1214h-1V1214h-1V1214h-1V1214h-1V1214h-1V1214h-1V1214h-1V1214h-1V1214h-1V1214h-1V1214h-1V1214h-1V1214h-1V1214h-1V1214h-1V1214h-1V1214h-1V1214h-1V1214h-1V1214h-1V1214h-1V1214h-1V1214h-1V1214h-1V1214h-1V1214h-1V1214h-1V1214h-1V1214h-1V1214h-1V1214h-1V1214h-1V1214h-1V1214h-1V1214h-1V1214h-1V1214h-1V1214h-1V1214h-1V1214h-1V1214h-1V1214h-1V1214h-1V1214h-1V1214h-1V1214h-1V1214h-1V1214h-1V1214h-1V1214h-1V1214h-1V1214h-1V1214h-1V1214h-1V1214h-1V1214h-1V1214h-1V1214h-1V1214h-1V1214h-1V1214h-1V1214h-1V1214h-1V1214h-1V1214h-1V1214h-1V1214h-1V1214h-1V1214h-1V1214h-1V1214h-1V1214h-1V1214h-1V1214h-1V1214h-1V1214h-1V1214h-1V1214h-1V1214h-1V1214h-1V1214h-1V1214h-1V1214h-1V1214h-1V1214h-1V1214h-1V1214h-1V1214h-1V1214h-1V1214h-1V1214h-1V1214h-1V1214h-1V1214h-1V1214h-1V1214h-1V1214h-1V1214h-1V1214h-1V1214h-1V1214h-1V1214h-1V1214h-1V1214h-1V1214h-1V1214h-1V1214h-1V1214h-1V1214h-1V1214h-1V1214h-1V1214h-1V1214h-1V1214h-1V1214h-1V1214h-1V1214h-1V1214h-1V1214h-1V1214h-1V1214h-1V1214h-1V1214h-1Z" fill="#00ffff" shape-rendering="crispEdges"/><path d="M165 1111h1V1111h1V1108h1V1110h1V1110h1V1109h1V1108h1V1108h1V1108h1V1107h1V1107h1V1107h1V1106h1V1106h1V1105h1V1105h1V1105h1V1103h1V1104h1V1104h1V1103h1V1103h1V1103h1V1102h1V1102h1V1102h1V1101h1V1101h1V1101h1V1098h1V1100h1V1099h1V1098h1V1099h1V1098h1V1098h1V1097h1V1097h1V1096h1V1097h1V1097h1V1096h1V1096h1V1096h1V1094h1V1096h1V1094h1V1094h1V1095h1V1095h1V1093h1V1093h1V1094h1V1092h1V1091h1V1093h1V1093h1V1093h1V1092h1V1091h1V1092h1V1091h1V1091h1V1091h1V1092h1V1091h1V1091h1V1091h1V1091h1V1091h1V1090h1V1089h1V1089h1V1091h1V1088h1V1090h1V1090h1V1089h1V1090h1V1090h1V1089h1V1090h1V1088h1V1089h1V1090h1V1088h1V1088h1V1088h1V1089h1V1089h1V1089h1V1089h1V1089h1V1088h1V1088h1V1088h1V1088h1V1089h1V1088h1V1088h1V1088h1V1088h1V1088h1V1088h1V1088h1V1087h1V1088h1V1088h1V1087h1V1088h1V1087h1V1087h1V1087h1V1087h1V1086h1V1086h1V1087h1V1087h1V1087h1V1087h1V1086h1V1086h1V1085h1V1086h1V1085h1V1085h1V1085h1V1085h1V1085h1V1086h1V1085h1V1086h1V1085h1V1085h1V1086h1V1085h1V1085h1V1085h1V1085h1V1084h1V1085h1V1084h1V1085h1V1085h1V1085h1V1085h1V1084h1V1085h1V1083h1V1084h1V1084h1V1084h1V1084h1V1084h1V1083h1V1084h1V1083h1V1083h1V1084h1V1083h1V1083h1V1083h1V1083h1V1083h1V1083h1V1081h1V1083h1V1081h1V1082h1V1082h1V1082h1V1083h1V1083h1V1083h1V1082h1V1082h1V1082h1V1081h1V1082h1V1082h1V1082h1V1082h1V1082h1V1082h1V1082h1V1082h1V1079h1V1082h1V1081h1V1082h1V1081h1V1081h1V1081h1V1081h1V1081h1V1081h1V1081h1V1079h1V1081h1V1081h1V1081h1V1080h1V1081h1V1081h1V1081h1V1081h1V1081h1V1081h1V1080h1V1081h1V1079h1V1080h1V1081h1V1080h1V1080h1V1080h1V1079h1V1080h1V1079h1V1080h1V1080h1V1080h1V1080h1V1079h1V1080h1V1080h1V1080h1V1080h1V1080h1V1078h1V1077h1V1080h1V1080h1V1080h1V1080h1V1078h1V1079h1V1079h1V1080h1V1080h1V1080h1V1080h1V1080h1V1080h1V1080h1V1080h1V1080h1V1080h1V1079h1V1079h1V1078h1V1079h1V1079h1V1079h1V1080h1V1078h1V1079h1V1078h1V1079h1V1077h1V1080h1V1078h1V1078h1V1079h1V1080h1V1080h1V1080h1V1080h1V1079h1V1080h1V1079h1V1079h1V1080h1V1078h1V1079h1V1080h1V1080h1V1079h1V1079h1V1079h1V1079h1V1079h1V1080h1V1080h1V1080h1V1079h1V1079h1V1080h1V1080h1V1078h1V1078h1V1078h1V1080h1V1079h1V1080h1V1079h1V1078h1V1079h1V1079h1V1079h1V1079h1V1079h1V1079h1V1079h1V1078h1V1079h1V1079h1V1079h1V1077h1V1079h1V1080h1V1079h1V1079h1V1079h1V1079h1V1079h1V1078h1V1079h1V1078h1V1079h1V1079h1V1079h1V1079h1V1079h1V1078h1V1076h1V1079h1V1079h1V1079h1V1079h1V1079h1V1078h1V1079h1V1079h1V1079h1V1079h1V1079h1V1079h1V1079h1V1079h1V1079h1V1078h1V1079h1V1079h1V1079h1V1078h1V1079h1V1079h1V1079h1V1079h1V1079h1V1078h1V1079h1V1077h1V1079h1V1078h1V1079h1V1078h1V1078h1V1079h1V1078h1V1079h1V1079h1V1079h1V1079h1V1078h1V1078h1V1078h1V1077h1V1078h1V1078h1V1079h1V1077h1V1079h1V1078h1V1079h1V1079h1V1077h1V1078h1V1078h1V1078h1V1079h1V1078h1V1078h1V1078h1V1078h1V1078h1V1077h1V1078h1V1078h1V1078h1V1078h1V1078h1V1078h1V1078h1V1078h1V1078h1V1077h1V1078h1V1077h1V1077h1V1078h1V1078h1V1076h1V1077h1V1078h1V1078h1V1076h1V1077h1V1078h1V1077h1V1078h1V1077h1V1078h1V1078h1V1078h1V1078h1V1077h1V1077h1V1078h1V1078h1V1077h1V1077h1V1078h1V1077h1V1076h1V1077h1V1077h1V1076h1V1077h1V1077h1V1077h1V1077h1V1077h1V1077h1V1077h1V1077h1V1077h1V1077h1V1077h1V1077h1V1077h1V1075h1V1077h1V1076h1V1077h1V1076h1V1074h1V1077h1V1077h1V1077h1V1076h1V1077h1V1077h1V1076h1V1077h1V1076h1V1076h1V1076h1V1076h1V1076h1V1075h1V1077h1V1077h1V1077h1V1076h1V1075h1V1077h1V1077h1V1077h1V1076h1V1076h1V1075h1V1076h1V1076h1V1076h1V1076h1V1076h1V1076h1V1076h1V1075h1V1075h1V1075h1V1075h1V1076h1V1076h1V1076h1V1076h1V1076h1V1076h1V1075h1V1076h1V1076h1V1074h1V1076h1V1076h1V1074h1V1076h1V1075h1V1076h1V1075h1V1076h1V1076h1V1076h1V1076h1V1076h1V1075h1V1076h1V1076h1V1075h1V1076h1V1075h1V1076h1V1076h1V1076h1V1075h1V1075h1V1076h1V1075h1V1074h1V1076h1V1076h1V1076h1V1076h1V1076h1V1075h1V1074h1V1076h1V1074h1V1076h1V1076h1V1075h1V1076h1V1076h1V1075h1V1076h1V1076h1V1075h1V1076h1V1076h1V1075h1V1076h1V1075h1V1075h1V1074h1V1075h1V1074h1V1075h1V1073h1V1073h1V1075h1V1074h1V1074h1V1075h1V1075h1V1074h1V1074h1V1075h1V1075h1V1075h1V1075h1V1075h1V1075h1V1075h1V1074h1V1075h1V1075h1V1075h1V1075h1V1075h1V1075h1V1074h1V1075h1V1074h1V1074h1V1075h1V1074h1V1075h1V1074h1V1075h1V1075h1V1074h1V1075h1V1075h1V1074h1V1075h1V1075h1V1075h1V1075h1V1075h1V1075h1V1075h1V1075h1V1073h1V1073h1V1074h1V1074h1V1075h1V1075h1V1074h1V1075h1V1074h1V1075h1V1075h1V1075h1V1074h1V1075h1V1074h1V1075h1V1073h1V1074h1V1074h1V1074h1V1074h1V1074h1V1075h1V1074h1V1074h1V1075h1V1075h1V1074h1V1073h1V1074h1V1073h1V1075h1V1075h1V1074h1V1074h1V1074h1V1074h1V1074h1V1073h1V1074h1V1074h1V1074h1V1074h1V1074h1V1074h1V1074h1V1074h1V1074h1V1074h1V1074h1V1073h1V1074h1V1074h1V1073h1V1073h1V1074h1V1074h1V1074h1V1074h1V1074h1V1074h1V1074h1V1074h1V1074h1V1074h1V1074h1V1074h1V1074h1V1073h1V1074h1V1073h1V1074h1V1074h1V1074h1V1074h1V1073h1V1073h1V1073h1V1074h1V1073h1V1073h1V1074h1V1074h1V1074h1V1073h1V1074h1V1073h1V1073h1V1074h1V1073h1V1072h1V1071h1V1074h1V1074h1V1074h1V1073h1V1073h1V1074h1V1074h1V1074h1V1074h1V1074h1V1074h1V1074h1V1074h1V1074h1V1074h1V1073h1V1074h1V1074h1V1073h1V1074h1V1074h1V1073h1V1074h1V1074h1V1074h1V1072h1V1074h1V1074h1V1074h1V1074h1V1073h1V1072h1V1074h1V1071h1V1074h1V1073h1V1072h1V1074h1V1074h1V1074h1V1073h1V1074h1V1074h1V1073h1V1073h1V1074h1V1074h1V1074h1V1074h1V1074h1V1073h1V1074h1V1073h1V1074h1V1074h1V1073h1V1074h1V1073h1V1074h1V1073h1V1074h1V1073h1V1074h1V1074h1V1073h1V1074h1V1074h1V1074h1V1074h1V1074h1V1071h1V1074h1V1073h1V1073h1V1073h1V1074h1V1074h1V1073h1V1074h1V1074h1V1074h1V1074h1V1074h1V1074h1V1074h1V1072h1V1074h1V1074h1V1073h1V1074h1V1074h1V1074h1V1074h1V1073h1V1073h1V1074h1V1074h1V1074h1V1073h1V1074h1V1074h1V1072h1V1074h1V1072h1V1074h1V1074h1V1074h1V1074h1V1074h1V1073h1V1074h1V1072h1V1074h1V1074h1V1074h1V1073h1V1074h1V1074h1V1074h1V1073h1V1074h1V1073h1V1073h1V1072h1V1074h1V1074h1V1074h1V1072h1V1074h1V1074h1V1074h1V1074h1V1074h1V1074h1V1073h1V1073h1V1074h1V1074h1V1074h1V1073h1V1073h1V1071h1V1074h1V1074h1V1074h1V1072h1V1073h1V1074h1V1074h1V1074h1V1074h1V1073h1V1074h1V1074h1V1074h1V1073h1V1072h1V1074h1V1074h1V1073h1V1074h1V1073h1V1073h1V1073h1V1074h1V1073h1V1073h1V1072h1V1073h1V1074h1V1074h1V1074h1V1074h1V1074h1V1074h1V1074h1V1074h1V1074h1V1073h1V1073h1V1074h1V1072h1V1073h1V1074h1V1073h1V1074h1V1073h1V1074h1V1073h1V1074h1V1074h1V1074h1V1074h1V1074h1V1074h1V1074h1V1074h1V1074h1V1074h1V1073h1V1074h1V1074h1V1074h1V1072h1V1074h1V1073h1V1074h1V1074h1V1074h1V1073h1V1073h1V1074h1V1074h1V1074h1V1074h1V1073h1V1074h1V1074h1V1074h1V1074h1V1074h1V1074h1V1074h1V1073h1V1074h1V1074h1V1073h1V1074h1V1074h1V1074h1V1074h1V1072h1V1073h1V1074h1V1074h1V1074h1V1073h1V1074h1V1073h1V1074h1V1073h1V1074h1V1074h1V1074h1V1074h1V1073h1V1073h1V1074h1V1074h1V1074h1V1074h1V1074h1V1074h1V1074h1V1074h1V1073h1V1073h1V1072h1V1073h1V1072h1V1073h1V1074h1V1074h1V1074h1V1074h1V1074h1V1074h1V1074h1V1073h1V1074h1V1073h1V1074h1V1073h1V1073h1V1074h1V1073h1V1074h1V1074h1V1074h1V1073h1V1073h1V1074h1V1072h1V1073h1V1074h1V1074h1V1074h1V1072h1V1072h1V1073h1V1074h1V1073h1V1074h1V1074h1V1074h1V1074h1V1074h1V1074h1V1073h1V1073h1V1074h1V1074h1V1074h1V1073h1V1079h-1V1079h-1V1082h-1V1079h-1V1079h-1V1079h-1V1079h-1V1079h-1V1079h-1V1079h-1V1079h-1V1079h-1V1079h-1V1079h-1V1079h-1V1079h-1V1079h-1V1079h-1V1079h-1V1079h-1V1080h-1V1080h-1V1079h-1V1079h-1V1080h-1V1079h-1V1080h-1V1079h-1V1080h-1V1080h-1V1079h-1V1079h-1V1079h-1V1081h-1V1079h-1V1081h-1V1079h-1V1079h-1V1079h-1V1079h-1V1079h-1V1079h-1V1079h-1V1079h-1V1079h-1V1079h-1V1080h-1V1079h-1V1079h-1V1080h-1V1079h-1V1079h-1V1079h-1V1079h-1V1079h-1V1079h-1V1081h-1V1080h-1V1079h-1V1080h-1V1079h-1V1079h-1V1079h-1V1079h-1V1080h-1V1079h-1V1079h-1V1079h-1V1079h-1V1080h-1V1079h-1V1079h-1V1080h-1V1080h-1V1079h-1V1079h-1V1080h-1V1079h-1V1080h-1V1080h-1V1079h-1V1079h-1V1079h-1V1079h-1V1080h-1V1079h-1V1079h-1V1079h-1V1079h-1V1081h-1V1079h-1V1079h-1V1079h-1V1081h-1V1080h-1V1079h-1V1080h-1V1079h-1V1081h-1V1079h-1V1079h-1V1080h-1V1079h-1V1079h-1V1079h-1V1081h-1V1079h-1V1079h-1V1079h-1V1079h-1V1080h-1V1080h-1V1079h-1V1079h-1V1079h-1V1080h-1V1079h-1V1079h-1V1079h-1V1079h-1V1079h-1V1079h-1V1079h-1V1079h-1V1079h-1V1080h-1V1079h-1V1079h-1V1079h-1V1079h-1V1079h-1V1080h-1V1079h-1V1080h-1V1080h-1V1079h-1V1079h-1V1079h-1V1079h-1V1079h-1V1079h-1V1080h-1V1079h-1V1079h-1V1080h-1V1079h-1V1081h-1V1081h-1V1079h-1V1079h-1V1080h-1V1080h-1V1079h-1V1080h-1V1079h-1V1079h-1V1079h-1V1080h-1V1079h-1V1079h-1V1079h-1V1081h-1V1079h-1V1079h-1V1080h-1V1079h-1V1079h-1V1079h-1V1079h-1V1079h-1V1079h-1V1080h-1V1079h-1V1079h-1V1079h-1V1079h-1V1079h-1V1080h-1V1079h-1V1080h-1V1079h-1V1079h-1V1079h-1V1079h-1V1080h-1V1080h-1V1079h-1V1079h-1V1079h-1V1079h-1V1079h-1V1079h-1V1079h-1V1079h-1V1080h-1V1080h-1V1079h-1V1079h-1V1080h-1V1079h-1V1079h-1V1079h-1V1080h-1V1079h-1V1080h-1V1079h-1V1080h-1V1081h-1V1080h-1V1079h-1V1079h-1V1080h-1V1079h-1V1079h-1V1079h-1V1079h-1V1079h-1V1079h-1V1079h-1V1079h-1V1079h-1V1080h-1V1080h-1V1079h-1V1079h-1V1079h-1V1080h-1V1079h-1V1079h-1V1080h-1V1080h-1V1080h-1V1080h-1V1079h-1V1079h-1V1081h-1V1079h-1V1079h-1V1079h-1V1079h-1V1079h-1V1080h-1V1079h-1V1079h-1V1079h-1V1080h-1V1079h-1V1080h-1V1080h-1V1079h-1V1079h-1V1079h-1V1080h-1V1079h-1V1079h-1V1080h-1V1081h-1V1080h-1V1079h-1V1079h-1V1080h-1V1079h-1V1079h-1V1079h-1V1080h-1V1079h-1V1081h-1V1079h-1V1079h-1V1079h-1V1079h-1V1079h-1V1079h-1V1079h-1V1081h-1V1079h-1V1080h-1V1079h-1V1079h-1V1079h-1V1079h-1V1080h-1V1080h-1V1079h-1V1080h-1V1079h-1V1079h-1V1079h-1V1079h-1V1080h-1V1080h-1V1079h-1V1079h-1V1079h-1V1080h-1V1079h-1V1079h-1V1079h-1V1079h-1V1081h-1V1079h-1V1079h-1V1080h-1V1079h-1V1079h-1V1079h-1V1079h-1V1079h-1V1079h-1V1080h-1V1079h-1V1079h-1V1079h-1V1080h-1V1079h-1V1079h-1V1079h-1V1079h-1V1079h-1V1079h-1V1080h-1V1079h-1V1079h-1V1079h-1V1080h-1V1079h-1V1080h-1V1080h-1V1079h-1V1079h-1V1081h-1V1081h-1V1079h-1V1079h-1V1079h-1V1079h-1V1080h-1V1079h-1V1079h-1V1079h-1V1079h-1V1079h-1V1080h-1V1079h-1V1079h-1V1079h-1V1079h-1V1079h-1V1079h-1V1079h-1V1080h-1V1079h-1V1079h-1V1079h-1V1079h-1V1079h-1V1079h-1V1079h-1V1079h-1V1080h-1V1081h-1V1079h-1V1079h-1V1080h-1V1079h-1V1080h-1V1079h-1V1080h-1V1079h-1V1079h-1V1079h-1V1080h-1V1080h-1V1080h-1V1080h-1V1080h-1V1080h-1V1080h-1V1082h-1V1080h-1V1080h-1V1080h-1V1080h-1V1080h-1V1080h-1V1080h-1V1080h-1V1080h-1V1080h-1V1081h-1V1080h-1V1080h-1V1081h-1V1081h-1V1080h-1V1081h-1V1080h-1V1080h-1V1080h-1V1081h-1V1080h-1V1080h-1V1081h-1V1080h-1V1080h-1V1080h-1V1080h-1V1080h-1V1081h-1V1080h-1V1082h-1V1081h-1V1081h-1V1080h-1V1080h-1V1081h-1V1080h-1V1082h-1V1081h-1V1080h-1V1083h-1V1080h-1V1080h-1V1080h-1V1080h-1V1080h-1V1080h-1V1080h-1V1080h-1V1081h-1V1080h-1V1080h-1V1081h-1V1080h-1V1082h-1V1080h-1V1081h-1V1081h-1V1081h-1V1082h-1V1081h-1V1081h-1V1080h-1V1081h-1V1081h-1V1080h-1V1081h-1V1080h-1V1080h-1V1081h-1V1081h-1V1081h-1V1082h-1V1080h-1V1080h-1V1080h-1V1081h-1V1083h-1V1081h-1V1083h-1V1081h-1V1081h-1V1081h-1V1081h-1V1081h-1V1081h-1V1081h-1V1082h-1V1082h-1V1082h-1V1081h-1V1082h-1V1082h-1V1081h-1V1082h-1V1081h-1V1081h-1V1081h-1V1081h-1V1082h-1V1081h-1V1081h-1V1081h-1V1082h-1V1081h-1V1081h-1V1082h-1V1081h-1V1082h-1V1081h-1V1081h-1V1081h-1V1081h-1V1081h-1V1081h-1V1081h-1V1081h-1V1083h-1V1082h-1V1082h-1V1083h-1V1082h-1V1081h-1V1081h-1V1084h-1V1081h-1V1081h-1V1082h-1V1082h-1V1081h-1V1081h-1V1081h-1V1082h-1V1082h-1V1082h-1V1082h-1V1082h-1V1082h-1V1082h-1V1084h-1V1081h-1V1082h-1V1082h-1V1081h-1V1081h-1V1083h-1V1081h-1V1082h-1V1082h-1V1082h-1V1082h-1V1082h-1V1082h-1V1082h-1V1082h-1V1082h-1V1082h-1V1082h-1V1082h-1V1082h-1V1082h-1V1082h-1V1082h-1V1082h-1V1083h-1V1082h-1V1083h-1V1083h-1V1082h-1V1083h-1V1082h-1V1082h-1V1082h-1V1082h-1V1083h-1V1083h-1V1082h-1V1082h-1V1082h-1V1082h-1V1085h-1V1083h-1V1082h-1V1083h-1V1083h-1V1083h-1V1083h-1V1082h-1V1082h-1V1083h-1V1083h-1V1085h-1V1083h-1V1083h-1V1083h-1V1083h-1V1084h-1V1083h-1V1083h-1V1083h-1V1083h-1V1084h-1V1083h-1V1083h-1V1083h-1V1083h-1V1083h-1V1083h-1V1083h-1V1083h-1V1083h-1V1083h-1V1083h-1V1083h-1V1083h-1V1083h-1V1083h-1V1084h-1V1083h-1V1084h-1V1083h-1V1083h-1V1083h-1V1085h-1V1083h-1V1083h-1V1083h-1V1084h-1V1084h-1V1085h-1V1083h-1V1084h-1V1084h-1V1084h-1V1084h-1V1083h-1V1084h-1V1084h-1V1084h-1V1084h-1V1084h-1V1084h-1V1084h-1V1084h-1V1084h-1V1084h-1V1084h-1V1084h-1V1084h-1V1086h-1V1084h-1V1084h-1V1084h-1V1084h-1V1084h-1V1084h-1V1085h-1V1086h-1V1084h-1V1084h-1V1085h-1V1084h-1V1086h-1V1084h-1V1084h-1V1084h-1V1085h-1V1084h-1V1085h-1V1084h-1V1085h-1V1085h-1V1084h-1V1085h-1V1085h-1V1084h-1V1084h-1V1084h-1V1084h-1V1084h-1V1084h-1V1084h-1V1084h-1V1084h-1V1085h-1V1085h-1V1085h-1V1085h-1V1085h-1V1084h-1V1084h-1V1084h-1V1085h-1V1084h-1V1085h-1V1085h-1V1085h-1V1084h-1V1084h-1V1084h-1V1084h-1V1085h-1V1085h-1V1086h-1V1084h-1V1084h-1V1084h-1V1085h-1V1084h-1V1086h-1V1084h-1V1087h-1V1085h-1V1085h-1V1085h-1V1085h-1V1084h-1V1084h-1V1085h-1V1085h-1V1085h-1V1085h-1V1084h-1V1084h-1V1086h-1V1085h-1V1085h-1V1085h-1V1085h-1V1084h-1V1084h-1V1085h-1V1085h-1V1086h-1V1085h-1V1086h-1V1086h-1V1084h-1V1085h-1V1084h-1V1086h-1V1086h-1V1085h-1V1085h-1V1085h-1V1084h-1V1085h-1V1086h-1V1084h-1V1085h-1V1085h-1V1084h-1V1084h-1V1085h-1V1085h-1V1085h-1V1085h-1V1085h-1V1085h-1V1085h-1V1085h-1V1085h-1V1085h-1V1085h-1V1085h-1V1086h-1V1087h-1V1086h-1V1086h-1V1086h-1V1085h-1V1085h-1V1085h-1V1085h-1V1085h-1V1085h-1V1085h-1V1085h-1V1085h-1V1086h-1V1085h-1V1085h-1V1085h-1V1085h-1V1086h-1V1085h-1V1086h-1V1085h-1V1085h-1V1085h-1V1085h-1V1086h-1V1086h-1V1085h-1V1085h-1V1085h-1V1086h-1V1086h-1V1085h-1V1086h-1V1087h-1V1086h-1V1086h-1V1087h-1V1087h-1V1086h-1V1087h-1V1087h-1V1086h-1V1087h-1V1086h-1V1089h-1V1086h-1V1087h-1V1086h-1V1086h-1V1087h-1V1086h-1V1087h-1V1087h-1V1087h-1V1087h-1V1086h-1V1088h-1V1087h-1V1087h-1V1088h-1V1087h-1V1089h-1V1087h-1V1087h-1V1088h-1V1088h-1V1088h-1V1087h-1V1088h-1V1088h-1V1088h-1V1088h-1V1090h-1V1088h-1V1089h-1V1088h-1V1088h-1V1088h-1V1088h-1V1088h-1V1090h-1V1089h-1V1088h-1V1089h-1V1090h-1V1089h-1V1089h-1V1089h-1V1089h-1V1090h-1V1090h-1V1090h-1V1090h-1V1089h-1V1089h-1V1090h-1V1090h-1V1090h-1V1090h-1V1090h-1V1090h-1V1091h-1V1091h-1V1090h-1V1090h-1V1091h-1V1090h-1V1091h-1V1091h-1V1091h-1V1091h-1V1092h-1V1091h-1V1091h-1V1091h-1V1091h-1V1093h-1V1092h-1V1091h-1V1093h-1V1092h-1V1092h-1V1092h-1V1092h-1V1092h-1V1092h-1V1092h-1V1092h-1V1092h-1V1092h-1V1093h-1V1093h-1V1093h-1V1094h-1V1093h-1V1093h-1V1094h-1V1093h-1V1094h-1V1093h-1V1093h-1V1093h-1V1094h-1V1094h-1V1094h-1V1093h-1V1094h-1V1094h-1V1094h-1V1094h-1V1094h-1V1094h-1V1094h-1V1094h-1V1095h-1V1094h-1V1094h-1V1094h-1V1096h-1V1097h-1V1095h-1V1095h-1V1095h-1V1095h-1V1095h-1V1096h-1V1096h-1V1096h-1V1098h-1V1096h-1V1096h-1V1097h-1V1098h-1V1097h-1V1097h-1V1096h-1V1100h-1V1097h-1V1097h-1V1098h-1V1097h-1V1098h-1V1099h-1V1098h-1V1098h-1V1099h-1V1098h-1V1100h-1V1099h-1V1099h-1V1099h-1V1099h-1V1100h-1V1100h-1V1100h-1V1100h-1V1101h-1V1101h-1V1101h-1V1103h-1V1101h-1V1103h-1V1102h-1V1103h-1V1104h-1V1104h-1V1103h-1V1104h-1V1105h-1V1104h-1V1105h-1V1105h-1V1106h-1V1106h-1V1107h-1V1107h-1V1107h-1V1107h-1V1107h-1V1108h-1V1109h-1V1109h-1V1109h-1V1109h-1V1110h-1V1110h-1V1111h-1V1111h-1V1111h-1V1112h-1V1112h-1V1113h-1V1113h-1V1113h-1V1114h-1V1114h-1V1114h-1V1116h-1V1116h-1V1118h-1V1116h-1V1117h-1Z" fill="#00ff00" shape-rendering="crispEdges"/><path d="M165 1210h1V1210h1V1210h1V1210h1V1209h1V1210h1V1209h1V1210h1V1210h1V1210h1V1210h1V1209h1V1209h1V1209h1V1210h1V1209h1V1209h1V1208h1V1206h1V1209h1V1208h1V1208h1V1209h1V1209h1V1209h1V1209h1V1209h1V1208h1V1208h1V1209h1V1207h1V1208h1V1209h1V1209h1V1209h1V1209h1V1209h1V1207h1V1209h1V1208h1V1208h1V1209h1V1209h1V1207h1V1208h1V1208h1V1209h1V1208h1V1209h1V1209h1V1208h1V1209h1V1208h1V1209h1V1209h1V1207h1V1207h1V1209h1V1209h1V1209h1V1209h1V1208h1V1209h1V1209h1V1208h1V1209h1V1207h1V1209h1V1209h1V1208h1V1208h1V1209h1V1209h1V1209h1V1209h1V1208h1V1209h1V1208h1V1209h1V1209h1V1209h1V1209h1V1209h1V1209h1V1209h1V1209h1V1209h1V1210h1V1208h1V1209h1V1209h1V1208h1V1209h1V1210h1V1210h1V1209h1V1210h1V1210h1V1209h1V1210h1V1209h1V1210h1V1209h1V1210h1V1210h1V1209h1V1209h1V1210h1V1210h1V1210h1V1210h1V1210h1V1210h1V1210h1V1210h1V1211h1V1210h1V1210h1V1208h1V1211h1V1210h1V1211h1V1208h1V1211h1V1211h1V1210h1V1211h1V1212h1V1211h1V1211h1V1211h1V1210h1V1211h1V1212h1V1211h1V1212h1V1212h1V1212h1V1211h1V1212h1V1212h1V1213h1V1212h1V1211h1V1213h1V1212h1V1212h1V1212h1V1213h1V1213h1V1213h1V1213h1V1213h1V1212h1V1212h1V1212h1V1213h1V1214h1V1212h1V1213h1V1214h1V1213h1V1213h1V1213h1V1214h1V1213h1V1214h1V1214h1V1214h1V1214h1V1214h1V1214h1V1214h1V1214h1V1214h1V1214h1V1214h1V1215h1V1214h1V1215h1V1212h1V1214h1V1215h1V1215h1V1213h1V1215h1V1215h1V1215h1V1214h1V1215h1V1215h1V1214h1V1215h1V1215h1V1215h1V1216h1V1215h1V1213h1V1215h1V1216h1V1216h1V1216h1V1215h1V1216h1V1216h1V1215h1V1216h1V1215h1V1216h1V1215h1V1215h1V1216h1V1216h1V1216h1V1215h1V1216h1V1216h1V1216h1V1216h1V1217h1V1217h1V1217h1V1217h1V1217h1V1216h1V1217h1V1216h1V1217h1V1217h1V1217h1V1217h1V1217h1V1218h1V1216h1V1217h1V1217h1V1217h1V1217h1V1217h1V1217h1V1218h1V1218h1V1218h1V1218h1V1217h1V1218h1V1218h1V1218h1V1218h1V1218h1V1218h1V1219h1V1218h1V1217h1V1218h1V1218h1V1218h1V1218h1V1219h1V1219h1V1217h1V1219h1V1219h1V1219h1V1219h1V1219h1V1219h1V1219h1V1219h1V1219h1V1219h1V1220h1V1219h1V1220h1V1220h1V1219h1V1220h1V1219h1V1219h1V1220h1V1219h1V1220h1V1219h1V1220h1V1219h1V1219h1V1220h1V1220h1V1221h1V1220h1V1221h1V1220h1V1221h1V1219h1V1221h1V1221h1V1219h1V1221h1V1221h1V1221h1V1221h1V1221h1V1222h1V1222h1V1222h1V1222h1V1222h1V1222h1V1222h1V1222h1V1221h1V1222h1V1222h1V1222h1V1221h1V1222h1V1223h1V1222h1V1222h1V1220h1V1222h1V1222h1V1223h1V1222h1V1223h1V1223h1V1223h1V1222h1V1223h1V1223h1V1223h1V1222h1V1223h1V1223h1V1223h1V1223h1V1222h1V1222h1V1223h1V1223h1V1223h1V1224h1V1224h1V1224h1V1224h1V1224h1V1222h1V1224h1V1224h1V1224h1V1223h1V1224h1V1224h1V1224h1V1224h1V1222h1V1225h1V1225h1V1224h1V1224h1V1224h1V1225h1V1224h1V1225h1V1225h1V1224h1V1225h1V1225h1V1225h1V1223h1V1224h1V1224h1V1224h1V1225h1V1225h1V1224h1V1224h1V1226h1V1224h1V1225h1V1224h1V1225h1V1226h1V1225h1V1226h1V1225h1V1225h1V1225h1V1225h1V1225h1V1225h1V1225h1V1226h1V1226h1V1226h1V1225h1V1226h1V1226h1V1225h1V1225h1V1226h1V1226h1V1225h1V1225h1V1225h1V1226h1V1223h1V1224h1V1226h1V1226h1V1226h1V1226h1V1224h1V1225h1V1225h1V1226h1V1225h1V1226h1V1226h1V1226h1V1226h1V1226h1V1225h1V1226h1V1224h1V1226h1V1225h1V1226h1V1224h1V1226h1V1225h1V1226h1V1226h1V1226h1V1225h1V1226h1V1226h1V1226h1V1226h1V1226h1V1226h1V1226h1V1226h1V1226h1V1226h1V1226h1V1225h1V1226h1V1226h1V1226h1V1226h1V1225h1V1226h1V1225h1V1226h1V1226h1V1226h1V1226h1V1225h1V1226h1V1226h1V1226h1V1225h1V1226h1V1226h1V1225h1V1226h1V1226h1V1226h1V1226h1V1226h1V1226h1V1226h1V1226h1V1226h1V1223h1V1226h1V1226h1V1226h1V1226h1V1226h1V1226h1V1226h1V1225h1V1225h1V1226h1V1224h1V1226h1V1226h1V1226h1V1226h1V1224h1V1226h1V1226h1V1226h1V1226h1V1226h1V1226h1V1226h1V1225h1V1226h1V1226h1V1224h1V1225h1V1225h1V1225h1V1225h1V1226h1V1226h1V1226h1V1226h1V1226h1V1226h1V1225h1V1225h1V1225h1V1225h1V1225h1V1226h1V1226h1V1226h1V1225h1V1225h1V1225h1V1224h1V1224h1V1225h1V1225h1V1225h1V1225h1V1225h1V1225h1V1225h1V1222h1V1223h1V1225h1V1225h1V1223h1V1225h1V1222h1V1225h1V1224h1V1224h1V1224h1V1224h1V1224h1V1223h1V1224h1V1225h1V1224h1V1224h1V1222h1V1223h1V1224h1V1223h1V1223h1V1222h1V1223h1V1224h1V1224h1V1224h1V1223h1V1224h1V1222h1V1223h1V1223h1V1224h1V1221h1V1224h1V1223h1V1221h1V1223h1V1221h1V1223h1V1223h1V1222h1V1222h1V1223h1V1221h1V1222h1V1222h1V1219h1V1219h1V1222h1V1221h1V1221h1V1222h1V1222h1V1222h1V1222h1V1222h1V1222h1V1218h1V1219h1V1221h1V1221h1V1221h1V1221h1V1218h1V1220h1V1220h1V1220h1V1221h1V1220h1V1220h1V1220h1V1220h1V1220h1V1221h1V1220h1V1221h1V1217h1V1220h1V1220h1V1220h1V1220h1V1220h1V1220h1V1220h1V1220h1V1220h1V1219h1V1220h1V1220h1V1220h1V1219h1V1220h1V1219h1V1218h1V1220h1V1219h1V1220h1V1220h1V1219h1V1219h1V1219h1V1220h1V1220h1V1219h1V1219h1V1219h1V1219h1V1219h1V1219h1V1219h1V1219h1V1218h1V1218h1V1218h1V1219h1V1216h1V1218h1V1219h1V1219h1V1217h1V1219h1V1218h1V1219h1V1219h1V1219h1V1216h1V1218h1V1219h1V1218h1V1218h1V1218h1V1218h1V1218h1V1218h1V1218h1V1218h1V1218h1V1218h1V1218h1V1218h1V1218h1V1218h1V1217h1V1217h1V1217h1V1218h1V1218h1V1217h1V1218h1V1218h1V1218h1V1217h1V1217h1V1218h1V1216h1V1217h1V1218h1V1218h1V1217h1V1217h1V1216h1V1217h1V1217h1V1217h1V1217h1V1217h1V1217h1V1217h1V1217h1V1217h1V1217h1V1216h1V1217h1V1216h1V1217h1V1216h1V1217h1V1217h1V1217h1V1216h1V1217h1V1217h1V1217h1V1217h1V1217h1V1217h1V1215h1V1216h1V1216h1V1216h1V1215h1V1217h1V1216h1V1216h1V1216h1V1215h1V1216h1V1215h1V1216h1V1215h1V1216h1V1216h1V1216h1V1215h1V1216h1V1215h1V1215h1V1216h1V1216h1V1216h1V1216h1V1215h1V1215h1V1213h1V1215h1V1215h1V1213h1V1215h1V1215h1V1215h1V1215h1V1215h1V1215h1V1214h1V1213h1V1215h1V1214h1V1215h1V1214h1V1214h1V1214h1V1214h1V1214h1V1214h1V1214h1V1214h1V1214h1V1212h1V1214h1V1213h1V1214h1V1213h1V1214h1V1214h1V1213h1V1212h1V1214h1V1212h1V1213h1V1212h1V1213h1V1213h1V1213h1V1213h1V1213h1V1212h1V1212h1V1213h1V1212h1V1212h1V1212h1V1212h1V1213h1V1212h1V1212h1V1211h1V1212h1V1210h1V1212h1V1211h1V1212h1V1212h1V1211h1V1211h1V1211h1V1212h1V1211h1V1211h1V1212h1V1212h1V1211h1V1209h1V1209h1V1211h1V1211h1V1211h1V1211h1V1209h1V1210h1V1210h1V1211h1V1211h1V1210h1V1211h1V1210h1V1209h1V1210h1V1208h1V1209h1V1210h1V1209h1V1210h1V1210h1V1209h1V1210h1V1209h1V1209h1V1210h1V1209h1V1209h1V1209h1V1209h1V1208h1V1208h1V1209h1V1209h1V1209h1V1209h1V1209h1V1208h1V1208h1V1209h1V1208h1V1209h1V1207h1V1208h1V1207h1V1208h1V1208h1V1207h1V1208h1V1206h1V1207h1V1208h1V1206h1V1207h1V1207h1V1206h1V1206h1V1208h1V1207h1V1206h1V1207h1V1206h1V1207h1V1207h1V1205h1V1207h1V1207h1V1207h1V1206h1V1207h1V1207h1V1206h1V1206h1V1205h1V1206h1V1205h1V1205h1V1206h1V1206h1V1205h1V1206h1V1204h1V1206h1V1205h1V1206h1V1205h1V1205h1V1205h1V1205h1V1202h1V1206h1V1205h1V1205h1V1205h1V1205h1V1205h1V1205h1V1205h1V1205h1V1205h1V1205h1V1204h1V1205h1V1204h1V1204h1V1205h1V1204h1V1204h1V1204h1V1204h1V1204h1V1204h1V1204h1V1202h1V1204h1V1204h1V1204h1V1202h1V1202h1V1204h1V1203h1V1204h1V1203h1V1204h1V1203h1V1204h1V1203h1V1202h1V1203h1V1203h1V1203h1V1201h1V1203h1V1202h1V1203h1V1203h1V1203h1V1203h1V1203h1V1202h1V1203h1V1203h1V1203h1V1202h1V1203h1V1202h1V1200h1V1202h1V1203h1V1202h1V1199h1V1200h1V1200h1V1202h1V1202h1V1202h1V1200h1V1201h1V1202h1V1201h1V1202h1V1201h1V1202h1V1201h1V1201h1V1202h1V1201h1V1201h1V1201h1V1202h1V1202h1V1201h1V1207h-1V1207h-1V1207h-1V1208h-1V1208h-1V1208h-1V1208h-1V1208h-1V1208h-1V1208h-1V1208h-1V1208h-1V1208h-1V1208h-1V1209h-1V1209h-1V1208h-1V1208h-1V1208h-1V1209h-1V1209h-1V1210h-1V1209h-1V1208h-1V1209h-1V1209h-1V1208h-1V1209h-1V1209h-1V1208h-1V1209h-1V1208h-1V1210h-1V1210h-1V1209h-1V1209h-1V1210h-1V1210h-1V1209h-1V1209h-1V1212h-1V1209h-1V1210h-1V1209h-1V1211h-1V1210h-1V1210h-1V1210h-1V1209h-1V1212h-1V1211h-1V1211h-1V1210h-1V1210h-1V1210h-1V1211h-1V1213h-1V1211h-1V1211h-1V1211h-1V1211h-1V1210h-1V1210h-1V1211h-1V1210h-1V1211h-1V1211h-1V1210h-1V1210h-1V1210h-1V1213h-1V1211h-1V1212h-1V1211h-1V1211h-1V1211h-1V1211h-1V1212h-1V1211h-1V1213h-1V1212h-1V1211h-1V1212h-1V1211h-1V1211h-1V1212h-1V1213h-1V1215h-1V1211h-1V1212h-1V1212h-1V1213h-1V1212h-1V1213h-1V1212h-1V1212h-1V1213h-1V1213h-1V1215h-1V1213h-1V1212h-1V1212h-1V1213h-1V1214h-1V1213h-1V1213h-1V1213h-1V1213h-1V1213h-1V1213h-1V1213h-1V1213h-1V1213h-1V1213h-1V1214h-1V1214h-1V1214h-1V1213h-1V1214h-1V1213h-1V1215h-1V1214h-1V1214h-1V1214h-1V1214h-1V1215h-1V1214h-1V1215h-1V1214h-1V1215h-1V1214h-1V1215h-1V1217h-1V1214h-1V1214h-1V1215h-1V1215h-1V1215h-1V1215h-1V1215h-1V1215h-1V1216h-1V1215h-1V1215h-1V1215h-1V1216h-1V1216h-1V1216h-1V1216h-1V1216h-1V1219h-1V1216h-1V1216h-1V1216h-1V1216h-1V1216h-1V1217h-1V1217h-1V1217h-1V1217h-1V1217h-1V1217h-1V1217h-1V1217h-1V1216h-1V1218h-1V1218h-1V1218h-1V1217h-1V1217h-1V1217h-1V1218h-1V1217h-1V1218h-1V1218h-1V1218h-1V1219h-1V1217h-1V1217h-1V1218h-1V1218h-1V1218h-1V1219h-1V1218h-1V1218h-1V1218h-1V1218h-1V1219h-1V1218h-1V1218h-1V1220h-1V1218h-1V1218h-1V1219h-1V1221h-1V1219h-1V1220h-1V1219h-1V1221h-1V1219h-1V1219h-1V1219h-1V1219h-1V1220h-1V1219h-1V1219h-1V1220h-1V1219h-1V1219h-1V1220h-1V1219h-1V1220h-1V1221h-1V1220h-1V1221h-1V1221h-1V1220h-1V1221h-1V1220h-1V1221h-1V1220h-1V1220h-1V1220h-1V1221h-1V1221h-1V1221h-1V1221h-1V1221h-1V1220h-1V1221h-1V1221h-1V1221h-1V1221h-1V1223h-1V1221h-1V1222h-1V1221h-1V1221h-1V1224h-1V1222h-1V1221h-1V1222h-1V1224h-1V1221h-1V1224h-1V1223h-1V1222h-1V1222h-1V1222h-1V1223h-1V1222h-1V1222h-1V1222h-1V1222h-1V1222h-1V1223h-1V1224h-1V1222h-1V1222h-1V1222h-1V1222h-1V1223h-1V1223h-1V1222h-1V1223h-1V1222h-1V1223h-1V1222h-1V1222h-1V1223h-1V1223h-1V1225h-1V1223h-1V1223h-1V1223h-1V1223h-1V1223h-1V1223h-1V1223h-1V1226h-1V1223h-1V1223h-1V1223h-1V1224h-1V1224h-1V1223h-1V1223h-1V1223h-1V1223h-1V1223h-1V1223h-1V1223h-1V1224h-1V1224h-1V1224h-1V1224h-1V1225h-1V1224h-1V1225h-1V1223h-1V1227h-1V1224h-1V1224h-1V1223h-1V1224h-1V1224h-1V1224h-1V1224h-1V1224h-1V1224h-1V1224h-1V1224h-1V1226h-1V1224h-1V1224h-1V1224h-1V1224h-1V1224h-1V1224h-1V1224h-1V1224h-1V1224h-1V1226h-1V1224h-1V1224h-1V1225h-1V1225h-1V1225h-1V1225h-1V1228h-1V1225h-1V1225h-1V1226h-1V1225h-1V1225h-1V1228h-1V1225h-1V1225h-1V1225h-1V1227h-1V1225h-1V1225h-1V1225h-1V1225h-1V1226h-1V1226h-1V1225h-1V1227h-1V1225h-1V1225h-1V1226h-1V1225h-1V1225h-1V1226h-1V1226h-1V1227h-1V1225h-1V1226h-1V1226h-1V1225h-1V1226h-1V1226h-1V1226h-1V1226h-1V1227h-1V1226h-1V1226h-1V1227h-1V1226h-1V1226h-1V1226h-1V1227h-1V1227h-1V1226h-1V1227h-1V1228h-1V1227h-1V1228h-1V1226h-1V1227h-1V1226h-1V1226h-1V1227h-1V1227h-1V1227h-1V1227h-1V1227h-1V1227h-1V1230h-1V1227h-1V1228h-1V1227h-1V1227h-1V1228h-1V1229h-1V1228h-1V1229h-1V1230h-1V1227h-1V1228h-1V1228h-1V1228h-1V1228h-1V1229h-1V1228h-1V1228h-1V1231h-1V1230h-1V1228h-1V1229h-1V1229h-1V1228h-1V1228h-1V1229h-1V1229h-1V1230h-1V1229h-1V1229h-1V1230h-1V1231h-1V1230h-1V1230h-1V1230h-1V1230h-1V1230h-1V1230h-1V1230h-1V1230h-1V1230h-1V1230h-1V1232h-1V1230h-1V1232h-1V1230h-1V1230h-1V1230h-1V1231h-1V1230h-1V1230h-1V1231h-1V1230h-1V1231h-1V1230h-1V1231h-1V1230h-1V1231h-1V1231h-1V1231h-1V1231h-1V1230h-1V1231h-1V1231h-1V1231h-1V1231h-1V1232h-1V1231h-1V1232h-1V1231h-1V1231h-1V1234h-1V1231h-1V1231h-1V1231h-1V1231h-1V1231h-1V1232h-1V1231h-1V1231h-1V1231h-1V1231h-1V1231h-1V1233h-1V1231h-1V1233h-1V1232h-1V1232h-1V1231h-1V1231h-1V1232h-1V1233h-1V1232h-1V1233h-1V1232h-1V1232h-1V1232h-1V1232h-1V1234h-1V1232h-1V1232h-1V1232h-1V1232h-1V1232h-1V1233h-1V1232h-1V1232h-1V1235h-1V1232h-1V1233h-1V1233h-1V1233h-1V1234h-1V1233h-1V1233h-1V1232h-1V1232h-1V1232h-1V1232h-1V1234h-1V1232h-1V1232h-1V1233h-1V1232h-1V1232h-1V1232h-1V1232h-1V1232h-1V1232h-1V1233h-1V1232h-1V1233h-1V1232h-1V1234h-1V1232h-1V1232h-1V1233h-1V1233h-1V1234h-1V1233h-1V1232h-1V1232h-1V1232h-1V1232h-1V1232h-1V1232h-1V1232h-1V1233h-1V1232h-1V1233h-1V1233h-1V1232h-1V1234h-1V1232h-1V1232h-1V1232h-1V1234h-1V1232h-1V1232h-1V1232h-1V1232h-1V1232h-1V1232h-1V1232h-1V1232h-1V1232h-1V1233h-1V1232h-1V1232h-1V1232h-1V1232h-1V1232h-1V1232h-1V1233h-1V1232h-1V1232h-1V1232h-1V1234h-1V1232h-1V1232h-1V1232h-1V1232h-1V1233h-1V1232h-1V1232h-1V1234h-1V1232h-1V1232h-1V1232h-1V1235h-1V1233h-1V1233h-1V1233h-1V1233h-1V1232h-1V1232h-1V1233h-1V1234h-1V1232h-1V1233h-1V1233h-1V1232h-1V1232h-1V1232h-1V1232h-1V1232h-1V1231h-1V1232h-1V1232h-1V1232h-1V1232h-1V1235h-1V1231h-1V1232h-1V1233h-1V1231h-1V1232h-1V1233h-1V1232h-1V1233h-1V1231h-1V1231h-1V1232h-1V1231h-1V1233h-1V1231h-1V1232h-1V1231h-1V1231h-1V1232h-1V1231h-1V1232h-1V1231h-1V1231h-1V1231h-1V1232h-1V1231h-1V1230h-1V1231h-1V1231h-1V1232h-1V1231h-1V1231h-1V1230h-1V1230h-1V1233h-1V1230h-1V1230h-1V1230h-1V1231h-1V1231h-1V1231h-1V1230h-1V1231h-1V1232h-1V1230h-1V1231h-1V1230h-1V1230h-1V1231h-1V1230h-1V1230h-1V1229h-1V1229h-1V1229h-1V1230h-1V1230h-1V1230h-1V1230h-1V1232h-1V1229h-1V1229h-1V1230h-1V1229h-1V1229h-1V1230h-1V1229h-1V1229h-1V1229h-1V1229h-1V1229h-1V1229h-1V1229h-1V1228h-1V1229h-1V1229h-1V1229h-1V1229h-1V1228h-1V1229h-1V1228h-1V1229h-1V1229h-1V1229h-1V1229h-1V1228h-1V1228h-1V1228h-1V1228h-1V1228h-1V1228h-1V1228h-1V1228h-1V1227h-1V1228h-1V1229h-1V1227h-1V1228h-1V1228h-1V1227h-1V1227h-1V1229h-1V1226h-1V1227h-1V1227h-1V1227h-1V1226h-1V1227h-1V1226h-1V1226h-1V1226h-1V1226h-1V1227h-1V1226h-1V1227h-1V1226h-1V1226h-1V1227h-1V1226h-1V1226h-1V1226h-1V1226h-1V1225h-1V1226h-1V1226h-1V1225h-1V1227h-1V1226h-1V1226h-1V1226h-1V1225h-1V1225h-1V1225h-1V1226h-1V1225h-1V1228h-1V1225h-1V1225h-1V1225h-1V1224h-1V1226h-1V1226h-1V1224h-1V1225h-1V1225h-1V1224h-1V1224h-1V1224h-1V1224h-1V1224h-1V1224h-1V1224h-1V1224h-1V1224h-1V1224h-1V1224h-1V1226h-1V1224h-1V1223h-1V1225h-1V1223h-1V1224h-1V1224h-1V1224h-1V1223h-1V1224h-1V1224h-1V1223h-1V1223h-1V1223h-1V1224h-1V1222h-1V1223h-1V1223h-1V1223h-1V1223h-1V1224h-1V1222h-1V1222h-1V1222h-1V1222h-1V1222h-1V1223h-1V1222h-1V1223h-1V1222h-1V1222h-1V1222h-1V1221h-1V1222h-1V1221h-1V1224h-1V1221h-1V1222h-1V1221h-1V1221h-1V1221h-1V1224h-1V1221h-1V1222h-1V1222h-1V1221h-1V1223h-1V1221h-1V1221h-1V1221h-1V1221h-1V1221h-1V1220h-1V1220h-1V1223h-1V1221h-1V1220h-1V1220h-1V1221h-1V1221h-1V1223h-1V1220h-1V1220h-1V1220h-1V1223h-1V1220h-1V1220h-1V1221h-1V1220h-1V1220h-1V1220h-1V1220h-1V1220h-1V1220h-1V1220h-1V1219h-1V1219h-1V1222h-1V1219h-1V1219h-1V1221h-1V1220h-1V1219h-1V1220h-1V1220h-1V1219h-1V1219h-1V1219h-1V1218h-1V1221h-1V1220h-1V1219h-1V1219h-1V1219h-1V1218h-1V1218h-1V1219h-1V1218h-1V1218h-1V1218h-1V1218h-1V1219h-1V1219h-1V1218h-1V1218h-1V1218h-1V1218h-1V1217h-1V1218h-1V1217h-1V1217h-1V1218h-1V1219h-1V1217h-1V1218h-1V1217h-1V1217h-1V1219h-1V1217h-1V1217h-1V1217h-1V1216h-1V1216h-1V1217h-1V1218h-1V1217h-1V1216h-1V1216h-1V1216h-1V1217h-1V1217h-1V1217h-1V1216h-1V1218h-1V1217h-1V1217h-1V1216h-1V1217h-1V1216h-1V1216h-1V1216h-1V1216h-1V1216h-1V1216h-1V1216h-1V1215h-1V1215h-1V1216h-1V1215h-1V1216h-1V1215h-1V1215h-1V1215h-1V1216h-1V1216h-1V1216h-1V1218h-1V1215h-1V1216h-1V1215h-1V1215h-1V1215h-1V1217h-1V1215h-1V1215h-1V1215h-1V1215h-1V1215h-1V1215h-1V1215h-1V1216h-1V1214h-1V1214h-1V1216h-1V1215h-1V1214h-1V1215h-1V1214h-1V1214h-1V1214h-1V1214h-1V1214h-1V1215h-1V1214h-1V1216h-1V1214h-1V1215h-1V1215h-1V1217h-1V1215h-1V1215h-1V1215h-1V1215h-1V1214h-1V1215h-1V1214h-1V1215h-1V1215h-1V1217h-1V1214h-1V1215h-1V1214h-1V1215h-1V1216h-1V1215h-1V1215h-1V1215h-1V1215h-1V1215h-1V1215h-1V1216h-1V1216h-1V1216h-1V1215h-1V1217h-1V1215h-1V1216h-1V1215h-1V1216h-1V1215h-1V1217h-1V1217h-1V1216h-1V1215h-1V1216h-1V1216h-1V1216h-1V1216h-1V1216h-1V1217h-1V1216h-1V1216h-1V1216h-1V1216h-1V1217h-1Z" fill="#ffff00" shape-rendering="crispEdges"/></g>
<path d="M165.5 1387.5H1154.5" stroke="#262626" stroke-opacity="0.15" stroke-width="1" fill="none"/>
<path d="M412.5 1306.5V1469.5M660.5 1306.5V1469.5M907.5 1306.5V1469.5" stroke="#262626" stroke-opacity="0.15" stroke-width="1" fill="none"/>
<path d="M165.5 1306.5H1154.5V1469.5H165.5ZM165.5 1387.5h10M1154.5 1387.5h-10M412.5 1306.5v10M412.5 1469.5v-10M660.5 1306.5v10M660.5 1469.5v-10M907.5 1306.5v10M907.5 1469.5v-10" stroke="#262626" stroke-width="1" fill="none"/>
<g><path d="M165.5 1427.1H1154" stroke="#4a4aff" stroke-width="1.4" fill="none"/><path d="M314 1426.5h4V1431.5h-4ZM323 1426.5h2V1431.5h-2ZM327 1426.5h3V1431.5h-3ZM331 1426.5h1V1431.5h-1ZM336 1426.5h1V1431.5h-1ZM338 1426.5h1V1431.5h-1ZM341 1426.5h1V1431.5h-1ZM348 1426.5h2V1431.5h-2ZM351 1426.5h1V1431.5h-1ZM353 1426.5h1V1431.5h-1ZM355 1426.5h2V1431.5h-2ZM359 1426.5h1V1431.5h-1ZM361 1426.5h1V1431.5h-1ZM365 1426.5h2V1431.5h-2ZM369 1426.5h2V1431.5h-2ZM375 1426.5h3V1431.5h-3ZM387 1426.5h1V1431.5h-1ZM390 1426.5h2V1431.5h-2ZM393 1426.5h5V1431.5h-5ZM400 1426.5h5V1431.5h-5ZM408 1426.5h2V1431.5h-2ZM411 1426.5h9V1431.5h-9ZM421 1426.5h13V1431.5h-13ZM435 1426.5h37V1431.5h-37ZM474 1426.5h19V1431.5h-19ZM494 1426.5h1V1431.5h-1ZM497 1426.5h1V1431.5h-1ZM500 1426.5h1V1431.5h-1ZM506 1426.5h1V1431.5h-1ZM509 1426.5h1V1431.5h-1ZM526 1426.5h2V1431.5h-2ZM529 1426.5h1V1431.5h-1ZM536 1426.5h1V1431.5h-1ZM552 1426.5h1V1431.5h-1ZM572 1426.5h1V1431.5h-1ZM575 1426.5h9V1431.5h-9ZM585 1426.5h11V1431.5h-11ZM597 1426.5h4V1431.5h-4ZM603 1426.5h21V1431.5h-21ZM625 1426.5h17V1431.5h-17ZM643 1426.5h4V1431.5h-4ZM649 1426.5h3V1431.5h-3ZM654 1426.5h6V1431.5h-6ZM663 1426.5h3V1431.5h-3ZM670 1426.5h23V1431.5h-23ZM694 1426.5h5V1431.5h-5ZM700 1426.5h5V1431.5h-5ZM706 1426.5h31V1431.5h-31ZM738 1426.5h1V1431.5h-1ZM740 1426.5h19V1431.5h-19ZM760 1426.5h17V1431.5h-17ZM778 1426.5h3V1431.5h-3ZM782 1426.5h2V1431.5h-2ZM785 1426.5h5V1431.5h-5ZM791 1426.5h4V1431.5h-4ZM796 1426.5h19V1431.5h-19ZM816 1426.5h2V1431.5h-2ZM819 1426.5h3V1431.5h-3ZM824 1426.5h1V1431.5h-1ZM826 1426.5h10V1431.5h-10ZM837 1426.5h3V1431.5h-3ZM841 1426.5h31V1431.5h-31ZM873 1426.5h9V1431.5h-9ZM883 1426.5h1V1431.5h-1ZM886 1426.5h4V1431.5h-4ZM897 1426.5h3V1431.5h-3ZM902 1426.5h2V1431.5h-2ZM905 1426.5h1V1431.5h-1ZM909 1426.5h4V1431.5h-4ZM915 1426.5h1V1431.5h-1ZM919 1426.5h6V1431.5h-6ZM926 1426.5h1V1431.5h-1ZM928 1426.5h6V1431.5h-6ZM935 1426.5h6V1431.5h-6ZM943 1426.5h4V1431.5h-4ZM950 1426.5h2V1431.5h-2ZM953 1426.5h28V1431.5h-28ZM982 1426.5h15V1431.5h-15ZM998 1426.5h31V1431.5h-31ZM1032 1426.5h19V1431.5h-19ZM1053 1426.5h1V1431.5h-1ZM1055 1426.5h1V1431.5h-1ZM1057 1426.5h17V1431.5h-17ZM1075 1426.5h3V1431.5h-3ZM1079 1426.5h2V1431.5h-2ZM1082 1426.5h4V1431.5h-4ZM1087 1426.5h35V1431.5h-35ZM1125 1426.5h13V1431.5h-13ZM1139 1426.5h1V1431.5h-1ZM1141 1426.5h3V1431.5h-3ZM1145 1426.5h6V1431.5h-6ZM1152 1426.5h2V1431.5h-2Z" fill="#0000ff" shape-rendering="crispEdges"/><path d="M165.5 1383.6H1154" stroke="#00ffff" stroke-width="2" fill="none" shape-rendering="crispEdges"/><path d="M165 1383h1V1383h1V1383h1V1383h1V1383h1V1383h1V1383h1V1383h1V1383h1V1383h1V1383h1V1383h1V1383h1V1383h1V1383h1V1383h1V1383h1V1383h1V1383h1V1383h1V1383h1V1383h1V1383h1V1383h1V1383h1V1383h1V1383h1V1383h1V1383h1V1383h1V1383h1V1383h1V1383h1V1383h1V1383h1V1383h1V1383h1V1383h1V1383h1V1383h1V1383h1V1383h1V1383h1V1383h1V1383h1V1383h1V1383h1V1383h1V1383h1V1383h1V1383h1V1383h1V1383h1V1383h1V1383h1V1383h1V1383h1V1383h1V1383h1V1383h1V1383h1V1383h1V1383h1V1383h1V1383h1V1383h1V1383h1V1383h1V1383h1V1383h1V1383h1V1383h1V1383h1V1383h1V1383h1V1383h1V1383h1V1383h1V1383h1V1383h1V1383h1V1383h1V1383h1V1383h1V1383h1V1383h1V1383h1V1383h1V1383h1V1383h1V1383h1V1383h1V1383h1V1383h1V1383h1V1383h1V1383h1V1383h1V1383h1V1383h1V1383h1V1383h1V1383h1V1383h1V1383h1V1383h1V1383h1V1383h1V1383h1V1383h1V1383h1V1383h1V1383h1V1383h1V1383h1V1383h1V1383h1V1383h1V1383h1V1383h1V1383h1V1383h1V1383h1V1383h1V1383h1V1383h1V1383h1V1383h1V1383h1V1383h1V1383h1V1383h1V1383h1V1383h1V1383h1V1383h1V1383h1V1383h1V1383h1V1383h1V1383h1V1383h1V1383h1V1383h1V1383h1V1383h1V1383h1V1383h1V1383h1V1383h1V1383h1V1383h1V1383h1V1383h1V1383h1V1383h1V1383h1V1383h1V1383h1V1383h1V1383h1V1383h1V1383h1V1383h1V1383h1V1383h1V1383h1V1383h1V1383h1V1383h1V1383h1V1383h1V1383h1V1383h1V1383h1V1383h1V1383h1V1383h1V1383h1V1383h1V1383h1V1383h1V1383h1V1383h1V1383h1V1383h1V1383h1V1383h1V1383h1V1383h1V1383h1V1383h1V1383h1V1383h1V1383h1V1383h1V1383h1V1383h1V1383h1V1383h1V1383h1V1383h1V1383h1V1383h1V1383h1V1383h1V1383h1V1383h1V1383h1V1383h1V1383h1V1383h1V1383h1V1383h1V1383h1V1383h1V1383h1V1383h1V1383h1V1383h1V1383h1V1383h1V1383h1V1383h1V1383h1V1383h1V1383h1V1383h1V1383h1V1383h1V1383h1V1383h1V1383h1V1383h1V1383h1V1383h1V1383h1V1383h1V1383h1V1383h1V1383h1V1383h1V1383h1V1383h1V1383h1V1383h1V1383h1V1383h1V1383h1V1383h1V1383h1V1383h1V1383h1V1383h1V1383h1V1383h1V1383h1V1383h1V1383h1V1383h1V1383h1V1383h1V1383h1V1383h1V1383h1V1383h1V1383h1V1383h1V1383h1V1383h1V1383h1V1383h1V1383h1V1383h1V1383h1V1383h1V1383h1V1383h1V1383h1V1383h1V1383h1V1383h1V1383h1V1383h1V1383h1V1383h1V1383h1V1383h1V1383h1V1383h1V1383h1V1383h1V1383h1V1383h1V1383h1V1383h1V1383h1V1383h1V1383h1V1383h1V1383h1V1383h1V1383h1V1383h1V1383h1V1383h1V1383h1V1383h1V1383h1V1383h1V1383h1V1383h1V1383h1V1383h1V1383h1V1383h1V1383h1V1383h1V1383h1V1383h1V1383h1V1383h1V1383h1V1383h1V1383h1V1383h1V1383h1V1383h1V1383h1V1383h1V1383h1V1383h1V1383h1V1383h1V1383h1V1383h1V1383h1V1383h1V1383h1V1383h1V1383h1V1383h1V1383h1V1383h1V1383h1V1383h1V1383h1V1383h1V1383h1V1383h1V1383h1V1383h1V1383h1V1383h1V1383h1V1383h1V1383h1V1383h1V1383h1V1383h1V1383h1V1383h1V1383h1V1383h1V1383h1V1383h1V1383h1V1383h1V1383h1V1383h1V1383h1V1383h1V1383h1V1383h1V1383h1V1383h1V1383h1V1383h1V1383h1V1383h1V1383h1V1383h1V1383h1V1383h1V1383h1V1383h1V1383h1V1383h1V1383h1V1383h1V1383h1V1383h1V1383h1V1383h1V1383h1V1383h1V1383h1V1383h1V1383h1V1383h1V1383h1V1383h1V1383h1V1383h1V1383h1V1383h1V1383h1V1383h1V1383h1V1383h1V1383h1V1383h1V1383h1V1383h1V1383h1V1383h1V1383h1V1383h1V1383h1V1383h1V1383h1V1383h1V1383h1V1383h1V1383h1V1383h1V1383h1V1383h1V1383h1V1383h1V1383h1V1383h1V1383h1V1383h1V1383h1V1383h1V1383h1V1383h1V1383h1V1383h1V1383h1V1383h1V1383h1V1383h1V1383h1V1383h1V1383h1V1383h1V1383h1V1383h1V1383h1V1383h1V1383h1V1383h1V1383h1V1383h1V1383h1V1383h1V1383h1V1383h1V1383h1V1383h1V1383h1V1383h1V1383h1V1383h1V1383h1V1383h1V1383h1V1383h1V1383h1V1383h1V1383h1V1383h1V1383h1V1383h1V1383h1V1383h1V1383h1V1383h1V1383h1V1383h1V1383h1V1383h1V1383h1V1383h1V1383h1V1383h1V1383h1V1383h1V1383h1V1383h1V1383h1V1383h1V1383h1V1383h1V1383h1V1383h1V1383h1V1383h1V1383h1V1383h1V1383h1V1383h1V1383h1V1383h1V1383h1V1383h1V1383h1V1383h1V1383h1V1383h1V1383h1V1383h1V1383h1V1383h1V1383h1V1383h1V1383h1V1383h1V1383h1V1383h1V1383h1V1383h1V1383h1V1383h1V1383h1V1383h1V1383h1V1383h1V1383h1V1383h1V1383h1V1383h1V1383h1V1383h1V1383h1V1383h1V1383h1V1383h1V1383h1V1383h1V1383h1V1383h1V1383h1V1383h1V1383h1V1383h1V1383h1V1383h1V1383h1V1383h1V1383h1V1383h1V1383h1V1383h1V1383h1V1383h1V1383h1V1383h1V1383h1V1383h1V1383h1V1383h1V1383h1V1383h1V1383h1V1383h1V1383h1V1383h1V1383h1V1383h1V1383h1V1383h1V1383h1V1383h1V1383h1V1383h1V1383h1V1383h1V1383h1V1383h1V1383h1V1383h1V1383h1V1383h1V1383h1V1383h1V1383h1V1383h1V1383h1V1383h1V1383h1V1383h1V1383h1V1383h1V1383h1V1383h1V1383h1V1383h1V1383h1V1383h1V1383h1V1383h1V1383h1V1383h1V1383h1V1383h1V1383h1V1383h1V1383h1V1383h1V1383h1V1383h1V1383h1V1383h1V1383h1V1383h1V1383h1V1383h1V1383h1V1383h1V1383h1V1383h1V1383h1V1383h1V1383h1V1383h1V1383h1V1383h1V1383h1V1383h1V1383h1V1383h1V1383h1V1383h1V1383h1V1383h1V1383h1V1383h1V1383h1V1383h1V1383h1V1383h1V1383h1V1383h1V1383h1V1383h1V1383h1V1383h1V1383h1V1383h1V1383h1V1383h1V1383h1V1383h1V1383h1V1383h1V1383h1V1383h1V1383h1V1383h1V1383h1V1383h1V1383h1V1383h1V1383h1V1383h1V1383h1V1383h1V1383h1V1383h1V1383h1V1383h1V1383h1V1383h1V1383h1V1383h1V1383h1V1383h1V1383h1V1383h1V1383h1V1383h1V1383h1V1383h1V1383h1V1383h1V1383h1V1383h1V1383h1V1383h1V1383h1V1383h1V1383h1V1383h1V1383h1V1383h1V1383h1V1383h1V1383h1V1383h1V1383h1V1383h1V1383h1V1383h1V1383h1V1383h1V1383h1V1383h1V1383h1V1383h1V1383h1V1383h1V1383h1V1383h1V1383h1V1383h1V1383h1V1383h1V1383h1V1383h1V1383h1V1383h1V1383h1V1383h1V1383h1V1383h1V1383h1V1383h1V1383h1V1383h1V1383h1V1383h1V1383h1V1383h1V1383h1V1383h1V1383h1V1383h1V1383h1V1383h1V1383h1V1383h1V1383h1V1383h1V1383h1V1383h1V1383h1V1383h1V1383h1V1383h1V1383h1V1383h1V1383h1V1383h1V1383h1V1383h1V1383h1V1383h1V1383h1V1383h1V1383h1V1383h1V1383h1V1383h1V1383h1V1383h1V1383h1V1383h1V1383h1V1383h1V1383h1V1383h1V1383h1V1383h1V1383h1V1383h1V1383h1V1383h1V1383h1V1383h1V1383h1V1383h1V1383h1V1383h1V1383h1V1383h1V1383h1V1383h1V1383h1V1383h1V1383h1V1383h1V1383h1V1383h1V1383h1V1383h1V1383h1V1383h1V1383h1V1383h1V1383h1V1383h1V1383h1V1383h1V1383h1V1383h1V1383h1V1383h1V1383h1V1383h1V1383h1V1383h1V1383h1V1383h1V1383h1V1383h1V1383h1V1383h1V1383h1V1383h1V1383h1V1383h1V1383h1V1383h1V1383h1V1383h1V1383h1V1383h1V1383h1V1383h1V1383h1V1383h1V1383h1V1383h1V1383h1V1383h1V1383h1V1383h1V1383h1V1383h1V1383h1V1383h1V1383h1V1383h1V1383h1V1383h1V1383h1V1383h1V1383h1V1383h1V1383h1V1383h1V1383h1V1383h1V1383h1V1383h1V1383h1V1383h1V1383h1V1383h1V1383h1V1383h1V1383h1V1383h1V1383h1V1383h1V1383h1V1383h1V1383h1V1383h1V1383h1V1383h1V1383h1V1383h1V1383h1V1383h1V1383h1V1383h1V1383h1V1383h1V1383h1V1383h1V1383h1V1383h1V1383h1V1383h1V1383h1V1383h1V1383h1V1383h1V1383h1V1383h1V1383h1V1383h1V1383h1V1383h1V1383h1V1383h1V1383h1V1383h1V1383h1V1383h1V1383h1V1383h1V1383h1V1383h1V1383h1V1383h1V1383h1V1383h1V1383h1V1383h1V1383h1V1383h1V1383h1V1383h1V1383h1V1383h1V1383h1V1383h1V1383h1V1383h1V1383h1V1383h1V1383h1V1383h1V1383h1V1383h1V1383h1V1383h1V1383h1V1383h1V1383h1V1383h1V1383h1V1383h1V1383h1V1383h1V1383h1V1383h1V1383h1V1383h1V1383h1V1383h1V1383h1V1383h1V1383h1V1383h1V1383h1V1383h1V1383h1V1383h1V1383h1V1383h1V1383h1V1383h1V1383h1V1383h1V1383h1V1383h1V1383h1V1383h1V1383h1V1383h1V1383h1V1383h1V1383h1V1383h1V1383h1V1383h1V1383h1V1383h1V1383h1V1383h1V1383h1V1383h1V1383h1V1383h1V1383h1V1383h1V1383h1V1383h1V1383h1V1383h1V1383h1V1383h1V1383h1V1384h-1V1384h-1V1384h-1V1384h-1V1384h-1V1384h-1V1384h-1V1384h-1V1384h-1V1384h-1V1384h-1V1384h-1V1384h-1V1384h-1V1384h-1V1384h-1V1384h-1V1384h-1V1384h-1V1384h-1V1384h-1V1384h-1V1384h-1V1384h-1V1384h-1V1384h-1V1384h-1V1384h-1V1384h-1V1384h-1V1384h-1V1384h-1V1384h-1V1384h-1V1391h-1V1384h-1V1384h-1V1384h-1V1384h-1V1384h-1V1384h-1V1384h-1V1384h-1V1384h-1V1384h-1V1384h-1V1384h-1V1384h-1V1384h-1V1384h-1V1384h-1V1384h-1V1384h-1V1384h-1V1384h-1V1384h-1V1384h-1V1384h-1V1384h-1V1384h-1V1384h-1V1384h-1V1384h-1V1384h-1V1384h-1V1384h-1V1384h-1V1384h-1V1384h-1V1384h-1V1384h-1V1384h-1V1384h-1V1384h-1V1384h-1V1384h-1V1384h-1V1384h-1V1384h-1V1384h-1V1384h-1V1384h-1V1384h-1V1384h-1V1384h-1V1384h-1V1384h-1V1384h-1V1384h-1V1384h-1V1384h-1V1384h-1V1384h-1V1384h-1V1384h-1V1384h-1V1384h-1V1384h-1V1384h-1V1384h-1V1384h-1V1384h-1V1384h-1V1384h-1V1384h-1V1384h-1V1384h-1V1384h-1V1384h-1V1384h-1V1384h-1V1384h-1V1384h-1V1384h-1V1384h-1V1384h-1V1384h-1V1384h-1V1384h-1V1384h-1V1384h-1V1384h-1V1384h-1V1384h-1V1384h-1V1384h-1V1384h-1V1384h-1V1384h-1V1384h-1V1384h-1V1384h-1V1384h-1V1384h-1V1384h-1V1384h-1V1384h-1V1384h-1V1384h-1V1384h-1V1384h-1V1384h-1V1384h-1V1384h-1V1384h-1V1384h-1V1384h-1V1384h-1V1384h-1V1384h-1V1384h-1V1384h-1V1384h-1V1391h-1V1391h-1V1391h-1V1384h-1V1384h-1V1384h-1V1384h-1V1384h-1V1384h-1V1384h-1V1384h-1V1384h-1V1384h-1V1384h-1V1384h-1V1384h-1V1384h-1V1384h-1V1384h-1V1384h-1V1384h-1V1384h-1V1384h-1V1384h-1V1384h-1V1384h-1V1384h-1V1384h-1V1384h-1V1384h-1V1384h-1V1384h-1V1384h-1V1384h-1V1384h-1V1384h-1V1384h-1V1384h-1V1384h-1V1384h-1V1384h-1V1384h-1V1384h-1V1384h-1V1384h-1V1384h-1V1384h-1V1384h-1V1384h-1V1384h-1V1384h-1V1384h-1V1384h-1V1384h-1V1384h-1V1384h-1V1384h-1V1384h-1V1384h-1V1384h-1V1384h-1V1384h-1V1384h-1V1384h-1V1384h-1V1384h-1V1384h-1V1384h-1V1384h-1V1384h-1V1384h-1V1384h-1V1384h-1V1384h-1V1384h-1V1384h-1V1384h-1V1384h-1V1384h-1V1384h-1V1384h-1V1384h-1V1384h-1V1384h-1V1384h-1V1384h-1V1384h-1V1384h-1V1384h-1V1384h-1V1384h-1V1384h-1V1384h-1V1384h-1V1384h-1V1384h-1V1391h-1V1384h-1V1384h-1V1391h-1V1384h-1V1384h-1V1384h-1V1384h-1V1384h-1V1384h-1V1384h-1V1384h-1V1384h-1V1384h-1V1384h-1V1384h-1V1384h-1V1384h-1V1384h-1V1384h-1V1384h-1V1384h-1V1384h-1V1384h-1V1384h-1V1384h-1V1391h-1V1384h-1V1384h-1V1384h-1V1384h-1V1384h-1V1384h-1V1384h-1V1384h-1V1384h-1V1384h-1V1384h-1V1384h-1V1384h-1V1384h-1V1384h-1V1384h-1V1384h-1V1384h-1V1384h-1V1384h-1V1384h-1V1384h-1V1384h-1V1384h-1V1384h-1V1384h-1V1384h-1V1384h-1V1384h-1V1384h-1V1384h-1V1384h-1V1384h-1V1384h-1V1384h-1V1384h-1V1384h-1V1384h-1V1384h-1V1384h-1V1384h-1V1391h-1V1384h-1V1384h-1V1384h-1V1384h-1V1384h-1V1384h-1V1384h-1V1384h-1V1384h-1V1384h-1V1384h-1V1384h-1V1384h-1V1384h-1V1384h-1V1391h-1V1384h-1V1391h-1V1384h-1V1384h-1V1384h-1V1384h-1V1384h-1V1384h-1V1384h-1V1391h-1V1384h-1V1384h-1V1384h-1V1384h-1V1384h-1V1384h-1V1384h-1V1384h-1V1384h-1V1384h-1V1384h-1V1384h-1V1384h-1V1384h-1V1384h-1V1384h-1V1384h-1V1384h-1V1384h-1V1384h-1V1384h-1V1384h-1V1384h-1V1384h-1V1384h-1V1384h-1V1384h-1V1384h-1V1384h-1V1384h-1V1384h-1V1384h-1V1384h-1V1384h-1V1384h-1V1384h-1V1384h-1V1384h-1V1384h-1V1384h-1V1384h-1V1384h-1V1384h-1V1384h-1V1384h-1V1384h-1V1384h-1V1384h-1V1384h-1V1384h-1V1384h-1V1384h-1V1384h-1V1384h-1V1384h-1V1384h-1V1384h-1V1384h-1V1384h-1V1384h-1V1384h-1V1384h-1V1384h-1V1384h-1V1384h-1V1384h-1V1384h-1V1384h-1V1384h-1V1384h-1V1384h-1V1384h-1V1384h-1V1384h-1V1384h-1V1384h-1V1384h-1V1384h-1V1384h-1V1384h-1V1384h-1V1391h-1V1384h-1V1384h-1V1391h-1V1384h-1V1384h-1V1384h-1V1384h-1V1384h-1V1384h-1V1391h-1V1384h-1V1384h-1V1384h-1V1384h-1V1384h-1V1391h-1V1391h-1V1384h-1V1384h-1V1384h-1V1384h-1V1384h-1V1384h-1V1391h-1V1391h-1V1391h-1V1384h-1V1384h-1V1384h-1V1384h-1V1384h-1V1384h-1V1384h-1V1384h-1V1384h-1V1384h-1V1384h-1V1384h-1V1384h-1V1384h-1V1384h-1V1384h-1V1384h-1V1384h-1V1384h-1V1384h-1V1384h-1V1384h-1V1384h-1V1384h-1V1384h-1V1384h-1V1384h-1V1384h-1V1384h-1V1384h-1V1384h-1V1384h-1V1384h-1V1391h-1V1384h-1V1391h-1V1384h-1V1384h-1V1384h-1V1384h-1V1384h-1V1384h-1V1384h-1V1391h-1V1384h-1V1384h-1V1384h-1V1384h-1V1384h-1V1384h-1V1384h-1V1384h-1V1384h-1V1384h-1V1384h-1V1384h-1V1384h-1V1384h-1V1384h-1V1384h-1V1384h-1V1384h-1V1384h-1V1384h-1V1384h-1V1384h-1V1384h-1V1384h-1V1384h-1V1384h-1V1384h-1V1384h-1V1384h-1V1384h-1V1384h-1V1384h-1V1384h-1V1384h-1V1384h-1V1384h-1V1384h-1V1384h-1V1384h-1V1384h-1V1384h-1V1384h-1V1384h-1V1384h-1V1384h-1V1384h-1V1384h-1V1384h-1V1384h-1V1384h-1V1384h-1V1384h-1V1384h-1V1384h-1V1384h-1V1391h-1V1384h-1V1384h-1V1384h-1V1384h-1V1384h-1V1384h-1V1384h-1V1384h-1V1384h-1V1384h-1V1384h-1V1384h-1V1384h-1V1384h-1V1384h-1V1384h-1V1384h-1V1384h-1V1384h-1V1384h-1V1384h-1V1384h-1V1384h-1V1384h-1V1384h-1V1384h-1V1384h-1V1384h-1V1384h-1V1384h-1V1384h-1V1384h-1V1384h-1V1384h-1V1384h-1V1384h-1V1384h-1V1384h-1V1384h-1V1384h-1V1384h-1V1384h-1V1384h-1V1384h-1V1384h-1V1384h-1V1384h-1V1384h-1V1384h-1V1384h-1V1384h-1V1384h-1V1384h-1V1384h-1V1384h-1V1384h-1V1384h-1V1384h-1V1384h-1V1384h-1V1384h-1V1384h-1V1391h-1V1384h-1V1384h-1V1384h-1V1384h-1V1384h-1V1384h-1V1384h-1V1384h-1V1384h-1V1384h-1V1384h-1V1384h-1V1384h-1V1384h-1V1384h-1V1384h-1V1384h-1V1384h-1V1384h-1V1384h-1V1391h-1V1391h-1V1384h-1V1384h-1V1384h-1V1384h-1V1384h-1V1384h-1V1384h-1V1384h-1V1384h-1V1384h-1V1384h-1V1384h-1V1384h-1V1384h-1V1384h-1V1384h-1V1384h-1V1384h-1V1384h-1V1384h-1V1384h-1V1384h-1V1384h-1V1384h-1V1384h-1V1384h-1V1384h-1V1384h-1V1384h-1V1384h-1V1384h-1V1384h-1V1384h-1V1384h-1V1384h-1V1384h-1V1384h-1V1384h-1V1384h-1V1384h-1V1384h-1V1384h-1V1384h-1V1384h-1V1384h-1V1384h-1V1384h-1V1384h-1V1384h-1V1384h-1V1384h-1V1384h-1V1384h-1V1384h-1V1384h-1V1384h-1V1384h-1V1384h-1V1384h-1V1384h-1V1384h-1V1384h-1V1384h-1V1384h-1V1384h-1V1384h-1V1384h-1V1384h-1V1384h-1V1384h-1V1384h-1V1384h-1V1384h-1V1384h-1V1384h-1V1384h-1V1384h-1V1384h-1V1384h-1V1384h-1V1384h-1V1384h-1V1384h-1V1384h-1V1384h-1V1384h-1V1384h-1V1384h-1V1391h-1V1384h-1V1384h-1V1384h-1V1384h-1V1384h-1V1384h-1V1384h-1V1384h-1V1384h-1V1384h-1V1384h-1V1384h-1V1384h-1V1384h-1V1384h-1V1384h-1V1384h-1V1384h-1V1384h-1V1384h-1V1384h-1V1384h-1V1384h-1V1384h-1V1384h-1V1384h-1V1384h-1V1384h-1V1384h-1V1384h-1V1384h-1V1384h-1V1384h-1V1384h-1V1384h-1V1384h-1V1384h-1V1384h-1V1384h-1V1384h-1V1384h-1V1384h-1V1384h-1V1384h-1V1384h-1V1384h-1V1384h-1V1384h-1V1384h-1V1384h-1V1384h-1V1384h-1V1384h-1V1384h-1V1384h-1V1384h-1V1384h-1V1384h-1V1384h-1V1384h-1V1384h-1V1384h-1V1384h-1V1384h-1V1384h-1V1384h-1V1384h-1V1384h-1V1384h-1V1384h-1V1384h-1V1384h-1V1384h-1V1384h-1V1384h-1V1384h-1V1384h-1V1384h-1V1384h-1V1384h-1V1384h-1V1384h-1V1384h-1V1384h-1V1384h-1V1384h-1V1384h-1V1384h-1V1384h-1V1384h-1V1384h-1V1384h-1V1384h-1V1384h-1V1384h-1V1384h-1V1384h-1V1384h-1V1384h-1V1384h-1V1384h-1V1384h-1V1384h-1V1384h-1V1384h-1V1384h-1V1384h-1V1384h-1V1384h-1V1384h-1V1384h-1V1384h-1V1384h-1V1384h-1V1384h-1V1384h-1V1384h-1V1384h-1V1384h-1V1384h-1V1384h-1V1384h-1V1384h-1V1384h-1V1384h-1V1384h-1V1384h-1V1384h-1V1384h-1V1384h-1V1384h-1V1384h-1V1384h-1V1384h-1V1384h-1V1384h-1V1384h-1V1384h-1V1384h-1V1384h-1V1384h-1V1384h-1V1384h-1V1384h-1V1384h-1V1384h-1V1384h-1V1384h-1V1384h-1V1384h-1V1384h-1V1384h-1V1384h-1V1384h-1V1384h-1V1384h-1V1384h-1V1384h-1V1384h-1V1384h-1V1384h-1V1384h-1V1384h-1V1384h-1V1384h-1V1384h-1V1384h-1V1384h-1V1384h-1V1384h-1V1384h-1V1384h-1V1384h-1V1384h-1V1384h-1V1384h-1V1384h-1V1384h-1V1384h-1V1384h-1V1384h-1V1384h-1V1384h-1V1384h-1V1384h-1V1384h-1V1384h-1V1384h-1V1384h-1V1384h-1V1384h-1V1384h-1V1384h-1V1384h-1V1384h-1V1384h-1V1384h-1V1384h-1V1384h-1V1384h-1V1384h-1V1384h-1V1384h-1V1384h-1V1384h-1V1384h-1V1384h-1V1384h-1V1384h-1V1384h-1V1384h-1V1384h-1V1384h-1V1384h-1V1384h-1V1384h-1V1384h-1V1384h-1V1384h-1V1384h-1V1384h-1V1384h-1V1384h-1V1384h-1V1384h-1V1384h-1V1384h-1V1384h-1V1384h-1V1384h-1V1384h-1V1384h-1V1384h-1V1384h-1V1384h-1V1384h-1V1384h-1V1384h-1V1384h-1V1384h-1V1384h-1V1384h-1V1384h-1V1384h-1V1384h-1V1384h-1V1384h-1V1384h-1V1384h-1V1384h-1V1384h-1V1384h-1V1384h-1V1384h-1V1384h-1V1384h-1V1384h-1V1384h-1V1384h-1V1384h-1V1384h-1V1384h-1V1384h-1Z" fill="#00ffff" shape-rendering="crispEdges"/><path d="M165 1401h1V1401h1V1401h1V1401h1V1401h1V1395h1V1395h1V1401h1V1401h1V1401h1V1401h1V1401h1V1401h1V1401h1V1401h1V1401h1V1401h1V1401h1V1401h1V1401h1V1401h1V1401h1V1401h1V1401h1V1401h1V1401h1V1401h1V1401h1V1401h1V1395h1V1395h1V1401h1V1401h1V1401h1V1401h1V1401h1V1401h1V1401h1V1401h1V1401h1V1401h1V1401h1V1401h1V1401h1V1401h1V1401h1V1401h1V1401h1V1401h1V1401h1V1401h1V1395h1V1401h1V1401h1V1401h1V1401h1V1401h1V1401h1V1401h1V1401h1V1401h1V1401h1V1401h1V1401h1V1401h1V1401h1V1395h1V1401h1V1401h1V1401h1V1401h1V1401h1V1401h1V1401h1V1401h1V1401h1V1401h1V1401h1V1401h1V1401h1V1401h1V1395h1V1401h1V1401h1V1401h1V1395h1V1401h1V1395h1V1401h1V1401h1V1401h1V1401h1V1401h1V1401h1V1401h1V1401h1V1401h1V1401h1V1401h1V1401h1V1401h1V1401h1V1395h1V1401h1V1401h1V1401h1V1401h1V1401h1V1401h1V1401h1V1395h1V1401h1V1401h1V1401h1V1401h1V1401h1V1401h1V1401h1V1401h1V1401h1V1401h1V1401h1V1401h1V1401h1V1401h1V1401h1V1401h1V1401h1V1401h1V1401h1V1401h1V1401h1V1401h1V1401h1V1401h1V1401h1V1401h1V1395h1V1401h1V1401h1V1395h1V1401h1V1401h1V1401h1V1401h1V1395h1V1401h1V1401h1V1401h1V1401h1V1395h1V1401h1V1401h1V1401h1V1401h1V1401h1V1401h1V1401h1V1401h1V1401h1V1401h1V1401h1V1401h1V1401h1V1401h1V1401h1V1401h1V1401h1V1401h1V1401h1V1401h1V1401h1V1401h1V1401h1V1401h1V1401h1V1395h1V1401h1V1395h1V1401h1V1401h1V1401h1V1401h1V1401h1V1401h1V1401h1V1401h1V1401h1V1401h1V1401h1V1401h1V1401h1V1401h1V1401h1V1401h1V1395h1V1401h1V1401h1V1401h1V1401h1V1401h1V1401h1V1401h1V1401h1V1401h1V1401h1V1401h1V1401h1V1401h1V1401h1V1401h1V1395h1V1401h1V1401h1V1401h1V1401h1V1401h1V1401h1V1401h1V1401h1V1401h1V1401h1V1401h1V1401h1V1401h1V1395h1V1401h1V1401h1V1401h1V1401h1V1401h1V1401h1V1401h1V1401h1V1401h1V1401h1V1395h1V1401h1V1401h1V1401h1V1401h1V1401h1V1401h1V1401h1V1401h1V1401h1V1401h1V1401h1V1401h1V1401h1V1401h1V1401h1V1401h1V1401h1V1401h1V1401h1V1395h1V1401h1V1401h1V1401h1V1401h1V1401h1V1401h1V1401h1V1401h1V1401h1V1401h1V1401h1V1401h1V1401h1V1401h1V1401h1V1401h1V1401h1V1395h1V1395h1V1401h1V1401h1V1401h1V1401h1V1395h1V1395h1V1401h1V1401h1V1401h1V1401h1V1401h1V1401h1V1395h1V1401h1V1401h1V1401h1V1401h1V1401h1V1401h1V1401h1V1401h1V1401h1V1395h1V1401h1V1395h1V1401h1V1401h1V1401h1V1401h1V1401h1V1401h1V1401h1V1401h1V1401h1V1401h1V1401h1V1401h1V1401h1V1401h1V1401h1V1401h1V1401h1V1401h1V1401h1V1395h1V1401h1V1401h1V1401h1V1401h1V1401h1V1401h1V1401h1V1401h1V1401h1V1401h1V1401h1V1401h1V1401h1V1401h1V1401h1V1401h1V1401h1V1395h1V1395h1V1401h1V1401h1V1401h1V1401h1V1401h1V1401h1V1395h1V1401h1V1395h1V1401h1V1401h1V1401h1V1401h1V1401h1V1395h1V1401h1V1401h1V1401h1V1401h1V1401h1V1395h1V1401h1V1401h1V1401h1V1401h1V1401h1V1401h1V1401h1V1401h1V1401h1V1401h1V1401h1V1401h1V1401h1V1401h1V1401h1V1401h1V1401h1V1401h1V1401h1V1401h1V1401h1V1401h1V1401h1V1401h1V1401h1V1401h1V1401h1V1401h1V1401h1V1401h1V1395h1V1401h1V1401h1V1401h1V1401h1V1401h1V1401h1V1401h1V1401h1V1401h1V1401h1V1401h1V1401h1V1401h1V1401h1V1395h1V1401h1V1401h1V1401h1V1395h1V1401h1V1401h1V1401h1V1401h1V1401h1V1401h1V1401h1V1401h1V1401h1V1395h1V1401h1V1401h1V1401h1V1401h1V1401h1V1401h1V1395h1V1401h1V1401h1V1401h1V1401h1V1395h1V1401h1V1401h1V1401h1V1401h1V1401h1V1401h1V1401h1V1401h1V1401h1V1401h1V1401h1V1401h1V1395h1V1401h1V1401h1V1401h1V1401h1V1401h1V1401h1V1401h1V1401h1V1401h1V1401h1V1401h1V1395h1V1401h1V1401h1V1401h1V1395h1V1401h1V1401h1V1401h1V1401h1V1401h1V1401h1V1401h1V1401h1V1395h1V1395h1V1401h1V1395h1V1401h1V1395h1V1401h1V1401h1V1401h1V1401h1V1395h1V1401h1V1401h1V1401h1V1401h1V1401h1V1401h1V1401h1V1401h1V1401h1V1401h1V1395h1V1395h1V1401h1V1401h1V1401h1V1401h1V1401h1V1401h1V1401h1V1401h1V1401h1V1401h1V1395h1V1401h1V1401h1V1401h1V1401h1V1401h1V1395h1V1401h1V1401h1V1401h1V1395h1V1401h1V1401h1V1401h1V1401h1V1401h1V1401h1V1401h1V1401h1V1401h1V1401h1V1401h1V1401h1V1401h1V1401h1V1401h1V1401h1V1401h1V1401h1V1401h1V1401h1V1401h1V1401h1V1401h1V1395h1V1401h1V1395h1V1401h1V1401h1V1395h1V1401h1V1401h1V1401h1V1395h1V1401h1V1401h1V1401h1V1401h1V1401h1V1401h1V1401h1V1401h1V1401h1V1401h1V1401h1V1401h1V1401h1V1401h1V1401h1V1401h1V1401h1V1401h1V1401h1V1401h1V1401h1V1401h1V1401h1V1401h1V1401h1V1401h1V1401h1V1401h1V1401h1V1401h1V1401h1V1401h1V1395h1V1401h1V1401h1V1395h1V1401h1V1401h1V1401h1V1401h1V1401h1V1401h1V1401h1V1401h1V1401h1V1401h1V1401h1V1401h1V1401h1V1401h1V1401h1V1401h1V1401h1V1401h1V1401h1V1401h1V1401h1V1401h1V1401h1V1401h1V1401h1V1401h1V1401h1V1401h1V1401h1V1401h1V1395h1V1401h1V1401h1V1401h1V1401h1V1395h1V1401h1V1401h1V1395h1V1401h1V1395h1V1401h1V1401h1V1401h1V1401h1V1401h1V1401h1V1401h1V1401h1V1401h1V1401h1V1395h1V1401h1V1401h1V1401h1V1401h1V1395h1V1401h1V1401h1V1401h1V1401h1V1395h1V1401h1V1395h1V1401h1V1401h1V1395h1V1401h1V1401h1V1401h1V1401h1V1401h1V1401h1V1401h1V1401h1V1395h1V1401h1V1401h1V1401h1V1401h1V1401h1V1401h1V1401h1V1401h1V1401h1V1401h1V1401h1V1401h1V1401h1V1401h1V1401h1V1401h1V1401h1V1395h1V1401h1V1401h1V1401h1V1395h1V1401h1V1401h1V1401h1V1401h1V1401h1V1401h1V1401h1V1401h1V1401h1V1401h1V1401h1V1401h1V1401h1V1401h1V1401h1V1395h1V1395h1V1401h1V1401h1V1395h1V1401h1V1395h1V1401h1V1401h1V1401h1V1401h1V1401h1V1401h1V1401h1V1401h1V1401h1V1401h1V1401h1V1401h1V1401h1V1401h1V1401h1V1401h1V1401h1V1401h1V1401h1V1401h1V1401h1V1401h1V1401h1V1401h1V1401h1V1401h1V1401h1V1401h1V1401h1V1401h1V1395h1V1401h1V1401h1V1401h1V1401h1V1401h1V1401h1V1401h1V1401h1V1401h1V1401h1V1401h1V1401h1V1401h1V1401h1V1401h1V1401h1V1401h1V1401h1V1395h1V1401h1V1395h1V1401h1V1401h1V1401h1V1401h1V1401h1V1401h1V1401h1V1401h1V1401h1V1401h1V1401h1V1395h1V1401h1V1395h1V1401h1V1401h1V1401h1V1395h1V1401h1V1395h1V1401h1V1401h1V1401h1V1401h1V1401h1V1401h1V1401h1V1401h1V1401h1V1401h1V1401h1V1401h1V1401h1V1401h1V1401h1V1401h1V1401h1V1401h1V1401h1V1401h1V1401h1V1401h1V1401h1V1401h1V1401h1V1401h1V1401h1V1401h1V1401h1V1401h1V1401h1V1401h1V1401h1V1401h1V1401h1V1401h1V1395h1V1401h1V1401h1V1401h1V1401h1V1401h1V1401h1V1401h1V1395h1V1395h1V1401h1V1401h1V1401h1V1401h1V1401h1V1401h1V1401h1V1401h1V1401h1V1395h1V1401h1V1395h1V1401h1V1401h1V1401h1V1401h1V1401h1V1401h1V1395h1V1401h1V1401h1V1401h1V1401h1V1401h1V1401h1V1401h1V1401h1V1401h1V1401h1V1401h1V1401h1V1401h1V1401h1V1401h1V1401h1V1401h1V1401h1V1401h1V1401h1V1401h1V1401h1V1395h1V1401h1V1401h1V1401h1V1401h1V1401h1V1401h1V1401h1V1401h1V1401h1V1395h1V1401h1V1401h1V1401h1V1401h1V1401h1V1401h1V1395h1V1401h1V1401h1V1401h1V1401h1V1401h1V1401h1V1401h1V1401h1V1401h1V1395h1V1401h1V1395h1V1401h1V1401h1V1401h1V1401h1V1401h1V1401h1V1401h1V1401h1V1395h1V1401h1V1401h1V1401h1V1401h1V1401h1V1401h1V1401h1V1401h1V1401h1V1401h1V1401h1V1401h1V1395h1V1401h1V1401h1V1401h1V1401h1V1395h1V1401h1V1401h1V1401h1V1401h1V1401h1V1395h1V1401h1V1401h1V1401h1V1401h1V1395h1V1401h1V1401h1V1401h1V1401h1V1401h1V1401h1V1401h1V1401h1V1401h1V1401h1V1401h1V1401h1V1401h1V1401h1V1401h1V1401h1V1401h1V1395h1V1401h1V1401h1V1401h1V1401h1V1401h1V1401h1V1401h1V1401h1V1401h1V1401h1V1401h1V1401h1V1401h1V1401h1V1401h1V1395h1V1401h1V1401h1V1401h1V1401h1V1401h1V1401h1V1401h1V1401h1V1395h1V1395h1V1401h1V1401h1V1401h1V1401h1V1401h1V1401h1V1395h1V1401h1V1401h1V1401h1V1401h1V1395h1V1401h1V1401h1V1401h1V1402h-1V1402h-1V1402h-1V1402h-1V1402h-1V1402h-1V1402h-1V1402h-1V1402h-1V1402h-1V1402h-1V1402h-1V1402h-1V1402h-1V1402h-1V1402h-1V1402h-1V1402h-1V1402h-1V1402h-1V1402h-1V1402h-1V1402h-1V1402h-1V1402h-1V1402h-1V1402h-1V1402h-1V1402h-1V1402h-1V1402h-1V1402h-1V1402h-1V1402h-1V1402h-1V1402h-1V1402h-1V1402h-1V1402h-1V1402h-1V1402h-1V1402h-1V1402h-1V1402h-1V1402h-1V1402h-1V1402h-1V1402h-1V1402h-1V1402h-1V1402h-1V1402h-1V1402h-1V1402h-1V1402h-1V1402h-1V1402h-1V1402h-1V1402h-1V1402h-1V1402h-1V1402h-1V1402h-1V1402h-1V1402h-1V1402h-1V1402h-1V1402h-1V1402h-1V1402h-1V1402h-1V1402h-1V1402h-1V1402h-1V1402h-1V1402h-1V1402h-1V1402h-1V1402h-1V1402h-1V1402h-1V1402h-1V1402h-1V1402h-1V1402h-1V1402h-1V1402h-1V1402h-1V1402h-1V1402h-1V1402h-1V1402h-1V1402h-1V1402h-1V1402h-1V1402h-1V1402h-1V1402h-1V1402h-1V1402h-1V1402h-1V1402h-1V1402h-1V1402h-1V1402h-1V1402h-1V1402h-1V1402h-1V1402h-1V1402h-1V1402h-1V1402h-1V1402h-1V1402h-1V1402h-1V1402h-1V1402h-1V1402h-1V1402h-1V1402h-1V1402h-1V1402h-1V1402h-1V1402h-1V1402h-1V1402h-1V1402h-1V1402h-1V1402h-1V1402h-1V1402h-1V1402h-1V1402h-1V1402h-1V1402h-1V1402h-1V1402h-1V1402h-1V1402h-1V1402h-1V1402h-1V1402h-1V1402h-1V1402h-1V1402h-1V1402h-1V1402h-1V1402h-1V1402h-1V1402h-1V1402h-1V1402h-1V1402h-1V1402h-1V1402h-1V1402h-1V1402h-1V1402h-1V1402h-1V1402h-1V1402h-1V1402h-1V1402h-1V1402h-1V1402h-1V1402h-1V1402h-1V1402h-1V1402h-1V1402h-1V1402h-1V1402h-1V1402h-1V1402h-1V1402h-1V1402h-1V1402h-1V1402h-1V1402h-1V1402h-1V1402h-1V1402h-1V1402h-1V1402h-1V1402h-1V1402h-1V1402h-1V1402h-1V1402h-1V1402h-1V1402h-1V1402h-1V1402h-1V1402h-1V1402h-1V1402h-1V1402h-1V1402h-1V1402h-1V1402h-1V1402h-1V1402h-1V1402h-1V1402h-1V1402h-1V1402h-1V1402h-1V1402h-1V1402h-1V1402h-1V1402h-1V1402h-1V1402h-1V1402h-1V1402h-1V1402h-1V1402h-1V1402h-1V1402h-1V1402h-1V1402h-1V1402h-1V1402h-1V1402h-1V1402h-1V1402h-1V1402h-1V1402h-1V1402h-1V1402h-1V1402h-1V1402h-1V1402h-1V1402h-1V1402h-1V1402h-1V1402h-1V1402h-1V1402h-1V1402h-1V1402h-1V1402h-1V1402h-1V1402h-1V1402h-1V1402h-1V1402h-1V1402h-1V1402h-1V1402h-1V1402h-1V1402h-1V1402h-1V1402h-1V1402h-1V1402h-1V1402h-1V1402h-1V1402h-1V1402h-1V1402h-1V1402h-1V1402h-1V1402h-1V1402h-1V1402h-1V1402h-1V1402h-1V1402h-1V1402h-1V1402h-1V1402h-1V1402h-1V1402h-1V1402h-1V1402h-1V1402h-1V1402h-1V1402h-1V1402h-1V1402h-1V1402h-1V1402h-1V1402h-1V1402h-1V1402h-1V1402h-1V1402h-1V1402h-1V1402h-1V1402h-1V1402h-1V1402h-1V1402h-1V1402h-1V1402h-1V1402h-1V1402h-1V1402h-1V1402h-1V1402h-1V1402h-1V1402h-1V1402h-1V1402h-1V1402h-1V1402h-1V1402h-1V1402h-1V1402h-1V1402h-1V1402h-1V1402h-1V1402h-1V1402h-1V1402h-1V1402h-1V1402h-1V1402h-1V1402h-1V1402h-1V1402h-1V1402h-1V1402h-1V1402h-1V1402h-1V1402h-1V1402h-1V1402h-1V1402h-1V1402h-1V1402h-1V1402h-1V1402h-1V1402h-1V1402h-1V1402h-1V1402h-1V1402h-1V1402h-1V1402h-1V1402h-1V1402h-1V1402h-1V1402h-1V1402h-1V1402h-1V1402h-1V1402h-1V1402h-1V1402h-1V1402h-1V1402h-1V1402h-1V1402h-1V1402h-1V1402h-1V1402h-1V1402h-1V1402h-1V1402h-1V1402h-1V1402h-1V1402h-1V1402h-1V1402h-1V1402h-1V1402h-1V1402h-1V1402h-1V1402h-1V1402h-1V1402h-1V1402h-1V1402h-1V1402h-1V1402h-1V1402h-1V1402h-1V1402h-1V1402h-1V1402h-1V1402h-1V1402h-1V1402h-1V1402h-1V1402h-1V1402h-1V1402h-1V1402h-1V1402h-1V1402h-1V1402h-1V1402h-1V1402h-1V1402h-1V1402h-1V1402h-1V1402h-1V1402h-1V1402h-1V1402h-1V1402h-1V1402h-1V1402h-1V1402h-1V1402h-1V1402h-1V1402h-1V1402h-1V1402h-1V1402h-1V1402h-1V1402h-1V1402h-1V1402h-1V1402h-1V1402h-1V1402h-1V1402h-1V1402h-1V1402h-1V1402h-1V1402h-1V1402h-1V1402h-1V1402h-1V1402h-1V1402h-1V1402h-1V1402h-1V1402h-1V1402h-1V1402h-1V1402h-1V1402h-1V1402h-1V1402h-1V1402h-1V1402h-1V1402h-1V1402h-1V1402h-1V1402h-1V1402h-1V1402h-1V1402h-1V1402h-1V1402h-1V1402h-1V1402h-1V1402h-1V1402h-1V1402h-1V1402h-1V1402h-1V1402h-1V1402h-1V1402h-1V1402h-1V1402h-1V1402h-1V1402h-1V1402h-1V1402h-1V1402h-1V1402h-1V1402h-1V1402h-1V1402h-1V1402h-1V1402h-1V1402h-1V1402h-1V1402h-1V1402h-1V1402h-1V1402h-1V1402h-1V1402h-1V1402h-1V1402h-1V1402h-1V1402h-1V1402h-1V1402h-1V1402h-1V1402h-1V1402h-1V1402h-1V1402h-1V1402h-1V1402h-1V1402h-1V1402h-1V1402h-1V1402h-1V1402h-1V1402h-1V1402h-1V1402h-1V1402h-1V1402h-1V1402h-1V1402h-1V1402h-1V1402h-1V1402h-1V1402h-1V1402h-1V1402h-1V1402h-1V1402h-1V1402h-1V1402h-1V1402h-1V1402h-1V1402h-1V1402h-1V1402h-1V1402h-1V1402h-1V1402h-1V1402h-1V1402h-1V1402h-1V1402h-1V1402h-1V1402h-1V1402h-1V1402h-1V1402h-1V1402h-1V1402h-1V1402h-1V1402h-1V1402h-1V1402h-1V1402h-1V1402h-1V1402h-1V1402h-1V1402h-1V1402h-1V1402h-1V1402h-1V1402h-1V1402h-1V1402h-1V1402h-1V1402h-1V1402h-1V1402h-1V1402h-1V1402h-1V1402h-1V1402h-1V1402h-1V1402h-1V1402h-1V1402h-1V1402h-1V1402h-1V1402h-1V1402h-1V1402h-1V1402h-1V1402h-1V1402h-1V1402h-1V1402h-1V1402h-1V1402h-1V1402h-1V1402h-1V1402h-1V1402h-1V1402h-1V1402h-1V1402h-1V1402h-1V1402h-1V1402h-1V1402h-1V1402h-1V1402h-1V1402h-1V1402h-1V1402h-1V1402h-1V1402h-1V1402h-1V1402h-1V1402h-1V1402h-1V1402h-1V1402h-1V1402h-1V1402h-1V1402h-1V1402h-1V1402h-1V1402h-1V1402h-1V1402h-1V1402h-1V1402h-1V1402h-1V1402h-1V1402h-1V1402h-1V1402h-1V1402h-1V1402h-1V1402h-1V1402h-1V1402h-1V1402h-1V1402h-1V1402h-1V1402h-1V1402h-1V1402h-1V1402h-1V1402h-1V1402h-1V1402h-1V1402h-1V1402h-1V1402h-1V1402h-1V1402h-1V1402h-1V1402h-1V1402h-1V1402h-1V1402h-1V1402h-1V1402h-1V1402h-1V1402h-1V1402h-1V1402h-1V1402h-1V1402h-1V1402h-1V1402h-1V1402h-1V1402h-1V1402h-1V1402h-1V1402h-1V1402h-1V1402h-1V1402h-1V1402h-1V1402h-1V1402h-1V1402h-1V1402h-1V1402h-1V1402h-1V1402h-1V1402h-1V1402h-1V1402h-1V1402h-1V1402h-1V1402h-1V1402h-1V1402h-1V1402h-1V1402h-1V1402h-1V1402h-1V1402h-1V1402h-1V1402h-1V1402h-1V1402h-1V1402h-1V1402h-1V1402h-1V1402h-1V1402h-1V1402h-1V1402h-1V1402h-1V1402h-1V1402h-1V1402h-1V1402h-1V1402h-1V1402h-1V1402h-1V1402h-1V1402h-1V1402h-1V1402h-1V1402h-1V1402h-1V1402h-1V1402h-1V1402h-1V1402h-1V1402h-1V1402h-1V1402h-1V1402h-1V1402h-1V1402h-1V1402h-1V1402h-1V1402h-1V1402h-1V1402h-1V1402h-1V1402h-1V1402h-1V1402h-1V1402h-1V1402h-1V1402h-1V1402h-1V1402h-1V1402h-1V1402h-1V1402h-1V1402h-1V1402h-1V1402h-1V1402h-1V1402h-1V1402h-1V1402h-1V1402h-1V1402h-1V1402h-1V1402h-1V1402h-1V1402h-1V1402h-1V1402h-1V1402h-1V1402h-1V1402h-1V1402h-1V1402h-1V1402h-1V1402h-1V1402h-1V1402h-1V1402h-1V1402h-1V1402h-1V1402h-1V1402h-1V1402h-1V1402h-1V1402h-1V1402h-1V1402h-1V1402h-1V1402h-1V1402h-1V1402h-1V1402h-1V1402h-1V1402h-1V1402h-1V1402h-1V1402h-1V1402h-1V1402h-1V1402h-1V1402h-1V1402h-1V1402h-1V1402h-1V1402h-1V1402h-1V1402h-1V1402h-1V1402h-1V1402h-1V1402h-1V1402h-1V1402h-1V1402h-1V1402h-1V1402h-1V1402h-1V1402h-1V1402h-1V1402h-1V1402h-1V1402h-1V1402h-1V1402h-1V1402h-1V1402h-1V1402h-1V1402h-1V1402h-1V1402h-1V1402h-1V1402h-1V1402h-1V1402h-1V1402h-1V1402h-1V1402h-1V1402h-1V1402h-1V1402h-1V1402h-1V1402h-1V1402h-1V1402h-1V1402h-1V1402h-1V1402h-1V1402h-1V1402h-1V1402h-1V1402h-1V1402h-1V1402h-1V1402h-1V1402h-1V1402h-1V1402h-1V1402h-1V1402h-1V1402h-1V1402h-1V1402h-1V1402h-1V1402h-1V1402h-1V1402h-1V1402h-1V1402h-1V1402h-1V1402h-1V1402h-1V1402h-1V1402h-1V1402h-1V1402h-1V1402h-1V1402h-1V1402h-1V1402h-1V1402h-1V1402h-1V1402h-1V1402h-1V1402h-1V1402h-1V1402h-1V1402h-1V1402h-1V1402h-1V1402h-1V1402h-1V1402h-1V1402h-1V1402h-1V1402h-1V1402h-1V1402h-1V1402h-1V1402h-1V1402h-1V1402h-1V1402h-1V1402h-1V1402h-1V1402h-1V1402h-1V1402h-1V1402h-1V1402h-1V1402h-1V1402h-1V1402h-1V1402h-1V1402h-1V1402h-1V1402h-1V1402h-1V1402h-1V1402h-1V1402h-1V1402h-1V1402h-1V1402h-1V1402h-1V1402h-1V1402h-1V1402h-1V1402h-1V1402h-1V1402h-1V1402h-1V1402h-1V1402h-1V1402h-1V1402h-1V1402h-1V1402h-1V1402h-1V1402h-1V1402h-1V1402h-1V1402h-1V1402h-1V1402h-1V1402h-1V1402h-1V1402h-1V1402h-1V1402h-1V1402h-1V1402h-1V1402h-1V1402h-1V1402h-1V1402h-1V1402h-1V1402h-1V1402h-1V1402h-1V1402h-1V1402h-1V1402h-1V1402h-1V1402h-1V1402h-1V1402h-1V1402h-1V1402h-1V1402h-1V1402h-1V1402h-1V1402h-1V1402h-1V1402h-1V1402h-1V1402h-1V1402h-1V1402h-1V1402h-1V1402h-1V1402h-1V1402h-1V1402h-1V1402h-1V1402h-1V1402h-1V1402h-1V1402h-1V1402h-1V1402h-1V1402h-1V1402h-1V1402h-1V1402h-1V1402h-1V1402h-1V1402h-1V1402h-1V1402h-1V1402h-1V1402h-1V1402h-1V1402h-1V1402h-1V1402h-1V1402h-1V1402h-1V1402h-1V1402h-1V1402h-1V1402h-1V1402h-1V1402h-1V1402h-1Z" fill="#00ff00" shape-rendering="crispEdges"/><path d="M165 1383h1V1383h1V1383h1V1383h1V1383h1V1391h1V1391h1V1391h1V1391h1V1391h1V1391h1V1391h1V1391h1V1391h1V1391h1V1391h1V1391h1V1383h1V1391h1V1391h1V1391h1V1391h1V1391h1V1391h1V1391h1V1391h1V1391h1V1391h1V1391h1V1391h1V1383h1V1383h1V1391h1V1383h1V1391h1V1391h1V1391h1V1391h1V1391h1V1391h1V1391h1V1391h1V1391h1V1391h1V1383h1V1391h1V1391h1V1383h1V1383h1V1391h1V1383h1V1391h1V1391h1V1391h1V1391h1V1391h1V1391h1V1391h1V1391h1V1383h1V1391h1V1383h1V1391h1V1383h1V1383h1V1391h1V1391h1V1383h1V1391h1V1383h1V1383h1V1383h1V1391h1V1391h1V1383h1V1391h1V1383h1V1391h1V1383h1V1383h1V1391h1V1383h1V1383h1V1391h1V1391h1V1391h1V1391h1V1391h1V1383h1V1383h1V1383h1V1391h1V1383h1V1391h1V1391h1V1383h1V1383h1V1391h1V1391h1V1391h1V1383h1V1383h1V1391h1V1391h1V1391h1V1391h1V1391h1V1391h1V1391h1V1383h1V1391h1V1383h1V1383h1V1391h1V1383h1V1391h1V1391h1V1383h1V1383h1V1391h1V1391h1V1391h1V1391h1V1391h1V1391h1V1391h1V1391h1V1391h1V1391h1V1391h1V1391h1V1391h1V1383h1V1391h1V1391h1V1383h1V1383h1V1383h1V1383h1V1383h1V1391h1V1391h1V1383h1V1383h1V1391h1V1391h1V1391h1V1391h1V1391h1V1383h1V1391h1V1383h1V1383h1V1391h1V1391h1V1391h1V1391h1V1391h1V1383h1V1383h1V1383h1V1391h1V1391h1V1383h1V1391h1V1383h1V1383h1V1383h1V1383h1V1391h1V1383h1V1383h1V1391h1V1391h1V1391h1V1383h1V1383h1V1391h1V1391h1V1391h1V1383h1V1383h1V1383h1V1391h1V1391h1V1383h1V1383h1V1383h1V1383h1V1383h1V1391h1V1391h1V1391h1V1391h1V1391h1V1391h1V1383h1V1383h1V1383h1V1391h1V1391h1V1383h1V1391h1V1391h1V1391h1V1391h1V1391h1V1391h1V1383h1V1391h1V1391h1V1383h1V1383h1V1383h1V1383h1V1391h1V1391h1V1383h1V1391h1V1391h1V1391h1V1391h1V1383h1V1391h1V1391h1V1383h1V1383h1V1391h1V1391h1V1391h1V1383h1V1383h1V1383h1V1391h1V1391h1V1391h1V1391h1V1391h1V1391h1V1391h1V1391h1V1383h1V1391h1V1391h1V1391h1V1391h1V1391h1V1391h1V1391h1V1383h1V1391h1V1391h1V1383h1V1383h1V1383h1V1391h1V1391h1V1383h1V1383h1V1391h1V1391h1V1391h1V1391h1V1383h1V1383h1V1391h1V1391h1V1391h1V1391h1V1391h1V1391h1V1391h1V1383h1V1391h1V1383h1V1391h1V1391h1V1391h1V1383h1V1383h1V1383h1V1383h1V1383h1V1383h1V1391h1V1391h1V1391h1V1383h1V1391h1V1391h1V1391h1V1383h1V1391h1V1391h1V1383h1V1383h1V1383h1V1391h1V1391h1V1391h1V1391h1V1391h1V1391h1V1391h1V1391h1V1391h1V1391h1V1383h1V1391h1V1391h1V1391h1V1391h1V1391h1V1391h1V1391h1V1383h1V1383h1V1383h1V1383h1V1383h1V1391h1V1391h1V1391h1V1391h1V1391h1V1391h1V1391h1V1383h1V1391h1V1383h1V1383h1V1383h1V1383h1V1383h1V1383h1V1391h1V1383h1V1383h1V1383h1V1383h1V1383h1V1391h1V1383h1V1383h1V1383h1V1383h1V1383h1V1383h1V1383h1V1383h1V1383h1V1383h1V1383h1V1383h1V1383h1V1383h1V1383h1V1391h1V1383h1V1383h1V1383h1V1383h1V1383h1V1391h1V1383h1V1391h1V1383h1V1383h1V1391h1V1383h1V1383h1V1391h1V1383h1V1391h1V1383h1V1383h1V1383h1V1391h1V1383h1V1383h1V1383h1V1383h1V1383h1V1391h1V1383h1V1391h1V1383h1V1383h1V1383h1V1383h1V1383h1V1383h1V1383h1V1383h1V1383h1V1383h1V1383h1V1391h1V1391h1V1383h1V1383h1V1383h1V1383h1V1391h1V1383h1V1383h1V1383h1V1383h1V1383h1V1383h1V1383h1V1383h1V1383h1V1383h1V1383h1V1383h1V1383h1V1383h1V1383h1V1383h1V1383h1V1383h1V1391h1V1383h1V1383h1V1383h1V1383h1V1391h1V1391h1V1383h1V1383h1V1383h1V1383h1V1383h1V1391h1V1383h1V1383h1V1383h1V1383h1V1383h1V1383h1V1383h1V1383h1V1383h1V1383h1V1383h1V1391h1V1391h1V1391h1V1391h1V1383h1V1383h1V1383h1V1383h1V1383h1V1383h1V1391h1V1383h1V1383h1V1383h1V1383h1V1383h1V1383h1V1391h1V1383h1V1383h1V1383h1V1383h1V1383h1V1383h1V1383h1V1391h1V1383h1V1383h1V1383h1V1383h1V1383h1V1383h1V1383h1V1383h1V1383h1V1383h1V1383h1V1391h1V1383h1V1383h1V1391h1V1391h1V1391h1V1383h1V1383h1V1383h1V1383h1V1383h1V1383h1V1383h1V1383h1V1383h1V1383h1V1383h1V1383h1V1383h1V1383h1V1391h1V1383h1V1383h1V1383h1V1383h1V1383h1V1391h1V1391h1V1383h1V1383h1V1383h1V1383h1V1383h1V1383h1V1383h1V1383h1V1383h1V1383h1V1383h1V1383h1V1383h1V1383h1V1391h1V1391h1V1383h1V1383h1V1383h1V1383h1V1383h1V1391h1V1391h1V1391h1V1383h1V1383h1V1383h1V1383h1V1383h1V1383h1V1383h1V1383h1V1383h1V1391h1V1383h1V1383h1V1383h1V1383h1V1383h1V1383h1V1391h1V1391h1V1383h1V1383h1V1383h1V1383h1V1383h1V1383h1V1383h1V1383h1V1383h1V1391h1V1383h1V1383h1V1383h1V1383h1V1383h1V1383h1V1383h1V1383h1V1383h1V1391h1V1391h1V1383h1V1391h1V1391h1V1383h1V1383h1V1391h1V1391h1V1391h1V1383h1V1383h1V1383h1V1383h1V1383h1V1383h1V1383h1V1383h1V1383h1V1383h1V1383h1V1383h1V1383h1V1383h1V1391h1V1391h1V1383h1V1383h1V1383h1V1391h1V1383h1V1383h1V1383h1V1391h1V1383h1V1383h1V1383h1V1383h1V1391h1V1391h1V1391h1V1383h1V1391h1V1383h1V1391h1V1391h1V1391h1V1391h1V1391h1V1383h1V1383h1V1383h1V1383h1V1383h1V1383h1V1383h1V1383h1V1383h1V1383h1V1383h1V1383h1V1383h1V1391h1V1391h1V1391h1V1383h1V1383h1V1383h1V1383h1V1383h1V1383h1V1383h1V1383h1V1383h1V1383h1V1383h1V1383h1V1383h1V1383h1V1383h1V1383h1V1383h1V1383h1V1383h1V1383h1V1383h1V1383h1V1383h1V1383h1V1383h1V1383h1V1383h1V1383h1V1383h1V1383h1V1391h1V1383h1V1383h1V1383h1V1383h1V1383h1V1383h1V1383h1V1383h1V1383h1V1391h1V1383h1V1383h1V1383h1V1383h1V1383h1V1383h1V1383h1V1383h1V1391h1V1391h1V1391h1V1391h1V1391h1V1383h1V1383h1V1391h1V1391h1V1383h1V1383h1V1383h1V1383h1V1383h1V1383h1V1391h1V1383h1V1383h1V1383h1V1383h1V1383h1V1383h1V1383h1V1383h1V1383h1V1383h1V1383h1V1383h1V1383h1V1383h1V1391h1V1391h1V1383h1V1383h1V1383h1V1383h1V1391h1V1383h1V1383h1V1383h1V1383h1V1383h1V1383h1V1383h1V1383h1V1383h1V1383h1V1383h1V1383h1V1391h1V1391h1V1383h1V1383h1V1383h1V1383h1V1383h1V1383h1V1383h1V1383h1V1383h1V1383h1V1383h1V1391h1V1383h1V1391h1V1383h1V1383h1V1391h1V1383h1V1383h1V1383h1V1383h1V1383h1V1391h1V1383h1V1383h1V1391h1V1391h1V1383h1V1383h1V1383h1V1391h1V1383h1V1383h1V1383h1V1383h1V1383h1V1383h1V1383h1V1383h1V1383h1V1383h1V1383h1V1383h1V1383h1V1383h1V1391h1V1383h1V1383h1V1383h1V1383h1V1383h1V1383h1V1383h1V1383h1V1383h1V1383h1V1391h1V1391h1V1383h1V1383h1V1383h1V1383h1V1383h1V1383h1V1383h1V1383h1V1383h1V1383h1V1383h1V1383h1V1383h1V1383h1V1383h1V1391h1V1391h1V1383h1V1383h1V1383h1V1383h1V1383h1V1391h1V1383h1V1383h1V1383h1V1383h1V1383h1V1383h1V1383h1V1383h1V1383h1V1383h1V1383h1V1383h1V1383h1V1391h1V1383h1V1383h1V1383h1V1391h1V1391h1V1383h1V1383h1V1391h1V1383h1V1383h1V1383h1V1383h1V1383h1V1383h1V1383h1V1391h1V1383h1V1383h1V1383h1V1383h1V1383h1V1383h1V1383h1V1383h1V1383h1V1383h1V1383h1V1383h1V1391h1V1383h1V1383h1V1383h1V1383h1V1383h1V1391h1V1383h1V1391h1V1391h1V1383h1V1383h1V1383h1V1383h1V1383h1V1383h1V1383h1V1383h1V1391h1V1383h1V1383h1V1383h1V1383h1V1383h1V1383h1V1383h1V1383h1V1383h1V1383h1V1383h1V1383h1V1383h1V1383h1V1383h1V1383h1V1383h1V1383h1V1383h1V1383h1V1383h1V1383h1V1383h1V1383h1V1383h1V1383h1V1383h1V1391h1V1391h1V1391h1V1383h1V1383h1V1383h1V1383h1V1383h1V1383h1V1383h1V1383h1V1391h1V1391h1V1383h1V1391h1V1391h1V1383h1V1383h1V1383h1V1383h1V1383h1V1391h1V1391h1V1383h1V1383h1V1383h1V1383h1V1383h1V1383h1V1383h1V1383h1V1383h1V1383h1V1383h1V1383h1V1383h1V1383h1V1383h1V1383h1V1383h1V1383h1V1383h1V1383h1V1383h1V1383h1V1383h1V1383h1V1383h1V1391h1V1383h1V1383h1V1383h1V1383h1V1383h1V1383h1V1383h1V1391h1V1391h1V1391h1V1383h1V1383h1V1383h1V1383h1V1383h1V1383h1V1383h1V1383h1V1391h1V1383h1V1383h1V1383h1V1383h1V1383h1V1383h1V1391h1V1383h1V1383h1V1383h1V1383h1V1383h1V1383h1V1383h1V1383h1V1400h-1V1400h-1V1400h-1V1400h-1V1400h-1V1400h-1V1400h-1V1400h-1V1400h-1V1400h-1V1400h-1V1400h-1V1400h-1V1409h-1V1400h-1V1409h-1V1400h-1V1400h-1V1400h-1V1400h-1V1400h-1V1400h-1V1400h-1V1409h-1V1409h-1V1400h-1V1400h-1V1400h-1V1400h-1V1400h-1V1409h-1V1400h-1V1400h-1V1400h-1V1400h-1V1400h-1V1400h-1V1409h-1V1400h-1V1409h-1V1409h-1V1400h-1V1400h-1V1400h-1V1400h-1V1400h-1V1409h-1V1400h-1V1400h-1V1409h-1V1400h-1V1400h-1V1400h-1V1400h-1V1409h-1V1400h-1V1409h-1V1400h-1V1400h-1V1400h-1V1400h-1V1400h-1V1400h-1V1400h-1V1400h-1V1409h-1V1400h-1V1400h-1V1409h-1V1400h-1V1400h-1V1400h-1V1400h-1V1400h-1V1400h-1V1400h-1V1400h-1V1400h-1V1409h-1V1409h-1V1400h-1V1400h-1V1400h-1V1400h-1V1400h-1V1400h-1V1409h-1V1409h-1V1409h-1V1409h-1V1400h-1V1400h-1V1400h-1V1409h-1V1409h-1V1409h-1V1400h-1V1400h-1V1400h-1V1400h-1V1400h-1V1400h-1V1400h-1V1400h-1V1400h-1V1400h-1V1400h-1V1400h-1V1409h-1V1409h-1V1400h-1V1400h-1V1400h-1V1400h-1V1400h-1V1400h-1V1400h-1V1400h-1V1409h-1V1400h-1V1409h-1V1400h-1V1400h-1V1400h-1V1400h-1V1400h-1V1400h-1V1400h-1V1400h-1V1400h-1V1400h-1V1400h-1V1400h-1V1409h-1V1409h-1V1409h-1V1400h-1V1400h-1V1417h-1V1400h-1V1400h-1V1400h-1V1400h-1V1400h-1V1400h-1V1409h-1V1409h-1V1400h-1V1400h-1V1400h-1V1400h-1V1400h-1V1409h-1V1400h-1V1400h-1V1400h-1V1400h-1V1400h-1V1400h-1V1400h-1V1400h-1V1409h-1V1400h-1V1400h-1V1400h-1V1409h-1V1409h-1V1409h-1V1409h-1V1400h-1V1409h-1V1400h-1V1409h-1V1400h-1V1400h-1V1400h-1V1409h-1V1400h-1V1409h-1V1400h-1V1400h-1V1400h-1V1400h-1V1400h-1V1409h-1V1400h-1V1400h-1V1400h-1V1400h-1V1400h-1V1400h-1V1400h-1V1409h-1V1400h-1V1400h-1V1400h-1V1400h-1V1400h-1V1400h-1V1400h-1V1417h-1V1400h-1V1400h-1V1400h-1V1400h-1V1409h-1V1400h-1V1400h-1V1400h-1V1409h-1V1409h-1V1400h-1V1400h-1V1400h-1V1409h-1V1400h-1V1400h-1V1409h-1V1409h-1V1400h-1V1400h-1V1409h-1V1400h-1V1400h-1V1400h-1V1400h-1V1409h-1V1409h-1V1409h-1V1400h-1V1400h-1V1409h-1V1400h-1V1400h-1V1400h-1V1400h-1V1409h-1V1400h-1V1409h-1V1409h-1V1409h-1V1409h-1V1400h-1V1400h-1V1409h-1V1400h-1V1409h-1V1400h-1V1400h-1V1400h-1V1400h-1V1400h-1V1400h-1V1400h-1V1409h-1V1400h-1V1400h-1V1400h-1V1400h-1V1400h-1V1400h-1V1400h-1V1400h-1V1400h-1V1400h-1V1400h-1V1400h-1V1400h-1V1400h-1V1409h-1V1400h-1V1400h-1V1400h-1V1400h-1V1400h-1V1400h-1V1409h-1V1409h-1V1400h-1V1409h-1V1409h-1V1400h-1V1409h-1V1400h-1V1409h-1V1400h-1V1400h-1V1409h-1V1400h-1V1400h-1V1409h-1V1400h-1V1400h-1V1400h-1V1400h-1V1400h-1V1409h-1V1400h-1V1409h-1V1400h-1V1400h-1V1400h-1V1400h-1V1400h-1V1400h-1V1400h-1V1400h-1V1409h-1V1409h-1V1409h-1V1400h-1V1400h-1V1409h-1V1409h-1V1409h-1V1400h-1V1400h-1V1400h-1V1400h-1V1400h-1V1400h-1V1400h-1V1400h-1V1400h-1V1409h-1V1409h-1V1400h-1V1400h-1V1400h-1V1400h-1V1400h-1V1409h-1V1409h-1V1400h-1V1409h-1V1400h-1V1400h-1V1400h-1V1417h-1V1400h-1V1400h-1V1400h-1V1409h-1V1400h-1V1400h-1V1400h-1V1409h-1V1400h-1V1400h-1V1400h-1V1400h-1V1400h-1V1409h-1V1409h-1V1400h-1V1400h-1V1400h-1V1400h-1V1400h-1V1400h-1V1409h-1V1400h-1V1400h-1V1409h-1V1400h-1V1400h-1V1409h-1V1409h-1V1400h-1V1400h-1V1400h-1V1409h-1V1409h-1V1400h-1V1400h-1V1400h-1V1400h-1V1400h-1V1409h-1V1409h-1V1409h-1V1400h-1V1400h-1V1400h-1V1409h-1V1400h-1V1400h-1V1400h-1V1400h-1V1409h-1V1400h-1V1409h-1V1409h-1V1409h-1V1400h-1V1400h-1V1400h-1V1400h-1V1400h-1V1400h-1V1400h-1V1400h-1V1400h-1V1400h-1V1400h-1V1400h-1V1409h-1V1400h-1V1409h-1V1400h-1V1400h-1V1409h-1V1409h-1V1400h-1V1400h-1V1409h-1V1400h-1V1400h-1V1400h-1V1409h-1V1409h-1V1400h-1V1400h-1V1400h-1V1400h-1V1400h-1V1409h-1V1400h-1V1400h-1V1400h-1V1400h-1V1409h-1V1400h-1V1400h-1V1409h-1V1400h-1V1409h-1V1400h-1V1409h-1V1400h-1V1400h-1V1400h-1V1400h-1V1400h-1V1400h-1V1400h-1V1400h-1V1400h-1V1400h-1V1409h-1V1400h-1V1400h-1V1400h-1V1400h-1V1409h-1V1409h-1V1409h-1V1400h-1V1400h-1V1400h-1V1400h-1V1400h-1V1400h-1V1400h-1V1400h-1V1400h-1V1400h-1V1400h-1V1400h-1V1400h-1V1400h-1V1400h-1V1400h-1V1400h-1V1400h-1V1409h-1V1400h-1V1400h-1V1400h-1V1400h-1V1400h-1V1409h-1V1400h-1V1400h-1V1400h-1V1409h-1V1400h-1V1400h-1V1400h-1V1400h-1V1409h-1V1400h-1V1400h-1V1409h-1V1409h-1V1400h-1V1409h-1V1400h-1V1400h-1V1409h-1V1417h-1V1400h-1V1400h-1V1400h-1V1400h-1V1409h-1V1409h-1V1400h-1V1400h-1V1400h-1V1400h-1V1400h-1V1400h-1V1400h-1V1400h-1V1400h-1V1409h-1V1400h-1V1400h-1V1409h-1V1400h-1V1400h-1V1409h-1V1400h-1V1400h-1V1409h-1V1409h-1V1400h-1V1400h-1V1400h-1V1400h-1V1409h-1V1400h-1V1400h-1V1400h-1V1400h-1V1400h-1V1400h-1V1400h-1V1400h-1V1400h-1V1409h-1V1409h-1V1409h-1V1409h-1V1409h-1V1409h-1V1400h-1V1400h-1V1400h-1V1400h-1V1400h-1V1400h-1V1409h-1V1409h-1V1400h-1V1400h-1V1409h-1V1409h-1V1409h-1V1409h-1V1409h-1V1400h-1V1409h-1V1409h-1V1400h-1V1400h-1V1400h-1V1400h-1V1400h-1V1400h-1V1400h-1V1400h-1V1409h-1V1400h-1V1400h-1V1409h-1V1409h-1V1409h-1V1409h-1V1400h-1V1409h-1V1409h-1V1400h-1V1400h-1V1400h-1V1400h-1V1400h-1V1400h-1V1400h-1V1400h-1V1400h-1V1409h-1V1400h-1V1400h-1V1400h-1V1400h-1V1400h-1V1409h-1V1400h-1V1400h-1V1400h-1V1409h-1V1400h-1V1400h-1V1400h-1V1409h-1V1400h-1V1400h-1V1400h-1V1409h-1V1400h-1V1400h-1V1400h-1V1400h-1V1400h-1V1409h-1V1400h-1V1409h-1V1400h-1V1400h-1V1400h-1V1400h-1V1400h-1V1400h-1V1409h-1V1400h-1V1400h-1V1409h-1V1417h-1V1409h-1V1400h-1V1400h-1V1409h-1V1400h-1V1400h-1V1400h-1V1409h-1V1400h-1V1400h-1V1400h-1V1409h-1V1400h-1V1409h-1V1400h-1V1400h-1V1400h-1V1400h-1V1400h-1V1400h-1V1400h-1V1400h-1V1400h-1V1400h-1V1400h-1V1409h-1V1400h-1V1400h-1V1400h-1V1400h-1V1400h-1V1409h-1V1400h-1V1409h-1V1409h-1V1409h-1V1409h-1V1409h-1V1409h-1V1409h-1V1409h-1V1400h-1V1400h-1V1409h-1V1409h-1V1400h-1V1409h-1V1409h-1V1400h-1V1400h-1V1400h-1V1409h-1V1400h-1V1409h-1V1417h-1V1409h-1V1409h-1V1409h-1V1409h-1V1409h-1V1400h-1V1409h-1V1409h-1V1409h-1V1409h-1V1409h-1V1409h-1V1400h-1V1409h-1V1409h-1V1409h-1V1400h-1V1400h-1V1409h-1V1409h-1V1409h-1V1409h-1V1409h-1V1409h-1V1409h-1V1409h-1V1409h-1V1409h-1V1400h-1V1409h-1V1409h-1V1409h-1V1409h-1V1409h-1V1409h-1V1400h-1V1409h-1V1409h-1V1409h-1V1400h-1V1400h-1V1409h-1V1409h-1V1417h-1V1409h-1V1409h-1V1409h-1V1409h-1V1400h-1V1400h-1V1409h-1V1409h-1V1409h-1V1409h-1V1409h-1V1409h-1V1409h-1V1417h-1V1409h-1V1409h-1V1400h-1V1409h-1V1400h-1V1400h-1V1409h-1V1409h-1V1409h-1V1417h-1V1417h-1V1409h-1V1417h-1V1409h-1V1409h-1V1400h-1V1409h-1V1409h-1V1400h-1V1400h-1V1409h-1V1409h-1V1400h-1V1400h-1V1400h-1V1409h-1V1400h-1V1409h-1V1409h-1V1409h-1V1409h-1V1400h-1V1400h-1V1409h-1V1409h-1V1400h-1V1400h-1V1409h-1V1400h-1V1409h-1V1400h-1V1400h-1V1400h-1V1409h-1V1409h-1V1400h-1V1409h-1V1409h-1V1409h-1V1409h-1V1409h-1V1409h-1V1409h-1V1409h-1V1409h-1V1409h-1V1400h-1V1400h-1V1409h-1V1400h-1V1409h-1V1417h-1V1417h-1V1400h-1V1409h-1V1400h-1V1400h-1V1409h-1V1409h-1V1409h-1V1400h-1V1400h-1V1409h-1V1409h-1V1409h-1V1409h-1V1409h-1V1409h-1V1400h-1V1409h-1V1409h-1V1417h-1V1400h-1V1409h-1V1409h-1V1409h-1V1409h-1V1409h-1V1409h-1V1409h-1V1400h-1V1409h-1V1400h-1V1409h-1V1409h-1V1409h-1V1400h-1V1409h-1V1409h-1V1409h-1V1400h-1V1409h-1V1409h-1V1400h-1V1409h-1V1400h-1V1409h-1V1409h-1V1400h-1V1400h-1V1409h-1V1400h-1V1409h-1V1400h-1V1409h-1V1400h-1V1400h-1V1409h-1V1400h-1V1409h-1V1409h-1V1409h-1V1400h-1V1409h-1V1409h-1V1409h-1V1400h-1V1409h-1V1409h-1V1400h-1V1400h-1V1409h-1V1409h-1V1409h-1V1409h-1V1409h-1V1409h-1V1409h-1V1400h-1V1409h-1V1400h-1V1409h-1V1409h-1V1400h-1V1400h-1V1409h-1V1409h-1V1400h-1V1400h-1V1400h-1V1409h-1V1409h-1V1409h-1V1409h-1V1400h-1V1400h-1V1409h-1V1409h-1V1409h-1V1409h-1V1409h-1V1409h-1V1400h-1V1417h-1V1409h-1V1409h-1V1409h-1V1409h-1V1409h-1V1409h-1V1409h-1V1409h-1V1409h-1V1409h-1V1400h-1V1409h-1V1409h-1V1400h-1V1400h-1V1400h-1V1400h-1V1409h-1V1400h-1V1409h-1V1409h-1V1409h-1V1409h-1V1400h-1V1409h-1V1409h-1V1400h-1V1400h-1V1400h-1V1417h-1V1409h-1V1409h-1V1417h-1V1409h-1V1409h-1V1409h-1V1409h-1V1409h-1V1409h-1V1400h-1V1417h-1V1409h-1V1409h-1V1409h-1V1400h-1V1409h-1V1409h-1V1417h-1V1417h-1V1409h-1V1409h-1V1400h-1V1409h-1V1417h-1V1409h-1V1400h-1V1409h-1V1409h-1V1417h-1V1417h-1V1409h-1V1400h-1V1409h-1V1400h-1V1409h-1V1409h-1V1417h-1V1409h-1V1400h-1V1409h-1V1400h-1V1400h-1V1409h-1V1409h-1V1409h-1V1409h-1V1409h-1V1409h-1V1400h-1V1409h-1V1409h-1V1409h-1Z" fill="#ffff00" shape-rendering="crispEdges"/><path d="M165.5 1417V1428" stroke="#80e000" stroke-width="1.5" fill="none"/><path d="M165.6 1383V1417M165.6 1428V1452" stroke="#ffff00" stroke-width="1.6" fill="none"/></g>
<text class="tk" text-anchor="end" x="156.3" y="612.5">5</text>
<text class="tk" text-anchor="end" x="156.3" y="661.5">4</text>
<text class="tk" text-anchor="end" x="156.3" y="709.5">3</text>
<text class="tk" text-anchor="end" x="156.3" y="757.5">2</text>
<text class="yl" transform="translate(106.4,682.5) rotate(-90)">Total Field</text>
<text class="yl" transform="translate(129.6,682.5) rotate(-90)">|B| (nT)</text>
<text class="tk" x="166" y="594.7"><tspan fill-opacity="0.78">×</tspan>10<tspan dy="-8.5" font-size="16.7px">4</tspan></text>
<text class="tk" text-anchor="end" x="156.3" y="841.8">20</text>
<text class="tk" text-anchor="end" x="156.3" y="896.8">0</text>
<text class="tk" text-anchor="end" x="156.3" y="950.8">-20</text>
<text class="tk" text-anchor="end" x="156.3" y="1005.7">-40</text>
<text class="yl" transform="translate(86,917.5) rotate(-90)">Model - Measured</text>
<text class="yl" transform="translate(110.3,917.5) rotate(-90)">|B| (nT)</text>
<text class="tk" text-anchor="end" x="156.3" y="1103.5">0</text>
<text class="tk" text-anchor="end" x="156.3" y="1160.5">-5</text>
<text class="tk" text-anchor="end" x="156.3" y="1217.5">-10</text>
<text class="yl" transform="translate(86,1153) rotate(-90)">Temperature</text>
<text class="yl" transform="translate(111,1153) rotate(-90)">(°C)</text>
<text class="tk" text-anchor="end" x="156.3" y="1313.5">100</text>
<text class="tk" text-anchor="end" x="156.3" y="1394.5">0</text>
<text class="tk" text-anchor="end" x="156.3" y="1476.5">-100</text>
<text class="yl" transform="translate(72.2,1388.3) rotate(-90)">Voltage</text>
<text class="yl" transform="translate(98.4,1388.3) rotate(-90)">(mV)</text>
<text class="lg" transform="translate(1170,678.5) rotate(-90)">Inboard</text>
<text class="lg" transform="translate(1182,699.5) rotate(-90)">Outboard</text>
<text class="lg" transform="translate(1194.2,660) rotate(-90)">Chaos</text>
<path d="M1165 718.5V733.5" stroke="#0000ff" stroke-width="2" fill="none"/>
<path d="M1180 718.5V733.5" stroke="#00ff00" stroke-width="2" fill="none"/>
<path d="M1192 718.5V733.5" stroke="#ff0000" stroke-width="2" fill="none"/>
<text class="lg" transform="translate(1170,920) rotate(-90)">Inboard</text>
<text class="lg" transform="translate(1182,940) rotate(-90)">Outboard</text>
<path d="M1165 957V973" stroke="#0000ff" stroke-width="2" fill="none"/>
<path d="M1180 957V973" stroke="#00ff00" stroke-width="2" fill="none"/>
<text class="lg" transform="translate(1170,1177.5) rotate(-90)">Inboard EBox</text>
<text class="lg" transform="translate(1182,1192.5) rotate(-90)">Inboard Sensor</text>
<text class="lg" transform="translate(1194,1192.5) rotate(-90)">Outboard EBox</text>
<text class="lg" transform="translate(1205,1213) rotate(-90)">Outboard Sensor</text>
<path d="M1168 1233.5V1249.5" stroke="#0000ff" stroke-width="2" fill="none"/>
<path d="M1180 1233.5V1249.5" stroke="#00ffff" stroke-width="2" fill="none"/>
<path d="M1192 1233.5V1249.5" stroke="#00ff00" stroke-width="2" fill="none"/>
<path d="M1203 1233.5V1249.5" stroke="#ffff00" stroke-width="2" fill="none"/>
<text class="lg" transform="translate(1170,1439) rotate(-90)">Inboard VMon1</text>
<text class="lg" transform="translate(1182,1439) rotate(-90)">Inboard VMon2</text>
<text class="lg" transform="translate(1194,1446.5) rotate(-90)">Outboard VMon1</text>
<text class="lg" transform="translate(1206,1446.5) rotate(-90)">Outboard VMon2</text>
<path d="M1168 1462.3V1478" stroke="#0000ff" stroke-width="2" fill="none"/>
<path d="M1180 1462.3V1478" stroke="#00ffff" stroke-width="2" fill="none"/>
<path d="M1192 1462.3V1478" stroke="#00ff00" stroke-width="2" fill="none"/>
<path d="M1203 1462.3V1478" stroke="#ffff00" stroke-width="2" fill="none"/>
<text class="tb" x="40.5" y="1499.0">Time:</text>
<text class="tb" text-anchor="middle" x="165.5" y="1499.0">19:15:18</text>
<text class="tb" text-anchor="middle" x="412.5" y="1499.0">19:40:13</text>
<text class="tb" text-anchor="middle" x="660" y="1499.0">20:05:09</text>
<text class="tb" text-anchor="middle" x="907.5" y="1499.0">20:30:04</text>
<text class="tb" text-anchor="middle" x="1155" y="1499.0">20:54:59</text>
<text class="tb" x="40.5" y="1519.9">Rad(km):</text>
<text class="tb" text-anchor="middle" x="165.5" y="1519.9">7049.2</text>
<text class="tb" text-anchor="middle" x="412.5" y="1519.9">6720.5</text>
<text class="tb" text-anchor="middle" x="660" y="1519.9">7346.2</text>
<text class="tb" text-anchor="middle" x="907.5" y="1519.9">7640.3</text>
<text class="tb" text-anchor="middle" x="1155" y="1519.9">7081.4</text>
<text class="tb" x="40.5" y="1540.8">Lat:</text>
<text class="tb" text-anchor="middle" x="165.5" y="1540.8">-39.5</text>
<text class="tb" text-anchor="middle" x="412.5" y="1540.8">57.8</text>
<text class="tb" text-anchor="middle" x="660" y="1540.8">27.2</text>
<text class="tb" text-anchor="middle" x="907.5" y="1540.8">-51.4</text>
<text class="tb" text-anchor="middle" x="1155" y="1540.8">-43.7</text>
<text class="tb" x="40.5" y="1561.8">Lon:</text>
<text class="tb" text-anchor="middle" x="165.5" y="1561.8">67.9</text>
<text class="tb" text-anchor="middle" x="412.5" y="1561.8">83.8</text>
<text class="tb" text-anchor="middle" x="660" y="1561.8">-121.7</text>
<text class="tb" text-anchor="middle" x="907.5" y="1561.8">-111.8</text>
<text class="tb" text-anchor="middle" x="1155" y="1561.8">41.7</text>
<text class="tb" x="40.5" y="1582.7">Mlat:</text>
<text class="tb" text-anchor="middle" x="165.5" y="1582.7">-46.5</text>
<text class="tb" text-anchor="middle" x="412.5" y="1582.7">49.0</text>
<text class="tb" text-anchor="middle" x="660" y="1582.7">33.1</text>
<text class="tb" text-anchor="middle" x="907.5" y="1582.7">-43.8</text>
<text class="tb" text-anchor="middle" x="1155" y="1582.7">-46.9</text>
<text class="tb" x="40.5" y="1603.6">Mlt:</text>
<text class="tb" text-anchor="middle" x="165.5" y="1603.6">23.139</text>
<text class="tb" text-anchor="middle" x="412.5" y="1603.6">1.292</text>
<text class="tb" text-anchor="middle" x="660" y="1603.6">11.396</text>
<text class="tb" text-anchor="middle" x="907.5" y="1603.6">13.142</text>
<text class="tb" text-anchor="middle" x="1155" y="1603.6">22.775</text>
<text class="tb" x="160.3" y="1642.5" style="white-space:pre">MGF Quicklook using MGF_20200113_191517_205459_v2.1.0.lv2 on 18-Jun-2024 00:06:20 (calibration from static )</text>
</svg>
</body></html>
